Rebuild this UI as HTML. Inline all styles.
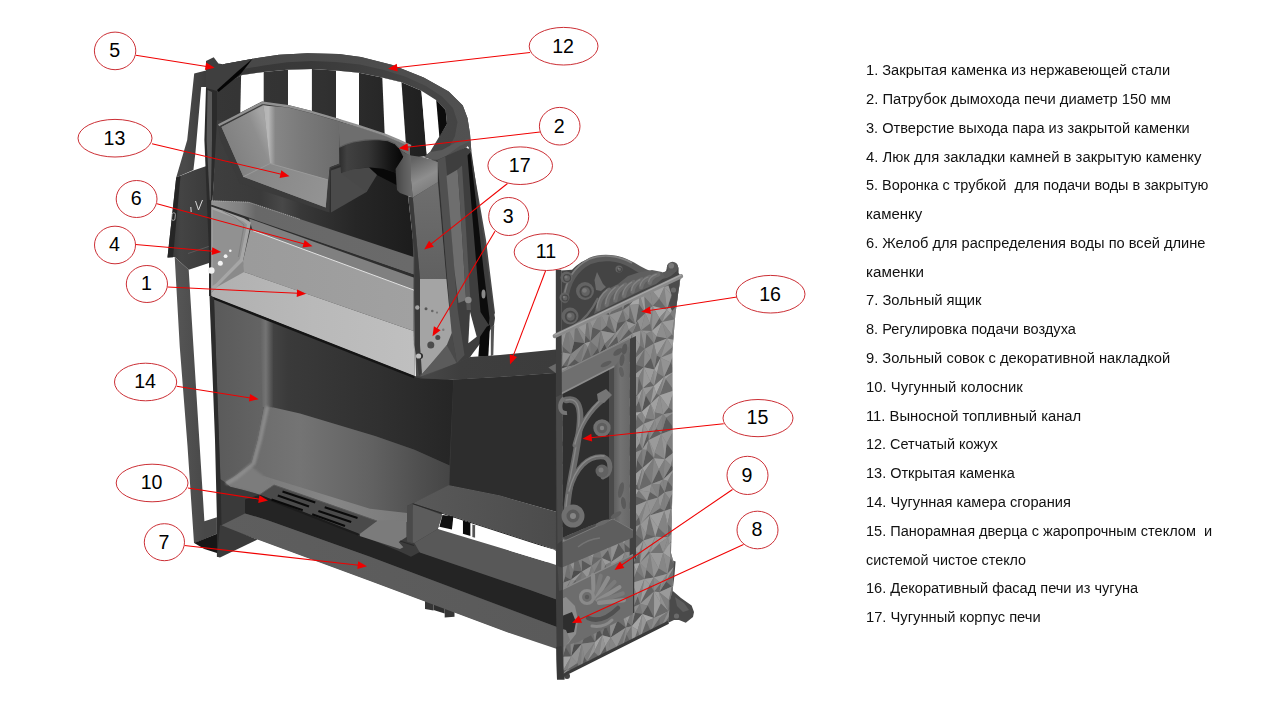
<!DOCTYPE html>
<html><head><meta charset="utf-8"><title>Stove diagram</title>
<style>
html,body{margin:0;padding:0;background:#fff;}
body{width:1280px;height:720px;position:relative;overflow:hidden;font-family:"Liberation Sans",sans-serif;}
.t{position:absolute;left:866px;white-space:pre;color:#111;font-size:14px;line-height:20px;transform-origin:0 50%;}
</style></head><body>
<svg width="1280" height="720" viewBox="0 0 1280 720" style="position:absolute;left:0;top:0"><defs><linearGradient id="gBack" gradientUnits="userSpaceOnUse" x1="217" y1="0" x2="430" y2="0"><stop offset="0" stop-color="#363636"/><stop offset="0.5" stop-color="#313131"/><stop offset="1" stop-color="#1f1f1f"/></linearGradient><linearGradient id="gRing" gradientUnits="userSpaceOnUse" x1="220" y1="0" x2="470" y2="0"><stop offset="0" stop-color="#383838"/><stop offset="0.35" stop-color="#393939"/><stop offset="0.8" stop-color="#464646"/><stop offset="1" stop-color="#434343"/></linearGradient><linearGradient id="gRingTop" gradientUnits="userSpaceOnUse" x1="220" y1="0" x2="470" y2="0"><stop offset="0" stop-color="#474747"/><stop offset="0.4" stop-color="#4a4a4a"/><stop offset="1" stop-color="#515151"/></linearGradient><linearGradient id="gLP0" gradientUnits="userSpaceOnUse" x1="185" y1="0" x2="206" y2="0"><stop offset="0" stop-color="#4a4a4a"/><stop offset="1" stop-color="#3c3c3c"/></linearGradient><linearGradient id="gPlate" gradientUnits="userSpaceOnUse" x1="168" y1="0" x2="211" y2="0"><stop offset="0" stop-color="#343434"/><stop offset="0.3" stop-color="#444444"/><stop offset="1" stop-color="#3a3a3a"/></linearGradient><linearGradient id="gLP" gradientUnits="userSpaceOnUse" x1="175" y1="0" x2="205" y2="0"><stop offset="0" stop-color="#565656"/><stop offset="1" stop-color="#484848"/></linearGradient><linearGradient id="gBody" gradientUnits="userSpaceOnUse" x1="217" y1="0" x2="415" y2="0"><stop offset="0" stop-color="#3e3e3e"/><stop offset="0.22" stop-color="#3a3a3a"/><stop offset="0.33" stop-color="#484848"/><stop offset="0.42" stop-color="#383838"/><stop offset="0.7" stop-color="#262626"/><stop offset="1" stop-color="#1c1c1c"/></linearGradient><linearGradient id="gBT" gradientUnits="userSpaceOnUse" x1="411" y1="160" x2="430" y2="195"><stop offset="0" stop-color="#626262"/><stop offset="0.55" stop-color="#8e8e8e"/><stop offset="1" stop-color="#777777"/></linearGradient><linearGradient id="gBR" gradientUnits="userSpaceOnUse" x1="0" y1="185" x2="0" y2="280"><stop offset="0" stop-color="#6e6e6e"/><stop offset="1" stop-color="#606060"/></linearGradient><linearGradient id="gPanL" gradientUnits="userSpaceOnUse" x1="222" y1="150" x2="268" y2="130"><stop offset="0" stop-color="#7d7d7d"/><stop offset="0.75" stop-color="#8e8e8e"/><stop offset="1" stop-color="#a4a4a4"/></linearGradient><linearGradient id="gPanB" gradientUnits="userSpaceOnUse" x1="263" y1="0" x2="340" y2="0"><stop offset="0" stop-color="#b2b2b2"/><stop offset="0.07" stop-color="#b8b8b8"/><stop offset="0.16" stop-color="#868686"/><stop offset="0.5" stop-color="#7a7a7a"/><stop offset="1" stop-color="#6c6c6c"/></linearGradient><linearGradient id="gPanF" gradientUnits="userSpaceOnUse" x1="250" y1="170" x2="325" y2="200"><stop offset="0" stop-color="#868686"/><stop offset="1" stop-color="#939393"/></linearGradient><linearGradient id="gPipe" gradientUnits="userSpaceOnUse" x1="339" y1="0" x2="404" y2="0"><stop offset="0" stop-color="#2c2c2c"/><stop offset="0.12" stop-color="#414141"/><stop offset="0.45" stop-color="#353535"/><stop offset="0.8" stop-color="#141414"/><stop offset="1" stop-color="#050505"/></linearGradient><linearGradient id="gTab" gradientUnits="userSpaceOnUse" x1="396" y1="0" x2="412" y2="0"><stop offset="0" stop-color="#464646"/><stop offset="0.5" stop-color="#5a5a5a"/><stop offset="1" stop-color="#6a6a6a"/></linearGradient><linearGradient id="gTr" gradientUnits="userSpaceOnUse" x1="211" y1="0" x2="414" y2="0"><stop offset="0" stop-color="#949494"/><stop offset="0.15" stop-color="#808080"/><stop offset="0.22" stop-color="#686868"/><stop offset="1" stop-color="#6a6a6a"/></linearGradient><linearGradient id="gHB" gradientUnits="userSpaceOnUse" x1="250" y1="0" x2="414" y2="0"><stop offset="0" stop-color="#9b9b9b"/><stop offset="1" stop-color="#a1a1a1"/></linearGradient><linearGradient id="gHF" gradientUnits="userSpaceOnUse" x1="212" y1="0" x2="414" y2="0"><stop offset="0" stop-color="#b0b0b0"/><stop offset="0.5" stop-color="#b9b9b9"/><stop offset="1" stop-color="#bfbfbf"/></linearGradient><filter id="fBlur" x="-20%" y="-20%" width="140%" height="140%"><feGaussianBlur stdDeviation="1.3"/></filter><linearGradient id="gCB" gradientUnits="userSpaceOnUse" x1="270" y1="0" x2="452" y2="0"><stop offset="0" stop-color="#444444"/><stop offset="0.1" stop-color="#3a3a3a"/><stop offset="0.6" stop-color="#303030"/><stop offset="1" stop-color="#262626"/></linearGradient><linearGradient id="gCL" gradientUnits="userSpaceOnUse" x1="250" y1="0" x2="450" y2="0"><stop offset="0" stop-color="#6c6c6c"/><stop offset="0.25" stop-color="#747474"/><stop offset="0.6" stop-color="#626262"/><stop offset="0.85" stop-color="#4f4f4f"/><stop offset="1" stop-color="#454545"/></linearGradient><linearGradient id="gCL2" gradientUnits="userSpaceOnUse" x1="260" y1="0" x2="407" y2="0"><stop offset="0" stop-color="#7a7a7a"/><stop offset="0.5" stop-color="#868686"/><stop offset="1" stop-color="#7a7a7a"/></linearGradient><linearGradient id="gCLf" gradientUnits="userSpaceOnUse" x1="214" y1="0" x2="264" y2="0"><stop offset="0" stop-color="#5a5a5a"/><stop offset="1" stop-color="#646464"/></linearGradient><linearGradient id="gHL" gradientUnits="userSpaceOnUse" x1="260" y1="0" x2="273" y2="0"><stop offset="0" stop-color="#626262"/><stop offset="0.45" stop-color="#747474"/><stop offset="1" stop-color="#474747"/></linearGradient><linearGradient id="gAsh" gradientUnits="userSpaceOnUse" x1="220" y1="0" x2="557" y2="0"><stop offset="0" stop-color="#5e5e5e"/><stop offset="1" stop-color="#5a5a5a"/></linearGradient><linearGradient id="gChT" gradientUnits="userSpaceOnUse" x1="420" y1="0" x2="556" y2="0"><stop offset="0" stop-color="#484848"/><stop offset="0.3" stop-color="#3e3e3e"/><stop offset="1" stop-color="#3c3c3c"/></linearGradient><linearGradient id="gBoxT" gradientUnits="userSpaceOnUse" x1="413" y1="0" x2="562" y2="0"><stop offset="0" stop-color="#595959"/><stop offset="1" stop-color="#4b4b4b"/></linearGradient><clipPath id="cFace"><polygon points="561.0,334.0 680.6,277.3 679.5,285.0 678.4,291.5 675.3,315.0 672.3,352.0 672.6,480.0 671.0,553.0 673.5,562.0 672.6,590.8 670.0,600.0 668.3,622.8 568.7,672.5 563.0,673.0 561.5,540.0"/></clipPath><linearGradient id="gFr" gradientUnits="userSpaceOnUse" x1="614" y1="0" x2="630" y2="0"><stop offset="0" stop-color="#5e5e5e"/><stop offset="0.4" stop-color="#727272"/><stop offset="1" stop-color="#686868"/></linearGradient></defs><polygon points="217.0,88.0 242.0,75.0 263.7,72.0 287.0,69.7 312.0,69.0 335.6,70.5 359.0,72.8 382.0,77.5 401.0,82.0 421.4,90.8 426.0,148.0 427.0,156.0 411.0,158.0 340.0,150.0 259.8,104.0 218.4,126.0 217.0,126.0" fill="url(#gBack)" />
<polygon points="241.1,75.2 263.7,72.0 263.7,104.0 240.3,113.0" fill="#fff" />
<polygon points="288.0,69.8 311.9,69.0 311.9,113.0 288.0,107.0" fill="#fff" />
<polygon points="336.0,70.6 359.0,72.8 359.0,127.0 336.0,120.0" fill="#fff" />
<polygon points="382.3,77.5 401.5,82.2 405.8,143.0 384.7,135.0" fill="#fff" />
<polygon points="421.4,90.8 436.2,100.0 439.4,137.0 437.8,151.0 426.9,154.0" fill="#fff" />
<polygon points="217.0,90.0 223.0,64.2 253.0,58.7 279.0,54.8 307.5,53.3 338.7,54.0 361.0,57.0 392.5,65.0 423.7,77.5 448.7,91.5 462.8,105.6 467.5,118.0 470.0,133.7 471.4,152.0 468.0,146.0 437.8,161.0 424.0,157.0 430.0,152.0 439.0,137.0 447.0,124.0 445.6,110.0 436.0,100.0 421.4,90.8 401.0,82.0 382.0,77.5 359.0,72.8 335.6,70.5 312.0,69.0 287.0,69.7 263.7,72.0 242.0,75.0" fill="url(#gRing)" />
<polygon points="223.0,64.2 253.0,58.7 279.0,54.8 307.5,53.3 338.7,54.0 361.0,57.0 392.5,65.0 423.7,77.5 448.7,91.5 462.8,105.6 467.5,118.0 470.0,133.7 471.4,152.0 468.0,146.0 452.0,154.0 444.0,156.0 449.0,148.0 455.0,136.0 457.5,122.0 453.0,108.0 442.0,96.5 426.0,86.0 405.0,76.5 384.0,70.0 360.0,64.5 336.0,62.0 312.0,61.0 287.0,62.3 263.7,65.5 240.0,69.5" fill="url(#gRingTop)" />
<polygon points="436.2,100.0 445.6,110.0 447.0,124.0 439.4,137.0" fill="#0c0c0c" />
<polygon points="424.0,157.0 430.0,152.0 442.0,150.0 455.0,143.0 468.0,139.0 470.6,141.0 459.7,146.0 437.8,162.0" fill="#5a5a5a" />
<polygon points="194.2,73.6 206.0,70.5 206.0,87.0 201.2,87.0 195.5,152.0 193.4,170.0 176.2,177.5 187.2,140.0" fill="url(#gLP0)" />
<polygon points="176.2,177.5 193.4,170.5 206.5,166.0 212.0,200.0 212.0,262.0 188.7,269.7 174.7,257.0 167.5,257.5" fill="url(#gPlate)" />
<polygon points="167.5,257.5 176.2,177.5 180.5,176.0 173.0,257.2" fill="#262626" />
<polyline points="188.0,253.5 210.0,246.0" fill="none" stroke="#5a5a5a" stroke-width="1" />
<polyline points="195.5,201.0 198.5,210.0 202.5,200.0" fill="none" stroke="#d8d8d8" stroke-width="1" />
<polyline points="190.8,207.0 191.2,212.0" fill="none" stroke="#d8d8d8" stroke-width="1" />
<rect x="171.8" y="212.8" width="3.4" height="7.6" rx="1.6" fill="none" stroke="#b8b8b8" stroke-width="0.8" transform="rotate(6 173.5 216.5)"/>
<polygon points="174.7,257.0 188.7,269.7 193.4,346.0 199.7,446.0 204.4,521.2 216.9,517.3 216.9,533.7 195.0,543.0 194.0,543.0 187.5,446.0 179.7,346.0" fill="url(#gLP)" />
<polygon points="194.2,543.0 216.9,533.7 218.4,553.5 204.4,549.0" fill="#161616" />
<polygon points="206.0,87.0 217.0,90.0 217.0,140.0 212.5,201.0 211.5,296.0 209.0,296.0 209.0,252.0 204.4,140.0" fill="#2b2b2b" />
<polygon points="207.6,90.0 212.0,92.0 212.0,140.0 210.8,200.0 209.8,200.0 206.6,140.0" fill="#595959" />
<polygon points="206.0,61.0 213.7,57.2 218.4,63.4 223.0,64.2 252.8,58.7 217.0,91.0 206.0,88.0" fill="#3f3f3f" />
<polygon points="252.8,58.4 238.0,71.0 217.0,90.0 218.6,92.0 241.0,73.5" fill="#050505" />
<polygon points="217.0,120.0 415.0,160.0 408.0,196.0 414.4,252.0 414.4,380.0 211.5,300.0 212.5,201.0" fill="url(#gBody)" />
<polygon points="409.0,158.0 440.0,160.0 470.0,148.0 486.0,240.0 495.0,313.0 470.0,357.0 452.0,376.0 416.0,380.0 413.0,250.0" fill="#4a4a4a" />
<polygon points="436.7,160.3 445.0,156.5 466.0,147.0 471.5,152.0 478.2,200.0 488.0,270.0 493.6,310.0 495.0,318.0 494.0,325.0 470.0,357.0 457.0,363.0 451.7,333.0 449.0,310.0" fill="#3e3e3e" />
<polygon points="436.7,160.5 445.3,156.5 449.5,200.0 454.4,270.0 457.7,310.0 464.5,355.0 457.0,363.0 451.7,333.0 449.0,310.0 445.7,270.0 440.0,200.0" fill="#505050" />
<polyline points="436.9,160.5 440.2,200.0 445.9,270.0 449.2,310.0" fill="none" stroke="#303030" stroke-width="1.2" />
<polygon points="446.5,176.0 457.6,169.5 459.8,200.0 464.2,270.0 466.1,300.0 458.5,303.0 454.4,270.0 448.6,200.0" fill="#6e6e6e" />
<polygon points="457.6,169.5 462.0,165.5 464.2,200.0 468.5,270.0 471.0,310.0 466.7,310.0 464.2,270.0 459.8,200.0" fill="#565656" />
<polygon points="467.5,155.5 470.3,152.5 475.8,200.0 483.6,270.0 489.5,318.0 488.8,325.0 480.5,312.0 476.8,270.0 471.0,200.0" fill="#0c0c0c" />
<polygon points="470.0,311.7 476.7,336.7 468.3,343.3" fill="#fff" />
<polygon points="470.5,358.0 486.0,337.0 478.5,354.0 478.3,357.5" fill="#fff" />
<polygon points="478.3,356.7 480.0,336.7 486.7,326.7 490.0,325.0 488.3,356.7" fill="#0a0a0a" />
<polygon points="490.8,327.0 494.2,325.0 493.3,355.0 490.8,356.0" fill="#555" />
<circle cx="468.3" cy="300" r="3.3" fill="#8a8a8a"/>
<ellipse cx="483.5" cy="294" rx="2" ry="4.5" fill="#8a8a8a"/>
<polygon points="411.0,155.6 423.7,157.2 437.8,161.9 437.8,182.2 412.8,197.5 411.0,180.6" fill="url(#gBT)" />
<polygon points="412.8,197.8 437.8,182.0 446.4,279.0 420.0,279.0" fill="url(#gBR)" />
<polygon points="408.0,196.0 412.8,197.8 420.0,279.0 420.0,345.0 423.7,352.0 422.0,372.0 419.0,376.0 414.4,345.0 414.4,252.0" fill="#3a3a3a" />
<polygon points="217.5,124.4 262.0,101.5 288.0,105.0 311.9,111.0 336.0,118.0 340.5,119.5 340.5,165.0 330.5,168.5 329.5,212.5 326.0,211.5 239.5,183.0 220.5,140.0" fill="#3b3b3b" />
<polygon points="221.5,127.0 263.0,105.0 338.7,121.5 338.7,163.5 329.4,167.0 325.7,207.5 243.4,176.7" fill="#828282" />
<polygon points="221.5,127.0 263.5,105.5 270.0,163.5 243.4,176.7" fill="url(#gPanL)" />
<polygon points="263.5,105.5 288.0,107.5 311.9,113.5 338.7,121.5 338.7,163.5 329.4,167.0 327.8,179.8 270.0,163.5" fill="url(#gPanB)" />
<polygon points="243.4,176.7 270.0,163.5 327.8,179.8 325.7,207.5" fill="url(#gPanF)" />
<polyline points="243.4,176.7 270.0,163.5 327.8,179.8" fill="none" stroke="#9a9a9a" stroke-width="1" />
<polygon points="338.7,121.5 359.0,127.0 384.7,135.5 399.0,141.5 410.0,146.0 410.0,156.0 399.0,149.0 388.0,141.0 377.0,139.8 365.0,140.5 353.4,142.3 339.4,147.5" fill="#6e6e6e" />
<polyline points="218.6,125.2 262.5,102.8 288.0,106.2 311.9,112.2 336.0,119.2 359.0,126.2 384.7,134.7 399.0,140.6 411.0,146.0" fill="none" stroke="#919191" stroke-width="2.4" stroke-linejoin="round"/>
<polygon points="331.0,170.5 341.0,167.0 376.0,173.0 366.5,192.0 331.0,212.5" fill="#4a4a4a" />
<polygon points="339.4,147.5 346.0,144.5 353.4,142.3 365.0,140.5 377.0,139.8 388.0,141.0 395.0,144.0 398.7,148.0 403.4,157.0 398.7,166.5 395.6,172.5 383.0,168.5 369.0,167.3 355.0,169.0 341.0,173.3" fill="url(#gPipe)" />
<polyline points="339.4,147.3 346.0,144.3 353.4,142.0 365.0,140.2 377.0,139.5 388.0,140.7 395.0,143.7 398.7,147.7" fill="none" stroke="#5c5c5c" stroke-width="1.2" />
<polygon points="369.0,167.5 383.0,168.7 395.6,172.7 396.5,185.0 377.0,175.0" fill="#080808" />
<polygon points="395.6,169.0 403.4,157.0 399.5,149.0 405.0,153.0 411.0,155.6 411.0,180.6 412.8,197.5 408.0,196.0 400.0,193.0 397.0,190.0" fill="url(#gTab)" />
<polygon points="341.0,173.3 355.0,169.0 369.0,167.5 377.0,175.0 366.5,192.0" fill="#484848" />
<polygon points="211.2,200.6 248.7,202.0 413.7,257.0 413.7,274.7 211.2,205.3" fill="url(#gTr)" />
<polyline points="212.0,200.8 248.7,202.2 300.0,219.3" fill="none" stroke="#b0b0b0" stroke-width="0.8" stroke-dasharray="1.2,1"/>
<polyline points="211.2,206.0 413.7,275.9" fill="none" stroke="#2e2e2e" stroke-width="2.6" />
<polygon points="249.0,218.5 413.7,277.5 413.7,290.5 252.8,231.0" fill="#808080" />
<polygon points="211.2,294.0 217.0,285.0 243.0,259.0 245.0,272.0 217.0,289.0" fill="#8a8a8a" />
<polygon points="211.2,206.5 244.0,218.3 251.0,222.5 243.0,261.0 217.0,287.0 211.2,293.0" fill="#a6a6a6" />
<polygon points="212.5,209.5 243.0,221.3 247.0,224.5 240.0,259.0 216.0,283.5 212.5,286.0" fill="#919191" />
<polyline points="222.0,210.5 236.0,218.0 244.0,225.0 238.5,257.0" fill="none" stroke="#7a7a7a" stroke-width="0.8" />
<circle cx="230.3" cy="250.7" r="1.3" fill="#f4f4f4"/>
<circle cx="225.6" cy="256.2" r="1.9" fill="#f4f4f4"/>
<circle cx="220.3" cy="263.3" r="2.5" fill="#f4f4f4"/>
<circle cx="211.3" cy="270.5" r="3.3" fill="#f2f2f2"/>
<polygon points="250.6,229.0 252.8,230.6 413.7,290.0 413.7,331.0 244.0,271.9 243.0,261.0" fill="url(#gHB)" />
<polyline points="252.8,230.6 413.7,290.0" fill="none" stroke="#e2e2e2" stroke-width="1" />
<polygon points="211.2,293.0 217.0,287.0 244.0,271.9 413.7,331.0 414.4,376.5 212.0,298.0" fill="url(#gHF)" />
<polygon points="420.0,279.0 446.4,279.0 451.7,333.0 445.6,348.0 422.0,374.0 420.0,345.0" fill="#a4a4a4" />
<circle cx="426" cy="308.7" r="1.5" fill="#555"/>
<circle cx="432.3" cy="311" r="1.3" fill="#666"/>
<circle cx="437" cy="312.6" r="1.1" fill="#777"/>
<circle cx="443.3" cy="329.8" r="1.2" fill="#7a7a7a"/>
<circle cx="437.8" cy="337.6" r="2.5" fill="#4a4a4a"/>
<circle cx="430.8" cy="344.9" r="3.5" fill="#4c4c4c"/>
<circle cx="417.3" cy="307.5" r="2.2" fill="#a4a4a4"/>
<circle cx="420" cy="356" r="3" fill="#2a2a2a"/>
<circle cx="418.6" cy="356" r="2.6" fill="#bdbdbd"/>
<polygon points="210.0,296.0 414.0,376.0 453.4,379.5 500.0,377.0 556.0,373.0 562.0,376.0 562.0,513.0 500.0,496.0 449.5,486.0 437.8,529.0 440.0,531.0 557.0,566.0 557.0,648.0 506.5,631.5 370.0,580.5 257.5,539.0 221.0,526.0 217.0,470.0" fill="#3c3c3c" />
<polygon points="264.0,317.0 414.4,377.2 419.8,378.3 453.4,380.0 449.5,465.5 414.4,449.8 375.0,436.0 330.0,422.5 300.0,413.5 271.5,407.0 264.0,407.0" fill="url(#gCB)" />
<polygon points="263.7,407.0 271.5,407.0 300.0,413.5 330.0,422.5 375.0,436.0 414.4,449.8 449.5,465.5 449.5,486.0 412.8,503.3 407.0,506.0 407.0,522.0 377.0,521.0 274.0,485.0 259.8,494.7 243.3,490.0 230.0,486.7 224.7,482.0 232.5,477.5 251.2,463.4 257.5,440.0" fill="url(#gCL)" />
<polygon points="256.0,481.0 263.7,476.0 370.0,508.7 407.0,513.0 407.0,522.0 377.0,521.0 274.0,485.0 259.8,494.7" fill="url(#gCL2)" />
<polygon points="224.7,482.0 232.5,477.5 251.0,466.0 263.7,476.0 274.0,485.0 259.8,494.7 243.3,490.0 230.0,486.7" fill="#7c7c7c" filter="url(#fBlur)"/>
<polygon points="217.0,470.0 224.7,482.0 230.0,486.7 243.3,490.0 259.8,494.7 245.0,499.4 245.0,513.4 221.5,525.2 219.0,525.0" fill="#3a3a3a" />
<polygon points="214.0,298.0 264.0,317.0 263.7,407.0 257.5,440.0 251.2,463.4 232.5,477.5 224.7,482.0 220.2,479.0" fill="url(#gCLf)" />
<polygon points="260.0,315.5 273.0,320.5 273.0,407.3 262.5,407.0" fill="url(#gHL)" />
<polyline points="267.0,408.0 260.0,440.0 253.5,463.5 236.0,478.0 227.5,483.0" fill="none" stroke="#929292" stroke-width="4" stroke-linecap="round" stroke-linejoin="round" opacity="0.8" filter="url(#fBlur)"/>
<polyline points="210.5,297.0 414.4,377.2" fill="none" stroke="#151515" stroke-width="2.4" />
<polygon points="209.5,295.5 214.0,298.0 220.5,480.0 221.5,525.0 218.4,557.0 216.9,556.7 216.9,517.0 215.0,440.0" fill="#2c2c2c" />
<polygon points="245.0,499.4 259.8,494.7 358.0,534.0 398.7,551.0 411.0,556.7 419.8,552.0 530.0,589.7 557.0,599.5 557.0,627.0 370.0,556.7 266.9,520.0 245.0,513.4" fill="#242424" />
<polygon points="358.0,534.0 377.0,520.5 406.5,520.5 406.5,537.0 398.7,542.0 403.4,547.3 400.0,549.0 358.0,535.6" fill="#7b7b7b" />
<polygon points="259.8,494.7 274.0,485.0 377.0,521.0 359.7,534.0" fill="#4a4a4a" />
<polyline points="259.8,494.7 274.0,485.0 377.0,521.0" fill="none" stroke="#5c5c5c" stroke-width="1" />
<polygon points="259.8,494.7 359.7,534.0 359.7,536.2 259.8,497.0" fill="#1c1c1c" />
<polyline points="282.5,491.5 315.3,502.5" fill="none" stroke="#0a0a0a" stroke-width="2.1" />
<polyline points="277.8,495.5 309.0,506.4" fill="none" stroke="#0a0a0a" stroke-width="2.1" />
<polyline points="271.5,499.4 302.8,510.3" fill="none" stroke="#0a0a0a" stroke-width="2.1" />
<polyline points="324.7,507.2 357.5,518.0" fill="none" stroke="#0a0a0a" stroke-width="2.1" />
<polyline points="318.4,511.0 351.2,522.0" fill="none" stroke="#0a0a0a" stroke-width="2.1" />
<polyline points="312.2,514.2 345.0,526.0" fill="none" stroke="#0a0a0a" stroke-width="2.1" />
<polygon points="425.0,598.0 433.5,601.0 433.5,610.5 425.0,609.0" fill="#363636" />
<polygon points="433.5,603.0 444.7,607.0 444.7,613.5 433.5,610.0" fill="#2e2e2e" />
<polygon points="444.7,607.0 454.5,610.0 454.5,616.7 444.7,617.4" fill="#363636" />
<polygon points="221.5,525.2 245.0,513.4 266.9,520.0 370.0,556.7 530.0,617.0 557.0,627.0 557.0,649.0 506.5,632.0 370.0,581.0 257.5,539.5 221.5,527.0" fill="url(#gAsh)" />
<polygon points="220.0,524.7 257.5,539.5 220.0,557.5 217.0,556.7" fill="#3a3a3a" />
<polygon points="420.0,376.7 446.7,345.0 456.7,363.3" fill="#5b5b5b" />
<polygon points="419.8,378.3 456.7,363.0 470.0,357.0 500.0,355.0 556.2,349.5 556.2,373.0 500.0,377.0 453.4,379.8" fill="url(#gChT)" />
<polygon points="453.4,379.8 500.0,377.0 556.2,373.0 562.5,376.0 562.5,513.6 500.0,495.6 449.5,485.3" fill="#2d2d2d" />
<polygon points="412.8,503.3 448.7,485.3 500.0,495.6 562.5,513.6 562.5,548.0 557.0,550.0 530.0,541.5" fill="url(#gBoxT)" />
<polygon points="412.8,504.0 442.5,515.0 437.8,529.0 414.4,543.0 408.0,541.5" fill="#5c5c5c" />
<polygon points="407.0,506.0 412.8,503.3 412.8,543.0 407.0,541.5" fill="#4a4a4a" />
<polyline points="412.8,503.8 557.0,550.5" fill="none" stroke="#2a2a2a" stroke-width="1" />
<polyline points="400.0,541.0 414.0,545.5" fill="none" stroke="#2a2a2a" stroke-width="1.2" />
<polygon points="437.8,529.0 514.0,552.0 546.9,562.0 557.8,565.5 557.8,600.0 530.0,590.0 419.8,552.5 414.4,543.0" fill="#585858" />
<polygon points="442.5,515.0 453.4,516.5 451.9,529.5 439.4,526.7" fill="#111" />
<polygon points="462.8,520.5 470.6,522.8 470.6,536.0 462.8,533.7" fill="#0a0a0a" />
<polygon points="472.2,524.4 475.3,525.2 475.3,537.7 472.2,536.9" fill="#555" />
<polygon points="453.4,518.0 462.8,521.2 462.8,533.7 453.4,529.8" fill="#fff" />
<polygon points="470.6,523.0 472.2,524.4 472.2,536.9 470.6,536.0" fill="#fff" />
<polygon points="475.3,526.0 530.0,543.0 554.7,549.7 554.7,559.0 546.9,562.0 514.0,552.0 475.3,538.4" fill="#fff" />
<polygon points="671.0,560.0 675.6,561.6 674.5,575.0 672.6,590.8 681.0,598.0 691.6,605.4 694.0,612.0 693.0,617.0 685.8,622.8 679.0,620.0 674.0,620.0 668.3,622.8 664.0,618.0 668.0,600.0" fill="#4a4a4a" />
<circle cx="676.5" cy="616" r="2.6" fill="#6a6a6a"/>
<polygon points="675.0,597.0 684.0,603.0 689.0,610.0 683.0,612.0 677.0,606.0" fill="#5e5e5e" />
<polygon points="561.0,334.0 680.6,277.3 679.5,285.0 678.4,291.5 675.3,315.0 672.3,352.0 672.6,480.0 671.0,553.0 673.5,562.0 672.6,590.8 670.0,600.0 668.3,622.8 568.7,672.5 563.0,673.0 561.5,540.0" fill="#777777" />
<g clip-path="url(#cFace)">
<polygon points="537.9,248.2 547.9,246.6 539.1,256.8" fill="#9d9d9d" />
<polygon points="547.9,246.6 546.1,265.9 539.1,256.8" fill="#727272" />
<polygon points="546.1,265.9 534.2,264.6 539.1,256.8" fill="#606060" />
<polygon points="534.2,264.6 537.9,248.2 539.1,256.8" fill="#868686" />
<polygon points="547.9,246.6 560.2,240.5 552.9,249.0" fill="#909090" />
<polygon points="560.2,240.5 557.5,257.3 552.9,249.0" fill="#7c7c7c" />
<polygon points="557.5,257.3 546.1,265.9 552.9,249.0" fill="#4f4f4f" />
<polygon points="546.1,265.9 547.9,246.6 552.9,249.0" fill="#818181" />
<polygon points="560.2,240.5 571.5,230.8 565.4,250.2" fill="#878787" />
<polygon points="571.5,230.8 566.3,253.7 565.4,250.2" fill="#7a7a7a" />
<polygon points="566.3,253.7 557.5,257.3 565.4,250.2" fill="#5d5d5d" />
<polygon points="557.5,257.3 560.2,240.5 565.4,250.2" fill="#7f7f7f" />
<polygon points="571.5,230.8 581.6,225.6 572.4,244.8" fill="#989898" />
<polygon points="581.6,225.6 579.2,252.2 572.4,244.8" fill="#787878" />
<polygon points="579.2,252.2 566.3,253.7 572.4,244.8" fill="#5e5e5e" />
<polygon points="566.3,253.7 571.5,230.8 572.4,244.8" fill="#7c7c7c" />
<polygon points="581.6,225.6 590.0,221.0 586.4,232.4" fill="#979797" />
<polygon points="590.0,221.0 588.9,241.8 586.4,232.4" fill="#7c7c7c" />
<polygon points="588.9,241.8 579.2,252.2 586.4,232.4" fill="#535353" />
<polygon points="579.2,252.2 581.6,225.6 586.4,232.4" fill="#7e7e7e" />
<polygon points="590.0,221.0 605.0,219.6 595.8,230.7" fill="#8b8b8b" />
<polygon points="605.0,219.6 601.3,239.6 595.8,230.7" fill="#707070" />
<polygon points="601.3,239.6 588.9,241.8 595.8,230.7" fill="#5c5c5c" />
<polygon points="588.9,241.8 590.0,221.0 595.8,230.7" fill="#8b8b8b" />
<polygon points="605.0,219.6 611.8,211.7 604.3,227.6" fill="#919191" />
<polygon points="611.8,211.7 608.2,236.7 604.3,227.6" fill="#838383" />
<polygon points="608.2,236.7 601.3,239.6 604.3,227.6" fill="#595959" />
<polygon points="601.3,239.6 605.0,219.6 604.3,227.6" fill="#8d8d8d" />
<polygon points="611.8,211.7 626.7,211.8 616.4,224.9" fill="#8e8e8e" />
<polygon points="626.7,211.8 617.7,234.3 616.4,224.9" fill="#757575" />
<polygon points="617.7,234.3 608.2,236.7 616.4,224.9" fill="#555555" />
<polygon points="608.2,236.7 611.8,211.7 616.4,224.9" fill="#858585" />
<polygon points="626.7,211.8 633.9,206.4 627.3,218.4" fill="#8c8c8c" />
<polygon points="633.9,206.4 632.0,223.8 627.3,218.4" fill="#6e6e6e" />
<polygon points="632.0,223.8 617.7,234.3 627.3,218.4" fill="#4c4c4c" />
<polygon points="617.7,234.3 626.7,211.8 627.3,218.4" fill="#818181" />
<polygon points="633.9,206.4 642.3,205.4 638.7,212.5" fill="#959595" />
<polygon points="642.3,205.4 640.9,216.2 638.7,212.5" fill="#717171" />
<polygon points="640.9,216.2 632.0,223.8 638.7,212.5" fill="#555555" />
<polygon points="632.0,223.8 633.9,206.4 638.7,212.5" fill="#868686" />
<polygon points="642.3,205.4 654.2,199.3 645.4,207.2" fill="#949494" />
<polygon points="654.2,199.3 652.5,210.1 645.4,207.2" fill="#828282" />
<polygon points="652.5,210.1 640.9,216.2 645.4,207.2" fill="#5b5b5b" />
<polygon points="640.9,216.2 642.3,205.4 645.4,207.2" fill="#929292" />
<polygon points="654.2,199.3 663.7,187.2 659.6,202.4" fill="#939393" />
<polygon points="663.7,187.2 662.4,212.4 659.6,202.4" fill="#747474" />
<polygon points="662.4,212.4 652.5,210.1 659.6,202.4" fill="#626262" />
<polygon points="652.5,210.1 654.2,199.3 659.6,202.4" fill="#7d7d7d" />
<polygon points="663.7,187.2 678.4,183.9 670.8,203.0" fill="#a5a5a5" />
<polygon points="678.4,183.9 671.4,208.6 670.8,203.0" fill="#7e7e7e" />
<polygon points="671.4,208.6 662.4,212.4 670.8,203.0" fill="#707070" />
<polygon points="662.4,212.4 663.7,187.2 670.8,203.0" fill="#929292" />
<polygon points="678.4,183.9 687.5,177.7 682.5,197.2" fill="#999999" />
<polygon points="687.5,177.7 683.6,201.9 682.5,197.2" fill="#818181" />
<polygon points="683.6,201.9 671.4,208.6 682.5,197.2" fill="#545454" />
<polygon points="671.4,208.6 678.4,183.9 682.5,197.2" fill="#848484" />
<polygon points="687.5,177.7 696.7,177.4 691.5,184.8" fill="#a0a0a0" />
<polygon points="696.7,177.4 693.2,195.8 691.5,184.8" fill="#8e8e8e" />
<polygon points="693.2,195.8 683.6,201.9 691.5,184.8" fill="#646464" />
<polygon points="683.6,201.9 687.5,177.7 691.5,184.8" fill="#959595" />
<polygon points="696.7,177.4 705.4,171.5 702.6,181.6" fill="#979797" />
<polygon points="705.4,171.5 706.7,193.4 702.6,181.6" fill="#777777" />
<polygon points="706.7,193.4 693.2,195.8 702.6,181.6" fill="#555555" />
<polygon points="693.2,195.8 696.7,177.4 702.6,181.6" fill="#828282" />
<polygon points="534.2,264.6 546.1,265.9 541.6,278.6" fill="#9d9d9d" />
<polygon points="546.1,265.9 551.7,278.7 541.6,278.6" fill="#747474" />
<polygon points="551.7,278.7 541.0,287.7 541.6,278.6" fill="#636363" />
<polygon points="541.0,287.7 534.2,264.6 541.6,278.6" fill="#818181" />
<polygon points="546.1,265.9 557.5,257.3 555.0,271.7" fill="#979797" />
<polygon points="557.5,257.3 564.0,279.6 555.0,271.7" fill="#767676" />
<polygon points="564.0,279.6 551.7,278.7 555.0,271.7" fill="#595959" />
<polygon points="551.7,278.7 546.1,265.9 555.0,271.7" fill="#8a8a8a" />
<polygon points="557.5,257.3 566.3,253.7 562.5,271.7" fill="#949494" />
<polygon points="566.3,253.7 570.2,276.4 562.5,271.7" fill="#808080" />
<polygon points="570.2,276.4 564.0,279.6 562.5,271.7" fill="#595959" />
<polygon points="564.0,279.6 557.5,257.3 562.5,271.7" fill="#929292" />
<polygon points="566.3,253.7 579.2,252.2 575.1,261.0" fill="#989898" />
<polygon points="579.2,252.2 583.0,267.1 575.1,261.0" fill="#767676" />
<polygon points="583.0,267.1 570.2,276.4 575.1,261.0" fill="#646464" />
<polygon points="570.2,276.4 566.3,253.7 575.1,261.0" fill="#828282" />
<polygon points="579.2,252.2 588.9,241.8 587.5,252.4" fill="#9e9e9e" />
<polygon points="588.9,241.8 592.3,258.6 587.5,252.4" fill="#7c7c7c" />
<polygon points="592.3,258.6 583.0,267.1 587.5,252.4" fill="#606060" />
<polygon points="583.0,267.1 579.2,252.2 587.5,252.4" fill="#858585" />
<polygon points="588.9,241.8 601.3,239.6 593.3,244.1" fill="#8e8e8e" />
<polygon points="601.3,239.6 600.7,255.1 593.3,244.1" fill="#6f6f6f" />
<polygon points="600.7,255.1 592.3,258.6 593.3,244.1" fill="#545454" />
<polygon points="592.3,258.6 588.9,241.8 593.3,244.1" fill="#868686" />
<polygon points="601.3,239.6 608.2,236.7 604.5,242.4" fill="#8f8f8f" />
<polygon points="608.2,236.7 615.1,249.0 604.5,242.4" fill="#717171" />
<polygon points="615.1,249.0 600.7,255.1 604.5,242.4" fill="#5b5b5b" />
<polygon points="600.7,255.1 601.3,239.6 604.5,242.4" fill="#818181" />
<polygon points="608.2,236.7 617.7,234.3 615.2,238.5" fill="#979797" />
<polygon points="617.7,234.3 622.5,244.8 615.2,238.5" fill="#737373" />
<polygon points="622.5,244.8 615.1,249.0 615.2,238.5" fill="#5e5e5e" />
<polygon points="615.1,249.0 608.2,236.7 615.2,238.5" fill="#878787" />
<polygon points="617.7,234.3 632.0,223.8 625.4,240.7" fill="#898989" />
<polygon points="632.0,223.8 636.7,242.5 625.4,240.7" fill="#6a6a6a" />
<polygon points="636.7,242.5 622.5,244.8 625.4,240.7" fill="#585858" />
<polygon points="622.5,244.8 617.7,234.3 625.4,240.7" fill="#888888" />
<polygon points="632.0,223.8 640.9,216.2 640.0,228.2" fill="#8f8f8f" />
<polygon points="640.9,216.2 644.7,234.5 640.0,228.2" fill="#7e7e7e" />
<polygon points="644.7,234.5 636.7,242.5 640.0,228.2" fill="#5f5f5f" />
<polygon points="636.7,242.5 632.0,223.8 640.0,228.2" fill="#868686" />
<polygon points="640.9,216.2 652.5,210.1 649.7,223.2" fill="#a8a8a8" />
<polygon points="652.5,210.1 657.8,234.2 649.7,223.2" fill="#838383" />
<polygon points="657.8,234.2 644.7,234.5 649.7,223.2" fill="#737373" />
<polygon points="644.7,234.5 640.9,216.2 649.7,223.2" fill="#8d8d8d" />
<polygon points="652.5,210.1 662.4,212.4 660.4,221.2" fill="#8f8f8f" />
<polygon points="662.4,212.4 668.2,232.0 660.4,221.2" fill="#808080" />
<polygon points="668.2,232.0 657.8,234.2 660.4,221.2" fill="#545454" />
<polygon points="657.8,234.2 652.5,210.1 660.4,221.2" fill="#898989" />
<polygon points="662.4,212.4 671.4,208.6 671.7,215.1" fill="#979797" />
<polygon points="671.4,208.6 676.0,221.6 671.7,215.1" fill="#7a7a7a" />
<polygon points="676.0,221.6 668.2,232.0 671.7,215.1" fill="#5f5f5f" />
<polygon points="668.2,232.0 662.4,212.4 671.7,215.1" fill="#8e8e8e" />
<polygon points="671.4,208.6 683.6,201.9 678.4,210.5" fill="#909090" />
<polygon points="683.6,201.9 689.3,217.5 678.4,210.5" fill="#838383" />
<polygon points="689.3,217.5 676.0,221.6 678.4,210.5" fill="#646464" />
<polygon points="676.0,221.6 671.4,208.6 678.4,210.5" fill="#8e8e8e" />
<polygon points="683.6,201.9 693.2,195.8 687.9,211.9" fill="#a0a0a0" />
<polygon points="693.2,195.8 695.4,218.6 687.9,211.9" fill="#898989" />
<polygon points="695.4,218.6 689.3,217.5 687.9,211.9" fill="#676767" />
<polygon points="689.3,217.5 683.6,201.9 687.9,211.9" fill="#8d8d8d" />
<polygon points="693.2,195.8 706.7,193.4 698.5,200.7" fill="#909090" />
<polygon points="706.7,193.4 706.4,205.8 698.5,200.7" fill="#7b7b7b" />
<polygon points="706.4,205.8 695.4,218.6 698.5,200.7" fill="#5d5d5d" />
<polygon points="695.4,218.6 693.2,195.8 698.5,200.7" fill="#8b8b8b" />
<polygon points="541.0,287.7 551.7,278.7 544.5,291.1" fill="#949494" />
<polygon points="551.7,278.7 545.1,303.0 544.5,291.1" fill="#7e7e7e" />
<polygon points="545.1,303.0 535.9,304.3 544.5,291.1" fill="#5c5c5c" />
<polygon points="535.9,304.3 541.0,287.7 544.5,291.1" fill="#828282" />
<polygon points="551.7,278.7 564.0,279.6 555.0,293.0" fill="#949494" />
<polygon points="564.0,279.6 556.5,292.2 555.0,293.0" fill="#686868" />
<polygon points="556.5,292.2 545.1,303.0 555.0,293.0" fill="#515151" />
<polygon points="545.1,303.0 551.7,278.7 555.0,293.0" fill="#7b7b7b" />
<polygon points="564.0,279.6 570.2,276.4 565.9,289.2" fill="#969696" />
<polygon points="570.2,276.4 567.9,290.9 565.9,289.2" fill="#848484" />
<polygon points="567.9,290.9 556.5,292.2 565.9,289.2" fill="#5c5c5c" />
<polygon points="556.5,292.2 564.0,279.6 565.9,289.2" fill="#858585" />
<polygon points="570.2,276.4 583.0,267.1 577.1,282.9" fill="#9a9a9a" />
<polygon points="583.0,267.1 579.1,291.8 577.1,282.9" fill="#858585" />
<polygon points="579.1,291.8 567.9,290.9 577.1,282.9" fill="#5e5e5e" />
<polygon points="567.9,290.9 570.2,276.4 577.1,282.9" fill="#909090" />
<polygon points="583.0,267.1 592.3,258.6 586.9,278.6" fill="#969696" />
<polygon points="592.3,258.6 589.2,282.5 586.9,278.6" fill="#787878" />
<polygon points="589.2,282.5 579.1,291.8 586.9,278.6" fill="#565656" />
<polygon points="579.1,291.8 583.0,267.1 586.9,278.6" fill="#7e7e7e" />
<polygon points="592.3,258.6 600.7,255.1 595.2,264.6" fill="#969696" />
<polygon points="600.7,255.1 596.3,279.2 595.2,264.6" fill="#767676" />
<polygon points="596.3,279.2 589.2,282.5 595.2,264.6" fill="#5c5c5c" />
<polygon points="589.2,282.5 592.3,258.6 595.2,264.6" fill="#969696" />
<polygon points="600.7,255.1 615.1,249.0 605.1,261.3" fill="#838383" />
<polygon points="615.1,249.0 611.2,276.5 605.1,261.3" fill="#727272" />
<polygon points="611.2,276.5 596.3,279.2 605.1,261.3" fill="#535353" />
<polygon points="596.3,279.2 600.7,255.1 605.1,261.3" fill="#808080" />
<polygon points="615.1,249.0 622.5,244.8 618.8,256.1" fill="#939393" />
<polygon points="622.5,244.8 621.8,271.3 618.8,256.1" fill="#808080" />
<polygon points="621.8,271.3 611.2,276.5 618.8,256.1" fill="#626262" />
<polygon points="611.2,276.5 615.1,249.0 618.8,256.1" fill="#8f8f8f" />
<polygon points="622.5,244.8 636.7,242.5 625.6,258.7" fill="#a3a3a3" />
<polygon points="636.7,242.5 629.9,261.5 625.6,258.7" fill="#787878" />
<polygon points="629.9,261.5 621.8,271.3 625.6,258.7" fill="#5d5d5d" />
<polygon points="621.8,271.3 622.5,244.8 625.6,258.7" fill="#868686" />
<polygon points="636.7,242.5 644.7,234.5 636.0,251.5" fill="#9c9c9c" />
<polygon points="644.7,234.5 641.8,253.7 636.0,251.5" fill="#848484" />
<polygon points="641.8,253.7 629.9,261.5 636.0,251.5" fill="#636363" />
<polygon points="629.9,261.5 636.7,242.5 636.0,251.5" fill="#878787" />
<polygon points="644.7,234.5 657.8,234.2 646.3,238.7" fill="#9c9c9c" />
<polygon points="657.8,234.2 648.9,248.3 646.3,238.7" fill="#818181" />
<polygon points="648.9,248.3 641.8,253.7 646.3,238.7" fill="#666666" />
<polygon points="641.8,253.7 644.7,234.5 646.3,238.7" fill="#898989" />
<polygon points="657.8,234.2 668.2,232.0 657.5,237.7" fill="#9e9e9e" />
<polygon points="668.2,232.0 660.0,244.9 657.5,237.7" fill="#808080" />
<polygon points="660.0,244.9 648.9,248.3 657.5,237.7" fill="#6f6f6f" />
<polygon points="648.9,248.3 657.8,234.2 657.5,237.7" fill="#929292" />
<polygon points="668.2,232.0 676.0,221.6 670.2,236.1" fill="#919191" />
<polygon points="676.0,221.6 669.8,241.2 670.2,236.1" fill="#757575" />
<polygon points="669.8,241.2 660.0,244.9 670.2,236.1" fill="#5e5e5e" />
<polygon points="660.0,244.9 668.2,232.0 670.2,236.1" fill="#818181" />
<polygon points="676.0,221.6 689.3,217.5 680.0,228.7" fill="#9c9c9c" />
<polygon points="689.3,217.5 680.9,232.9 680.0,228.7" fill="#727272" />
<polygon points="680.9,232.9 669.8,241.2 680.0,228.7" fill="#636363" />
<polygon points="669.8,241.2 676.0,221.6 680.0,228.7" fill="#818181" />
<polygon points="689.3,217.5 695.4,218.6 687.1,221.5" fill="#a8a8a8" />
<polygon points="695.4,218.6 692.7,229.0 687.1,221.5" fill="#7b7b7b" />
<polygon points="692.7,229.0 680.9,232.9 687.1,221.5" fill="#686868" />
<polygon points="680.9,232.9 689.3,217.5 687.1,221.5" fill="#939393" />
<polygon points="695.4,218.6 706.4,205.8 701.7,216.0" fill="#999999" />
<polygon points="706.4,205.8 706.2,223.3 701.7,216.0" fill="#868686" />
<polygon points="706.2,223.3 692.7,229.0 701.7,216.0" fill="#5e5e5e" />
<polygon points="692.7,229.0 695.4,218.6 701.7,216.0" fill="#969696" />
<polygon points="535.9,304.3 545.1,303.0 541.0,310.4" fill="#979797" />
<polygon points="545.1,303.0 549.6,318.6 541.0,310.4" fill="#747474" />
<polygon points="549.6,318.6 537.9,327.1 541.0,310.4" fill="#616161" />
<polygon points="537.9,327.1 535.9,304.3 541.0,310.4" fill="#818181" />
<polygon points="545.1,303.0 556.5,292.2 553.9,309.1" fill="#9b9b9b" />
<polygon points="556.5,292.2 558.7,314.8 553.9,309.1" fill="#7a7a7a" />
<polygon points="558.7,314.8 549.6,318.6 553.9,309.1" fill="#5e5e5e" />
<polygon points="549.6,318.6 545.1,303.0 553.9,309.1" fill="#898989" />
<polygon points="556.5,292.2 567.9,290.9 566.4,299.0" fill="#949494" />
<polygon points="567.9,290.9 574.5,314.7 566.4,299.0" fill="#797979" />
<polygon points="574.5,314.7 558.7,314.8 566.4,299.0" fill="#5e5e5e" />
<polygon points="558.7,314.8 556.5,292.2 566.4,299.0" fill="#959595" />
<polygon points="567.9,290.9 579.1,291.8 575.9,299.6" fill="#979797" />
<polygon points="579.1,291.8 581.9,305.9 575.9,299.6" fill="#7e7e7e" />
<polygon points="581.9,305.9 574.5,314.7 575.9,299.6" fill="#636363" />
<polygon points="574.5,314.7 567.9,290.9 575.9,299.6" fill="#929292" />
<polygon points="579.1,291.8 589.2,282.5 586.4,295.8" fill="#8e8e8e" />
<polygon points="589.2,282.5 590.1,297.2 586.4,295.8" fill="#6e6e6e" />
<polygon points="590.1,297.2 581.9,305.9 586.4,295.8" fill="#5e5e5e" />
<polygon points="581.9,305.9 579.1,291.8 586.4,295.8" fill="#868686" />
<polygon points="589.2,282.5 596.3,279.2 595.5,285.1" fill="#979797" />
<polygon points="596.3,279.2 601.6,294.8 595.5,285.1" fill="#787878" />
<polygon points="601.6,294.8 590.1,297.2 595.5,285.1" fill="#535353" />
<polygon points="590.1,297.2 589.2,282.5 595.5,285.1" fill="#848484" />
<polygon points="596.3,279.2 611.2,276.5 607.1,283.7" fill="#8a8a8a" />
<polygon points="611.2,276.5 611.5,294.7 607.1,283.7" fill="#757575" />
<polygon points="611.5,294.7 601.6,294.8 607.1,283.7" fill="#5b5b5b" />
<polygon points="601.6,294.8 596.3,279.2 607.1,283.7" fill="#787878" />
<polygon points="611.2,276.5 621.8,271.3 616.1,278.5" fill="#909090" />
<polygon points="621.8,271.3 626.7,281.8 616.1,278.5" fill="#6d6d6d" />
<polygon points="626.7,281.8 611.5,294.7 616.1,278.5" fill="#545454" />
<polygon points="611.5,294.7 611.2,276.5 616.1,278.5" fill="#7c7c7c" />
<polygon points="621.8,271.3 629.9,261.5 630.1,276.4" fill="#939393" />
<polygon points="629.9,261.5 632.4,281.9 630.1,276.4" fill="#686868" />
<polygon points="632.4,281.9 626.7,281.8 630.1,276.4" fill="#505050" />
<polygon points="626.7,281.8 621.8,271.3 630.1,276.4" fill="#878787" />
<polygon points="629.9,261.5 641.8,253.7 638.0,270.9" fill="#959595" />
<polygon points="641.8,253.7 642.2,277.1 638.0,270.9" fill="#818181" />
<polygon points="642.2,277.1 632.4,281.9 638.0,270.9" fill="#5a5a5a" />
<polygon points="632.4,281.9 629.9,261.5 638.0,270.9" fill="#868686" />
<polygon points="641.8,253.7 648.9,248.3 647.3,258.1" fill="#9e9e9e" />
<polygon points="648.9,248.3 658.4,272.0 647.3,258.1" fill="#818181" />
<polygon points="658.4,272.0 642.2,277.1 647.3,258.1" fill="#606060" />
<polygon points="642.2,277.1 641.8,253.7 647.3,258.1" fill="#8e8e8e" />
<polygon points="648.9,248.3 660.0,244.9 658.4,255.3" fill="#9c9c9c" />
<polygon points="660.0,244.9 667.2,270.4 658.4,255.3" fill="#868686" />
<polygon points="667.2,270.4 658.4,272.0 658.4,255.3" fill="#6c6c6c" />
<polygon points="658.4,272.0 648.9,248.3 658.4,255.3" fill="#8e8e8e" />
<polygon points="660.0,244.9 669.8,241.2 668.5,256.5" fill="#969696" />
<polygon points="669.8,241.2 675.7,259.5 668.5,256.5" fill="#828282" />
<polygon points="675.7,259.5 667.2,270.4 668.5,256.5" fill="#686868" />
<polygon points="667.2,270.4 660.0,244.9 668.5,256.5" fill="#919191" />
<polygon points="669.8,241.2 680.9,232.9 679.8,250.3" fill="#a1a1a1" />
<polygon points="680.9,232.9 688.6,253.6 679.8,250.3" fill="#828282" />
<polygon points="688.6,253.6 675.7,259.5 679.8,250.3" fill="#636363" />
<polygon points="675.7,259.5 669.8,241.2 679.8,250.3" fill="#949494" />
<polygon points="680.9,232.9 692.7,229.0 688.3,241.1" fill="#a5a5a5" />
<polygon points="692.7,229.0 699.2,252.3 688.3,241.1" fill="#888888" />
<polygon points="699.2,252.3 688.6,253.6 688.3,241.1" fill="#646464" />
<polygon points="688.6,253.6 680.9,232.9 688.3,241.1" fill="#929292" />
<polygon points="692.7,229.0 706.2,223.3 700.9,238.7" fill="#9c9c9c" />
<polygon points="706.2,223.3 706.3,245.3 700.9,238.7" fill="#868686" />
<polygon points="706.3,245.3 699.2,252.3 700.9,238.7" fill="#5b5b5b" />
<polygon points="699.2,252.3 692.7,229.0 700.9,238.7" fill="#8f8f8f" />
<polygon points="537.9,327.1 549.6,318.6 545.1,333.2" fill="#9b9b9b" />
<polygon points="549.6,318.6 548.3,343.6 545.1,333.2" fill="#6e6e6e" />
<polygon points="548.3,343.6 538.9,348.1 545.1,333.2" fill="#5b5b5b" />
<polygon points="538.9,348.1 537.9,327.1 545.1,333.2" fill="#7f7f7f" />
<polygon points="549.6,318.6 558.7,314.8 555.2,333.2" fill="#8e8e8e" />
<polygon points="558.7,314.8 558.4,338.3 555.2,333.2" fill="#797979" />
<polygon points="558.4,338.3 548.3,343.6 555.2,333.2" fill="#5c5c5c" />
<polygon points="548.3,343.6 549.6,318.6 555.2,333.2" fill="#8a8a8a" />
<polygon points="558.7,314.8 574.5,314.7 564.9,325.2" fill="#9a9a9a" />
<polygon points="574.5,314.7 567.6,327.5 564.9,325.2" fill="#7c7c7c" />
<polygon points="567.6,327.5 558.4,338.3 564.9,325.2" fill="#696969" />
<polygon points="558.4,338.3 558.7,314.8 564.9,325.2" fill="#868686" />
<polygon points="574.5,314.7 581.9,305.9 575.7,316.9" fill="#939393" />
<polygon points="581.9,305.9 575.2,323.8 575.7,316.9" fill="#868686" />
<polygon points="575.2,323.8 567.6,327.5 575.7,316.9" fill="#5d5d5d" />
<polygon points="567.6,327.5 574.5,314.7 575.7,316.9" fill="#828282" />
<polygon points="581.9,305.9 590.1,297.2 582.5,309.6" fill="#888888" />
<polygon points="590.1,297.2 587.2,315.6 582.5,309.6" fill="#6c6c6c" />
<polygon points="587.2,315.6 575.2,323.8 582.5,309.6" fill="#545454" />
<polygon points="575.2,323.8 581.9,305.9 582.5,309.6" fill="#797979" />
<polygon points="590.1,297.2 601.6,294.8 593.6,302.4" fill="#9f9f9f" />
<polygon points="601.6,294.8 600.2,313.0 593.6,302.4" fill="#7d7d7d" />
<polygon points="600.2,313.0 587.2,315.6 593.6,302.4" fill="#5a5a5a" />
<polygon points="587.2,315.6 590.1,297.2 593.6,302.4" fill="#909090" />
<polygon points="601.6,294.8 611.5,294.7 605.1,301.5" fill="#919191" />
<polygon points="611.5,294.7 609.2,315.0 605.1,301.5" fill="#767676" />
<polygon points="609.2,315.0 600.2,313.0 605.1,301.5" fill="#565656" />
<polygon points="600.2,313.0 601.6,294.8 605.1,301.5" fill="#7d7d7d" />
<polygon points="611.5,294.7 626.7,281.8 617.9,297.6" fill="#9a9a9a" />
<polygon points="626.7,281.8 622.9,309.9 617.9,297.6" fill="#848484" />
<polygon points="622.9,309.9 609.2,315.0 617.9,297.6" fill="#6a6a6a" />
<polygon points="609.2,315.0 611.5,294.7 617.9,297.6" fill="#959595" />
<polygon points="626.7,281.8 632.4,281.9 627.8,292.6" fill="#8e8e8e" />
<polygon points="632.4,281.9 629.7,305.1 627.8,292.6" fill="#7f7f7f" />
<polygon points="629.7,305.1 622.9,309.9 627.8,292.6" fill="#595959" />
<polygon points="622.9,309.9 626.7,281.8 627.8,292.6" fill="#8d8d8d" />
<polygon points="632.4,281.9 642.2,277.1 634.7,288.0" fill="#8d8d8d" />
<polygon points="642.2,277.1 639.4,292.9 634.7,288.0" fill="#6c6c6c" />
<polygon points="639.4,292.9 629.7,305.1 634.7,288.0" fill="#4d4d4d" />
<polygon points="629.7,305.1 632.4,281.9 634.7,288.0" fill="#858585" />
<polygon points="642.2,277.1 658.4,272.0 646.3,279.9" fill="#979797" />
<polygon points="658.4,272.0 649.7,287.7 646.3,279.9" fill="#7a7a7a" />
<polygon points="649.7,287.7 639.4,292.9 646.3,279.9" fill="#616161" />
<polygon points="639.4,292.9 642.2,277.1 646.3,279.9" fill="#8d8d8d" />
<polygon points="658.4,272.0 667.2,270.4 659.2,283.6" fill="#9c9c9c" />
<polygon points="667.2,270.4 664.4,287.0 659.2,283.6" fill="#8d8d8d" />
<polygon points="664.4,287.0 649.7,287.7 659.2,283.6" fill="#717171" />
<polygon points="649.7,287.7 658.4,272.0 659.2,283.6" fill="#9a9a9a" />
<polygon points="667.2,270.4 675.7,259.5 668.1,278.6" fill="#969696" />
<polygon points="675.7,259.5 672.4,284.2 668.1,278.6" fill="#787878" />
<polygon points="672.4,284.2 664.4,287.0 668.1,278.6" fill="#6d6d6d" />
<polygon points="664.4,287.0 667.2,270.4 668.1,278.6" fill="#939393" />
<polygon points="675.7,259.5 688.6,253.6 679.1,264.7" fill="#909090" />
<polygon points="688.6,253.6 684.8,277.4 679.1,264.7" fill="#7e7e7e" />
<polygon points="684.8,277.4 672.4,284.2 679.1,264.7" fill="#595959" />
<polygon points="672.4,284.2 675.7,259.5 679.1,264.7" fill="#7f7f7f" />
<polygon points="688.6,253.6 699.2,252.3 693.8,265.5" fill="#9b9b9b" />
<polygon points="699.2,252.3 694.5,266.8 693.8,265.5" fill="#7b7b7b" />
<polygon points="694.5,266.8 684.8,277.4 693.8,265.5" fill="#616161" />
<polygon points="684.8,277.4 688.6,253.6 693.8,265.5" fill="#8a8a8a" />
<polygon points="699.2,252.3 706.3,245.3 703.4,261.5" fill="#9d9d9d" />
<polygon points="706.3,245.3 705.7,270.1 703.4,261.5" fill="#8a8a8a" />
<polygon points="705.7,270.1 694.5,266.8 703.4,261.5" fill="#6a6a6a" />
<polygon points="694.5,266.8 699.2,252.3 703.4,261.5" fill="#999999" />
<polygon points="538.9,348.1 548.3,343.6 544.5,357.3" fill="#919191" />
<polygon points="548.3,343.6 552.2,355.9 544.5,357.3" fill="#737373" />
<polygon points="552.2,355.9 539.9,366.5 544.5,357.3" fill="#555555" />
<polygon points="539.9,366.5 538.9,348.1 544.5,357.3" fill="#868686" />
<polygon points="548.3,343.6 558.4,338.3 553.2,347.2" fill="#8c8c8c" />
<polygon points="558.4,338.3 562.8,352.5 553.2,347.2" fill="#707070" />
<polygon points="562.8,352.5 552.2,355.9 553.2,347.2" fill="#545454" />
<polygon points="552.2,355.9 548.3,343.6 553.2,347.2" fill="#868686" />
<polygon points="558.4,338.3 567.6,327.5 562.5,346.4" fill="#949494" />
<polygon points="567.6,327.5 570.9,353.9 562.5,346.4" fill="#7a7a7a" />
<polygon points="570.9,353.9 562.8,352.5 562.5,346.4" fill="#606060" />
<polygon points="562.8,352.5 558.4,338.3 562.5,346.4" fill="#828282" />
<polygon points="567.6,327.5 575.2,323.8 574.2,341.7" fill="#8d8d8d" />
<polygon points="575.2,323.8 584.7,343.3 574.2,341.7" fill="#727272" />
<polygon points="584.7,343.3 570.9,353.9 574.2,341.7" fill="#4a4a4a" />
<polygon points="570.9,353.9 567.6,327.5 574.2,341.7" fill="#7f7f7f" />
<polygon points="575.2,323.8 587.2,315.6 585.3,335.4" fill="#989898" />
<polygon points="587.2,315.6 590.5,341.6 585.3,335.4" fill="#747474" />
<polygon points="590.5,341.6 584.7,343.3 585.3,335.4" fill="#575757" />
<polygon points="584.7,343.3 575.2,323.8 585.3,335.4" fill="#8a8a8a" />
<polygon points="587.2,315.6 600.2,313.0 592.4,327.4" fill="#939393" />
<polygon points="600.2,313.0 600.9,330.7 592.4,327.4" fill="#818181" />
<polygon points="600.9,330.7 590.5,341.6 592.4,327.4" fill="#5b5b5b" />
<polygon points="590.5,341.6 587.2,315.6 592.4,327.4" fill="#878787" />
<polygon points="600.2,313.0 609.2,315.0 606.5,325.7" fill="#8d8d8d" />
<polygon points="609.2,315.0 615.3,333.5 606.5,325.7" fill="#707070" />
<polygon points="615.3,333.5 600.9,330.7 606.5,325.7" fill="#565656" />
<polygon points="600.9,330.7 600.2,313.0 606.5,325.7" fill="#868686" />
<polygon points="609.2,315.0 622.9,309.9 617.3,323.1" fill="#929292" />
<polygon points="622.9,309.9 626.0,321.0 617.3,323.1" fill="#717171" />
<polygon points="626.0,321.0 615.3,333.5 617.3,323.1" fill="#595959" />
<polygon points="615.3,333.5 609.2,315.0 617.3,323.1" fill="#8d8d8d" />
<polygon points="622.9,309.9 629.7,305.1 629.3,318.0" fill="#8d8d8d" />
<polygon points="629.7,305.1 635.4,324.4 629.3,318.0" fill="#707070" />
<polygon points="635.4,324.4 626.0,321.0 629.3,318.0" fill="#595959" />
<polygon points="626.0,321.0 622.9,309.9 629.3,318.0" fill="#858585" />
<polygon points="629.7,305.1 639.4,292.9 638.9,304.3" fill="#a6a6a6" />
<polygon points="639.4,292.9 645.3,313.2 638.9,304.3" fill="#858585" />
<polygon points="645.3,313.2 635.4,324.4 638.9,304.3" fill="#5f5f5f" />
<polygon points="635.4,324.4 629.7,305.1 638.9,304.3" fill="#8e8e8e" />
<polygon points="639.4,292.9 649.7,287.7 644.3,296.8" fill="#a6a6a6" />
<polygon points="649.7,287.7 652.6,306.0 644.3,296.8" fill="#8b8b8b" />
<polygon points="652.6,306.0 645.3,313.2 644.3,296.8" fill="#707070" />
<polygon points="645.3,313.2 639.4,292.9 644.3,296.8" fill="#9e9e9e" />
<polygon points="649.7,287.7 664.4,287.0 659.0,298.7" fill="#a1a1a1" />
<polygon points="664.4,287.0 666.9,309.5 659.0,298.7" fill="#848484" />
<polygon points="666.9,309.5 652.6,306.0 659.0,298.7" fill="#686868" />
<polygon points="652.6,306.0 649.7,287.7 659.0,298.7" fill="#8a8a8a" />
<polygon points="664.4,287.0 672.4,284.2 671.5,294.8" fill="#9a9a9a" />
<polygon points="672.4,284.2 679.1,300.1 671.5,294.8" fill="#7e7e7e" />
<polygon points="679.1,300.1 666.9,309.5 671.5,294.8" fill="#5f5f5f" />
<polygon points="666.9,309.5 664.4,287.0 671.5,294.8" fill="#989898" />
<polygon points="672.4,284.2 684.8,277.4 683.4,290.6" fill="#9e9e9e" />
<polygon points="684.8,277.4 689.2,294.2 683.4,290.6" fill="#838383" />
<polygon points="689.2,294.2 679.1,300.1 683.4,290.6" fill="#616161" />
<polygon points="679.1,300.1 672.4,284.2 683.4,290.6" fill="#868686" />
<polygon points="684.8,277.4 694.5,266.8 690.1,282.2" fill="#979797" />
<polygon points="694.5,266.8 695.8,293.2 690.1,282.2" fill="#7f7f7f" />
<polygon points="695.8,293.2 689.2,294.2 690.1,282.2" fill="#676767" />
<polygon points="689.2,294.2 684.8,277.4 690.1,282.2" fill="#818181" />
<polygon points="694.5,266.8 705.7,270.1 701.0,273.6" fill="#999999" />
<polygon points="705.7,270.1 706.8,282.6 701.0,273.6" fill="#797979" />
<polygon points="706.8,282.6 695.8,293.2 701.0,273.6" fill="#626262" />
<polygon points="695.8,293.2 694.5,266.8 701.0,273.6" fill="#858585" />
<polygon points="539.9,366.5 552.2,355.9 541.2,368.5" fill="#9c9c9c" />
<polygon points="552.2,355.9 546.0,375.7 541.2,368.5" fill="#838383" />
<polygon points="546.0,375.7 536.5,380.4 541.2,368.5" fill="#5c5c5c" />
<polygon points="536.5,380.4 539.9,366.5 541.2,368.5" fill="#868686" />
<polygon points="552.2,355.9 562.8,352.5 553.1,364.8" fill="#888888" />
<polygon points="562.8,352.5 559.5,369.4 553.1,364.8" fill="#686868" />
<polygon points="559.5,369.4 546.0,375.7 553.1,364.8" fill="#4c4c4c" />
<polygon points="546.0,375.7 552.2,355.9 553.1,364.8" fill="#838383" />
<polygon points="562.8,352.5 570.9,353.9 563.2,365.3" fill="#919191" />
<polygon points="570.9,353.9 567.2,366.7 563.2,365.3" fill="#686868" />
<polygon points="567.2,366.7 559.5,369.4 563.2,365.3" fill="#4a4a4a" />
<polygon points="559.5,369.4 562.8,352.5 563.2,365.3" fill="#828282" />
<polygon points="570.9,353.9 584.7,343.3 574.5,359.3" fill="#868686" />
<polygon points="584.7,343.3 580.4,364.1 574.5,359.3" fill="#777777" />
<polygon points="580.4,364.1 567.2,366.7 574.5,359.3" fill="#585858" />
<polygon points="567.2,366.7 570.9,353.9 574.5,359.3" fill="#868686" />
<polygon points="584.7,343.3 590.5,341.6 587.8,347.5" fill="#999999" />
<polygon points="590.5,341.6 591.0,357.5 587.8,347.5" fill="#797979" />
<polygon points="591.0,357.5 580.4,364.1 587.8,347.5" fill="#656565" />
<polygon points="580.4,364.1 584.7,343.3 587.8,347.5" fill="#838383" />
<polygon points="590.5,341.6 600.9,330.7 597.7,348.0" fill="#828282" />
<polygon points="600.9,330.7 599.2,353.4 597.7,348.0" fill="#717171" />
<polygon points="599.2,353.4 591.0,357.5 597.7,348.0" fill="#565656" />
<polygon points="591.0,357.5 590.5,341.6 597.7,348.0" fill="#737373" />
<polygon points="600.9,330.7 615.3,333.5 604.6,343.9" fill="#939393" />
<polygon points="615.3,333.5 606.6,348.7 604.6,343.9" fill="#717171" />
<polygon points="606.6,348.7 599.2,353.4 604.6,343.9" fill="#4c4c4c" />
<polygon points="599.2,353.4 600.9,330.7 604.6,343.9" fill="#7c7c7c" />
<polygon points="615.3,333.5 626.0,321.0 616.9,335.9" fill="#919191" />
<polygon points="626.0,321.0 618.1,342.9 616.9,335.9" fill="#818181" />
<polygon points="618.1,342.9 606.6,348.7 616.9,335.9" fill="#5c5c5c" />
<polygon points="606.6,348.7 615.3,333.5 616.9,335.9" fill="#8c8c8c" />
<polygon points="626.0,321.0 635.4,324.4 628.6,329.7" fill="#969696" />
<polygon points="635.4,324.4 632.3,333.6 628.6,329.7" fill="#7e7e7e" />
<polygon points="632.3,333.6 618.1,342.9 628.6,329.7" fill="#5d5d5d" />
<polygon points="618.1,342.9 626.0,321.0 628.6,329.7" fill="#858585" />
<polygon points="635.4,324.4 645.3,313.2 637.4,321.0" fill="#a8a8a8" />
<polygon points="645.3,313.2 640.8,330.4 637.4,321.0" fill="#909090" />
<polygon points="640.8,330.4 632.3,333.6 637.4,321.0" fill="#696969" />
<polygon points="632.3,333.6 635.4,324.4 637.4,321.0" fill="#999999" />
<polygon points="645.3,313.2 652.6,306.0 650.0,323.4" fill="#9a9a9a" />
<polygon points="652.6,306.0 651.8,331.0 650.0,323.4" fill="#808080" />
<polygon points="651.8,331.0 640.8,330.4 650.0,323.4" fill="#6c6c6c" />
<polygon points="640.8,330.4 645.3,313.2 650.0,323.4" fill="#8d8d8d" />
<polygon points="652.6,306.0 666.9,309.5 659.3,318.1" fill="#a8a8a8" />
<polygon points="666.9,309.5 662.1,322.0 659.3,318.1" fill="#838383" />
<polygon points="662.1,322.0 651.8,331.0 659.3,318.1" fill="#616161" />
<polygon points="651.8,331.0 652.6,306.0 659.3,318.1" fill="#919191" />
<polygon points="666.9,309.5 679.1,300.1 670.2,313.6" fill="#a8a8a8" />
<polygon points="679.1,300.1 674.2,319.4 670.2,313.6" fill="#7d7d7d" />
<polygon points="674.2,319.4 662.1,322.0 670.2,313.6" fill="#6f6f6f" />
<polygon points="662.1,322.0 666.9,309.5 670.2,313.6" fill="#9a9a9a" />
<polygon points="679.1,300.1 689.2,294.2 683.3,306.7" fill="#9d9d9d" />
<polygon points="689.2,294.2 683.4,310.0 683.3,306.7" fill="#818181" />
<polygon points="683.4,310.0 674.2,319.4 683.3,306.7" fill="#616161" />
<polygon points="674.2,319.4 679.1,300.1 683.3,306.7" fill="#919191" />
<polygon points="689.2,294.2 695.8,293.2 689.4,296.8" fill="#a1a1a1" />
<polygon points="695.8,293.2 692.2,306.5 689.4,296.8" fill="#7b7b7b" />
<polygon points="692.2,306.5 683.4,310.0 689.4,296.8" fill="#686868" />
<polygon points="683.4,310.0 689.2,294.2 689.4,296.8" fill="#979797" />
<polygon points="695.8,293.2 706.8,282.6 698.4,298.3" fill="#9e9e9e" />
<polygon points="706.8,282.6 704.0,306.8 698.4,298.3" fill="#7d7d7d" />
<polygon points="704.0,306.8 692.2,306.5 698.4,298.3" fill="#626262" />
<polygon points="692.2,306.5 695.8,293.2 698.4,298.3" fill="#969696" />
<polygon points="536.5,380.4 546.0,375.7 545.0,389.6" fill="#909090" />
<polygon points="546.0,375.7 550.2,401.2 545.0,389.6" fill="#757575" />
<polygon points="550.2,401.2 541.6,402.6 545.0,389.6" fill="#4d4d4d" />
<polygon points="541.6,402.6 536.5,380.4 545.0,389.6" fill="#7f7f7f" />
<polygon points="546.0,375.7 559.5,369.4 556.2,388.7" fill="#949494" />
<polygon points="559.5,369.4 561.0,393.3 556.2,388.7" fill="#7a7a7a" />
<polygon points="561.0,393.3 550.2,401.2 556.2,388.7" fill="#555555" />
<polygon points="550.2,401.2 546.0,375.7 556.2,388.7" fill="#808080" />
<polygon points="559.5,369.4 567.2,366.7 563.5,381.2" fill="#929292" />
<polygon points="567.2,366.7 572.7,387.3 563.5,381.2" fill="#737373" />
<polygon points="572.7,387.3 561.0,393.3 563.5,381.2" fill="#585858" />
<polygon points="561.0,393.3 559.5,369.4 563.5,381.2" fill="#7c7c7c" />
<polygon points="567.2,366.7 580.4,364.1 573.4,380.0" fill="#8b8b8b" />
<polygon points="580.4,364.1 582.2,381.8 573.4,380.0" fill="#787878" />
<polygon points="582.2,381.8 572.7,387.3 573.4,380.0" fill="#5d5d5d" />
<polygon points="572.7,387.3 567.2,366.7 573.4,380.0" fill="#7c7c7c" />
<polygon points="580.4,364.1 591.0,357.5 587.7,368.6" fill="#8c8c8c" />
<polygon points="591.0,357.5 595.1,377.1 587.7,368.6" fill="#6f6f6f" />
<polygon points="595.1,377.1 582.2,381.8 587.7,368.6" fill="#646464" />
<polygon points="582.2,381.8 580.4,364.1 587.7,368.6" fill="#8d8d8d" />
<polygon points="591.0,357.5 599.2,353.4 597.6,366.3" fill="#939393" />
<polygon points="599.2,353.4 605.3,374.4 597.6,366.3" fill="#717171" />
<polygon points="605.3,374.4 595.1,377.1 597.6,366.3" fill="#5e5e5e" />
<polygon points="595.1,377.1 591.0,357.5 597.6,366.3" fill="#868686" />
<polygon points="599.2,353.4 606.6,348.7 607.4,366.7" fill="#878787" />
<polygon points="606.6,348.7 612.1,371.9 607.4,366.7" fill="#6d6d6d" />
<polygon points="612.1,371.9 605.3,374.4 607.4,366.7" fill="#505050" />
<polygon points="605.3,374.4 599.2,353.4 607.4,366.7" fill="#787878" />
<polygon points="606.6,348.7 618.1,342.9 613.6,357.2" fill="#9a9a9a" />
<polygon points="618.1,342.9 626.7,363.1 613.6,357.2" fill="#888888" />
<polygon points="626.7,363.1 612.1,371.9 613.6,357.2" fill="#696969" />
<polygon points="612.1,371.9 606.6,348.7 613.6,357.2" fill="#848484" />
<polygon points="618.1,342.9 632.3,333.6 627.8,349.1" fill="#939393" />
<polygon points="632.3,333.6 632.3,361.0 627.8,349.1" fill="#6b6b6b" />
<polygon points="632.3,361.0 626.7,363.1 627.8,349.1" fill="#545454" />
<polygon points="626.7,363.1 618.1,342.9 627.8,349.1" fill="#818181" />
<polygon points="632.3,333.6 640.8,330.4 639.8,345.2" fill="#999999" />
<polygon points="640.8,330.4 644.7,348.9 639.8,345.2" fill="#777777" />
<polygon points="644.7,348.9 632.3,361.0 639.8,345.2" fill="#696969" />
<polygon points="632.3,361.0 632.3,333.6 639.8,345.2" fill="#959595" />
<polygon points="640.8,330.4 651.8,331.0 646.4,333.8" fill="#949494" />
<polygon points="651.8,331.0 653.9,343.4 646.4,333.8" fill="#838383" />
<polygon points="653.9,343.4 644.7,348.9 646.4,333.8" fill="#656565" />
<polygon points="644.7,348.9 640.8,330.4 646.4,333.8" fill="#8f8f8f" />
<polygon points="651.8,331.0 662.1,322.0 656.5,336.6" fill="#a2a2a2" />
<polygon points="662.1,322.0 667.0,338.5 656.5,336.6" fill="#8d8d8d" />
<polygon points="667.0,338.5 653.9,343.4 656.5,336.6" fill="#5f5f5f" />
<polygon points="653.9,343.4 651.8,331.0 656.5,336.6" fill="#8b8b8b" />
<polygon points="662.1,322.0 674.2,319.4 671.8,334.6" fill="#9c9c9c" />
<polygon points="674.2,319.4 678.9,340.7 671.8,334.6" fill="#858585" />
<polygon points="678.9,340.7 667.0,338.5 671.8,334.6" fill="#6b6b6b" />
<polygon points="667.0,338.5 662.1,322.0 671.8,334.6" fill="#898989" />
<polygon points="674.2,319.4 683.4,310.0 680.3,322.4" fill="#949494" />
<polygon points="683.4,310.0 688.3,329.5 680.3,322.4" fill="#717171" />
<polygon points="688.3,329.5 678.9,340.7 680.3,322.4" fill="#565656" />
<polygon points="678.9,340.7 674.2,319.4 680.3,322.4" fill="#7f7f7f" />
<polygon points="683.4,310.0 692.2,306.5 690.7,314.0" fill="#9b9b9b" />
<polygon points="692.2,306.5 695.4,329.6 690.7,314.0" fill="#7b7b7b" />
<polygon points="695.4,329.6 688.3,329.5 690.7,314.0" fill="#6f6f6f" />
<polygon points="688.3,329.5 683.4,310.0 690.7,314.0" fill="#8c8c8c" />
<polygon points="692.2,306.5 704.0,306.8 702.8,321.1" fill="#9e9e9e" />
<polygon points="704.0,306.8 710.8,326.9 702.8,321.1" fill="#868686" />
<polygon points="710.8,326.9 695.4,329.6 702.8,321.1" fill="#636363" />
<polygon points="695.4,329.6 692.2,306.5 702.8,321.1" fill="#9e9e9e" />
<polygon points="541.6,402.6 550.2,401.2 545.9,410.5" fill="#909090" />
<polygon points="550.2,401.2 546.4,415.0 545.9,410.5" fill="#7d7d7d" />
<polygon points="546.4,415.0 538.7,418.2 545.9,410.5" fill="#595959" />
<polygon points="538.7,418.2 541.6,402.6 545.9,410.5" fill="#878787" />
<polygon points="550.2,401.2 561.0,393.3 552.4,403.6" fill="#8e8e8e" />
<polygon points="561.0,393.3 559.0,416.0 552.4,403.6" fill="#707070" />
<polygon points="559.0,416.0 546.4,415.0 552.4,403.6" fill="#4b4b4b" />
<polygon points="546.4,415.0 550.2,401.2 552.4,403.6" fill="#848484" />
<polygon points="561.0,393.3 572.7,387.3 563.8,399.0" fill="#898989" />
<polygon points="572.7,387.3 567.1,402.8 563.8,399.0" fill="#777777" />
<polygon points="567.1,402.8 559.0,416.0 563.8,399.0" fill="#515151" />
<polygon points="559.0,416.0 561.0,393.3 563.8,399.0" fill="#787878" />
<polygon points="572.7,387.3 582.2,381.8 574.7,391.5" fill="#959595" />
<polygon points="582.2,381.8 577.0,401.4 574.7,391.5" fill="#898989" />
<polygon points="577.0,401.4 567.1,402.8 574.7,391.5" fill="#5b5b5b" />
<polygon points="567.1,402.8 572.7,387.3 574.7,391.5" fill="#959595" />
<polygon points="582.2,381.8 595.1,377.1 586.3,385.5" fill="#909090" />
<polygon points="595.1,377.1 587.4,393.3 586.3,385.5" fill="#727272" />
<polygon points="587.4,393.3 577.0,401.4 586.3,385.5" fill="#555555" />
<polygon points="577.0,401.4 582.2,381.8 586.3,385.5" fill="#828282" />
<polygon points="595.1,377.1 605.3,374.4 598.4,389.6" fill="#969696" />
<polygon points="605.3,374.4 596.1,393.6 598.4,389.6" fill="#7c7c7c" />
<polygon points="596.1,393.6 587.4,393.3 598.4,389.6" fill="#6a6a6a" />
<polygon points="587.4,393.3 595.1,377.1 598.4,389.6" fill="#858585" />
<polygon points="605.3,374.4 612.1,371.9 606.8,379.7" fill="#959595" />
<polygon points="612.1,371.9 609.1,387.0 606.8,379.7" fill="#878787" />
<polygon points="609.1,387.0 596.1,393.6 606.8,379.7" fill="#616161" />
<polygon points="596.1,393.6 605.3,374.4 606.8,379.7" fill="#888888" />
<polygon points="612.1,371.9 626.7,363.1 614.2,378.0" fill="#8f8f8f" />
<polygon points="626.7,363.1 619.0,376.7 614.2,378.0" fill="#777777" />
<polygon points="619.0,376.7 609.1,387.0 614.2,378.0" fill="#626262" />
<polygon points="609.1,387.0 612.1,371.9 614.2,378.0" fill="#808080" />
<polygon points="626.7,363.1 632.3,361.0 627.5,366.0" fill="#919191" />
<polygon points="632.3,361.0 630.6,377.8 627.5,366.0" fill="#757575" />
<polygon points="630.6,377.8 619.0,376.7 627.5,366.0" fill="#4f4f4f" />
<polygon points="619.0,376.7 626.7,363.1 627.5,366.0" fill="#777777" />
<polygon points="632.3,361.0 644.7,348.9 635.8,364.8" fill="#909090" />
<polygon points="644.7,348.9 643.9,367.3 635.8,364.8" fill="#727272" />
<polygon points="643.9,367.3 630.6,377.8 635.8,364.8" fill="#5c5c5c" />
<polygon points="630.6,377.8 632.3,361.0 635.8,364.8" fill="#8a8a8a" />
<polygon points="644.7,348.9 653.9,343.4 650.8,358.1" fill="#8f8f8f" />
<polygon points="653.9,343.4 654.3,369.6 650.8,358.1" fill="#7e7e7e" />
<polygon points="654.3,369.6 643.9,367.3 650.8,358.1" fill="#5b5b5b" />
<polygon points="643.9,367.3 644.7,348.9 650.8,358.1" fill="#8c8c8c" />
<polygon points="653.9,343.4 667.0,338.5 656.7,355.5" fill="#9e9e9e" />
<polygon points="667.0,338.5 660.6,357.8 656.7,355.5" fill="#838383" />
<polygon points="660.6,357.8 654.3,369.6 656.7,355.5" fill="#5f5f5f" />
<polygon points="654.3,369.6 653.9,343.4 656.7,355.5" fill="#818181" />
<polygon points="667.0,338.5 678.9,340.7 672.2,347.1" fill="#9f9f9f" />
<polygon points="678.9,340.7 674.2,352.2 672.2,347.1" fill="#818181" />
<polygon points="674.2,352.2 660.6,357.8 672.2,347.1" fill="#707070" />
<polygon points="660.6,357.8 667.0,338.5 672.2,347.1" fill="#929292" />
<polygon points="678.9,340.7 688.3,329.5 678.8,341.7" fill="#959595" />
<polygon points="688.3,329.5 680.8,349.6 678.8,341.7" fill="#828282" />
<polygon points="680.8,349.6 674.2,352.2 678.8,341.7" fill="#636363" />
<polygon points="674.2,352.2 678.9,340.7 678.8,341.7" fill="#909090" />
<polygon points="688.3,329.5 695.4,329.6 688.2,340.9" fill="#a8a8a8" />
<polygon points="695.4,329.6 696.0,346.2 688.2,340.9" fill="#828282" />
<polygon points="696.0,346.2 680.8,349.6 688.2,340.9" fill="#6d6d6d" />
<polygon points="680.8,349.6 688.3,329.5 688.2,340.9" fill="#919191" />
<polygon points="695.4,329.6 710.8,326.9 702.4,332.6" fill="#aaaaaa" />
<polygon points="710.8,326.9 702.6,345.2 702.4,332.6" fill="#878787" />
<polygon points="702.6,345.2 696.0,346.2 702.4,332.6" fill="#6a6a6a" />
<polygon points="696.0,346.2 695.4,329.6 702.4,332.6" fill="#969696" />
<polygon points="538.7,418.2 546.4,415.0 545.0,421.6" fill="#989898" />
<polygon points="546.4,415.0 551.7,435.8 545.0,421.6" fill="#7a7a7a" />
<polygon points="551.7,435.8 542.5,436.5 545.0,421.6" fill="#5d5d5d" />
<polygon points="542.5,436.5 538.7,418.2 545.0,421.6" fill="#8a8a8a" />
<polygon points="546.4,415.0 559.0,416.0 555.5,418.5" fill="#8f8f8f" />
<polygon points="559.0,416.0 558.3,426.0 555.5,418.5" fill="#696969" />
<polygon points="558.3,426.0 551.7,435.8 555.5,418.5" fill="#4a4a4a" />
<polygon points="551.7,435.8 546.4,415.0 555.5,418.5" fill="#7f7f7f" />
<polygon points="559.0,416.0 567.1,402.8 564.3,418.2" fill="#919191" />
<polygon points="567.1,402.8 571.1,427.1 564.3,418.2" fill="#838383" />
<polygon points="571.1,427.1 558.3,426.0 564.3,418.2" fill="#626262" />
<polygon points="558.3,426.0 559.0,416.0 564.3,418.2" fill="#808080" />
<polygon points="567.1,402.8 577.0,401.4 573.1,411.8" fill="#909090" />
<polygon points="577.0,401.4 584.6,416.0 573.1,411.8" fill="#707070" />
<polygon points="584.6,416.0 571.1,427.1 573.1,411.8" fill="#595959" />
<polygon points="571.1,427.1 567.1,402.8 573.1,411.8" fill="#7e7e7e" />
<polygon points="577.0,401.4 587.4,393.3 586.3,410.4" fill="#8e8e8e" />
<polygon points="587.4,393.3 594.3,416.7 586.3,410.4" fill="#757575" />
<polygon points="594.3,416.7 584.6,416.0 586.3,410.4" fill="#4d4d4d" />
<polygon points="584.6,416.0 577.0,401.4 586.3,410.4" fill="#858585" />
<polygon points="587.4,393.3 596.1,393.6 597.9,401.3" fill="#979797" />
<polygon points="596.1,393.6 605.1,406.2 597.9,401.3" fill="#767676" />
<polygon points="605.1,406.2 594.3,416.7 597.9,401.3" fill="#575757" />
<polygon points="594.3,416.7 587.4,393.3 597.9,401.3" fill="#8d8d8d" />
<polygon points="596.1,393.6 609.1,387.0 607.9,395.4" fill="#8c8c8c" />
<polygon points="609.1,387.0 615.7,401.1 607.9,395.4" fill="#717171" />
<polygon points="615.7,401.1 605.1,406.2 607.9,395.4" fill="#5e5e5e" />
<polygon points="605.1,406.2 596.1,393.6 607.9,395.4" fill="#868686" />
<polygon points="609.1,387.0 619.0,376.7 618.8,394.4" fill="#939393" />
<polygon points="619.0,376.7 623.0,400.1 618.8,394.4" fill="#7f7f7f" />
<polygon points="623.0,400.1 615.7,401.1 618.8,394.4" fill="#6a6a6a" />
<polygon points="615.7,401.1 609.1,387.0 618.8,394.4" fill="#959595" />
<polygon points="619.0,376.7 630.6,377.8 626.2,386.9" fill="#949494" />
<polygon points="630.6,377.8 637.1,396.1 626.2,386.9" fill="#7b7b7b" />
<polygon points="637.1,396.1 623.0,400.1 626.2,386.9" fill="#555555" />
<polygon points="623.0,400.1 619.0,376.7 626.2,386.9" fill="#878787" />
<polygon points="630.6,377.8 643.9,367.3 638.6,377.6" fill="#9c9c9c" />
<polygon points="643.9,367.3 642.8,388.3 638.6,377.6" fill="#7e7e7e" />
<polygon points="642.8,388.3 637.1,396.1 638.6,377.6" fill="#636363" />
<polygon points="637.1,396.1 630.6,377.8 638.6,377.6" fill="#898989" />
<polygon points="643.9,367.3 654.3,369.6 650.3,381.6" fill="#9c9c9c" />
<polygon points="654.3,369.6 653.9,386.0 650.3,381.6" fill="#8a8a8a" />
<polygon points="653.9,386.0 642.8,388.3 650.3,381.6" fill="#666666" />
<polygon points="642.8,388.3 643.9,367.3 650.3,381.6" fill="#999999" />
<polygon points="654.3,369.6 660.6,357.8 657.1,373.0" fill="#a6a6a6" />
<polygon points="660.6,357.8 664.0,376.9 657.1,373.0" fill="#838383" />
<polygon points="664.0,376.9 653.9,386.0 657.1,373.0" fill="#6b6b6b" />
<polygon points="653.9,386.0 654.3,369.6 657.1,373.0" fill="#959595" />
<polygon points="660.6,357.8 674.2,352.2 670.6,362.4" fill="#9a9a9a" />
<polygon points="674.2,352.2 674.7,371.3 670.6,362.4" fill="#747474" />
<polygon points="674.7,371.3 664.0,376.9 670.6,362.4" fill="#606060" />
<polygon points="664.0,376.9 660.6,357.8 670.6,362.4" fill="#939393" />
<polygon points="674.2,352.2 680.8,349.6 678.9,358.2" fill="#9b9b9b" />
<polygon points="680.8,349.6 685.8,369.0 678.9,358.2" fill="#787878" />
<polygon points="685.8,369.0 674.7,371.3 678.9,358.2" fill="#5b5b5b" />
<polygon points="674.7,371.3 674.2,352.2 678.9,358.2" fill="#858585" />
<polygon points="680.8,349.6 696.0,346.2 688.7,357.4" fill="#939393" />
<polygon points="696.0,346.2 696.2,368.6 688.7,357.4" fill="#737373" />
<polygon points="696.2,368.6 685.8,369.0 688.7,357.4" fill="#5f5f5f" />
<polygon points="685.8,369.0 680.8,349.6 688.7,357.4" fill="#909090" />
<polygon points="696.0,346.2 702.6,345.2 700.8,356.0" fill="#9a9a9a" />
<polygon points="702.6,345.2 706.1,361.0 700.8,356.0" fill="#878787" />
<polygon points="706.1,361.0 696.2,368.6 700.8,356.0" fill="#656565" />
<polygon points="696.2,368.6 696.0,346.2 700.8,356.0" fill="#919191" />
<polygon points="542.5,436.5 551.7,435.8 543.3,445.0" fill="#8c8c8c" />
<polygon points="551.7,435.8 543.6,451.6 543.3,445.0" fill="#6e6e6e" />
<polygon points="543.6,451.6 533.1,457.5 543.3,445.0" fill="#575757" />
<polygon points="533.1,457.5 542.5,436.5 543.3,445.0" fill="#7f7f7f" />
<polygon points="551.7,435.8 558.3,426.0 553.2,436.3" fill="#969696" />
<polygon points="558.3,426.0 557.3,451.5 553.2,436.3" fill="#6f6f6f" />
<polygon points="557.3,451.5 543.6,451.6 553.2,436.3" fill="#595959" />
<polygon points="543.6,451.6 551.7,435.8 553.2,436.3" fill="#828282" />
<polygon points="558.3,426.0 571.1,427.1 562.4,441.3" fill="#949494" />
<polygon points="571.1,427.1 567.3,441.1 562.4,441.3" fill="#6d6d6d" />
<polygon points="567.3,441.1 557.3,451.5 562.4,441.3" fill="#4f4f4f" />
<polygon points="557.3,451.5 558.3,426.0 562.4,441.3" fill="#898989" />
<polygon points="571.1,427.1 584.6,416.0 574.4,427.6" fill="#909090" />
<polygon points="584.6,416.0 575.6,443.6 574.4,427.6" fill="#7a7a7a" />
<polygon points="575.6,443.6 567.3,441.1 574.4,427.6" fill="#515151" />
<polygon points="567.3,441.1 571.1,427.1 574.4,427.6" fill="#7e7e7e" />
<polygon points="584.6,416.0 594.3,416.7 588.0,430.8" fill="#8a8a8a" />
<polygon points="594.3,416.7 588.1,437.5 588.0,430.8" fill="#6e6e6e" />
<polygon points="588.1,437.5 575.6,443.6 588.0,430.8" fill="#575757" />
<polygon points="575.6,443.6 584.6,416.0 588.0,430.8" fill="#818181" />
<polygon points="594.3,416.7 605.1,406.2 598.9,425.6" fill="#989898" />
<polygon points="605.1,406.2 601.0,429.3 598.9,425.6" fill="#7d7d7d" />
<polygon points="601.0,429.3 588.1,437.5 598.9,425.6" fill="#606060" />
<polygon points="588.1,437.5 594.3,416.7 598.9,425.6" fill="#858585" />
<polygon points="605.1,406.2 615.7,401.1 609.3,417.1" fill="#969696" />
<polygon points="615.7,401.1 609.5,423.4 609.3,417.1" fill="#878787" />
<polygon points="609.5,423.4 601.0,429.3 609.3,417.1" fill="#5a5a5a" />
<polygon points="601.0,429.3 605.1,406.2 609.3,417.1" fill="#939393" />
<polygon points="615.7,401.1 623.0,400.1 618.2,411.5" fill="#9e9e9e" />
<polygon points="623.0,400.1 622.9,421.4 618.2,411.5" fill="#7f7f7f" />
<polygon points="622.9,421.4 609.5,423.4 618.2,411.5" fill="#696969" />
<polygon points="609.5,423.4 615.7,401.1 618.2,411.5" fill="#969696" />
<polygon points="623.0,400.1 637.1,396.1 629.4,406.4" fill="#929292" />
<polygon points="637.1,396.1 632.5,413.0 629.4,406.4" fill="#7b7b7b" />
<polygon points="632.5,413.0 622.9,421.4 629.4,406.4" fill="#565656" />
<polygon points="622.9,421.4 623.0,400.1 629.4,406.4" fill="#828282" />
<polygon points="637.1,396.1 642.8,388.3 638.8,401.1" fill="#9d9d9d" />
<polygon points="642.8,388.3 641.8,411.7 638.8,401.1" fill="#838383" />
<polygon points="641.8,411.7 632.5,413.0 638.8,401.1" fill="#5f5f5f" />
<polygon points="632.5,413.0 637.1,396.1 638.8,401.1" fill="#898989" />
<polygon points="642.8,388.3 653.9,386.0 645.7,395.5" fill="#969696" />
<polygon points="653.9,386.0 650.6,403.8 645.7,395.5" fill="#7a7a7a" />
<polygon points="650.6,403.8 641.8,411.7 645.7,395.5" fill="#545454" />
<polygon points="641.8,411.7 642.8,388.3 645.7,395.5" fill="#8f8f8f" />
<polygon points="653.9,386.0 664.0,376.9 656.2,393.9" fill="#aaaaaa" />
<polygon points="664.0,376.9 659.8,395.3 656.2,393.9" fill="#808080" />
<polygon points="659.8,395.3 650.6,403.8 656.2,393.9" fill="#686868" />
<polygon points="650.6,403.8 653.9,386.0 656.2,393.9" fill="#9c9c9c" />
<polygon points="664.0,376.9 674.7,371.3 665.7,379.0" fill="#9d9d9d" />
<polygon points="674.7,371.3 673.9,390.6 665.7,379.0" fill="#898989" />
<polygon points="673.9,390.6 659.8,395.3 665.7,379.0" fill="#696969" />
<polygon points="659.8,395.3 664.0,376.9 665.7,379.0" fill="#909090" />
<polygon points="674.7,371.3 685.8,369.0 681.4,379.8" fill="#9f9f9f" />
<polygon points="685.8,369.0 681.0,387.5 681.4,379.8" fill="#7e7e7e" />
<polygon points="681.0,387.5 673.9,390.6 681.4,379.8" fill="#606060" />
<polygon points="673.9,390.6 674.7,371.3 681.4,379.8" fill="#909090" />
<polygon points="685.8,369.0 696.2,368.6 688.9,381.0" fill="#9f9f9f" />
<polygon points="696.2,368.6 695.5,380.8 688.9,381.0" fill="#7b7b7b" />
<polygon points="695.5,380.8 681.0,387.5 688.9,381.0" fill="#646464" />
<polygon points="681.0,387.5 685.8,369.0 688.9,381.0" fill="#8f8f8f" />
<polygon points="696.2,368.6 706.1,361.0 701.0,374.3" fill="#ababab" />
<polygon points="706.1,361.0 705.0,383.7 701.0,374.3" fill="#878787" />
<polygon points="705.0,383.7 695.5,380.8 701.0,374.3" fill="#696969" />
<polygon points="695.5,380.8 696.2,368.6 701.0,374.3" fill="#989898" />
<polygon points="533.1,457.5 543.6,451.6 543.8,462.4" fill="#999999" />
<polygon points="543.6,451.6 550.3,471.0 543.8,462.4" fill="#727272" />
<polygon points="550.3,471.0 538.5,475.8 543.8,462.4" fill="#585858" />
<polygon points="538.5,475.8 533.1,457.5 543.8,462.4" fill="#909090" />
<polygon points="543.6,451.6 557.3,451.5 554.6,459.8" fill="#929292" />
<polygon points="557.3,451.5 560.7,464.7 554.6,459.8" fill="#747474" />
<polygon points="560.7,464.7 550.3,471.0 554.6,459.8" fill="#585858" />
<polygon points="550.3,471.0 543.6,451.6 554.6,459.8" fill="#888888" />
<polygon points="557.3,451.5 567.3,441.1 566.8,453.7" fill="#898989" />
<polygon points="567.3,441.1 574.3,460.8 566.8,453.7" fill="#717171" />
<polygon points="574.3,460.8 560.7,464.7 566.8,453.7" fill="#545454" />
<polygon points="560.7,464.7 557.3,451.5 566.8,453.7" fill="#787878" />
<polygon points="567.3,441.1 575.6,443.6 573.3,453.4" fill="#939393" />
<polygon points="575.6,443.6 582.3,463.0 573.3,453.4" fill="#838383" />
<polygon points="582.3,463.0 574.3,460.8 573.3,453.4" fill="#5f5f5f" />
<polygon points="574.3,460.8 567.3,441.1 573.3,453.4" fill="#7e7e7e" />
<polygon points="575.6,443.6 588.1,437.5 584.9,451.6" fill="#939393" />
<polygon points="588.1,437.5 595.3,450.8 584.9,451.6" fill="#6a6a6a" />
<polygon points="595.3,450.8 582.3,463.0 584.9,451.6" fill="#535353" />
<polygon points="582.3,463.0 575.6,443.6 584.9,451.6" fill="#888888" />
<polygon points="588.1,437.5 601.0,429.3 597.1,442.7" fill="#8d8d8d" />
<polygon points="601.0,429.3 602.1,446.5 597.1,442.7" fill="#727272" />
<polygon points="602.1,446.5 595.3,450.8 597.1,442.7" fill="#505050" />
<polygon points="595.3,450.8 588.1,437.5 597.1,442.7" fill="#828282" />
<polygon points="601.0,429.3 609.5,423.4 606.5,439.4" fill="#949494" />
<polygon points="609.5,423.4 612.8,438.5 606.5,439.4" fill="#717171" />
<polygon points="612.8,438.5 602.1,446.5 606.5,439.4" fill="#565656" />
<polygon points="602.1,446.5 601.0,429.3 606.5,439.4" fill="#8c8c8c" />
<polygon points="609.5,423.4 622.9,421.4 615.3,426.4" fill="#8d8d8d" />
<polygon points="622.9,421.4 624.0,438.3 615.3,426.4" fill="#777777" />
<polygon points="624.0,438.3 612.8,438.5 615.3,426.4" fill="#565656" />
<polygon points="612.8,438.5 609.5,423.4 615.3,426.4" fill="#858585" />
<polygon points="622.9,421.4 632.5,413.0 626.3,420.9" fill="#969696" />
<polygon points="632.5,413.0 634.5,430.6 626.3,420.9" fill="#818181" />
<polygon points="634.5,430.6 624.0,438.3 626.3,420.9" fill="#5d5d5d" />
<polygon points="624.0,438.3 622.9,421.4 626.3,420.9" fill="#848484" />
<polygon points="632.5,413.0 641.8,411.7 636.9,415.8" fill="#a5a5a5" />
<polygon points="641.8,411.7 643.6,423.7 636.9,415.8" fill="#858585" />
<polygon points="643.6,423.7 634.5,430.6 636.9,415.8" fill="#6a6a6a" />
<polygon points="634.5,430.6 632.5,413.0 636.9,415.8" fill="#939393" />
<polygon points="641.8,411.7 650.6,403.8 645.5,418.6" fill="#a5a5a5" />
<polygon points="650.6,403.8 654.9,419.6 645.5,418.6" fill="#808080" />
<polygon points="654.9,419.6 643.6,423.7 645.5,418.6" fill="#666666" />
<polygon points="643.6,423.7 641.8,411.7 645.5,418.6" fill="#8a8a8a" />
<polygon points="650.6,403.8 659.8,395.3 654.8,412.5" fill="#a0a0a0" />
<polygon points="659.8,395.3 663.1,414.2 654.8,412.5" fill="#8f8f8f" />
<polygon points="663.1,414.2 654.9,419.6 654.8,412.5" fill="#6f6f6f" />
<polygon points="654.9,419.6 650.6,403.8 654.8,412.5" fill="#919191" />
<polygon points="659.8,395.3 673.9,390.6 668.5,407.6" fill="#a3a3a3" />
<polygon points="673.9,390.6 674.9,411.9 668.5,407.6" fill="#7a7a7a" />
<polygon points="674.9,411.9 663.1,414.2 668.5,407.6" fill="#606060" />
<polygon points="663.1,414.2 659.8,395.3 668.5,407.6" fill="#929292" />
<polygon points="673.9,390.6 681.0,387.5 677.9,398.0" fill="#a3a3a3" />
<polygon points="681.0,387.5 687.2,409.8 677.9,398.0" fill="#8d8d8d" />
<polygon points="687.2,409.8 674.9,411.9 677.9,398.0" fill="#656565" />
<polygon points="674.9,411.9 673.9,390.6 677.9,398.0" fill="#8e8e8e" />
<polygon points="681.0,387.5 695.5,380.8 689.8,393.0" fill="#a2a2a2" />
<polygon points="695.5,380.8 698.4,406.5 689.8,393.0" fill="#8a8a8a" />
<polygon points="698.4,406.5 687.2,409.8 689.8,393.0" fill="#656565" />
<polygon points="687.2,409.8 681.0,387.5 689.8,393.0" fill="#989898" />
<polygon points="695.5,380.8 705.0,383.7 701.8,392.1" fill="#8d8d8d" />
<polygon points="705.0,383.7 710.3,401.2 701.8,392.1" fill="#7d7d7d" />
<polygon points="710.3,401.2 698.4,406.5 701.8,392.1" fill="#575757" />
<polygon points="698.4,406.5 695.5,380.8 701.8,392.1" fill="#808080" />
<polygon points="538.5,475.8 550.3,471.0 540.5,482.7" fill="#878787" />
<polygon points="550.3,471.0 544.4,496.9 540.5,482.7" fill="#767676" />
<polygon points="544.4,496.9 535.0,495.9 540.5,482.7" fill="#525252" />
<polygon points="535.0,495.9 538.5,475.8 540.5,482.7" fill="#797979" />
<polygon points="550.3,471.0 560.7,464.7 554.3,476.4" fill="#949494" />
<polygon points="560.7,464.7 557.9,489.4 554.3,476.4" fill="#6b6b6b" />
<polygon points="557.9,489.4 544.4,496.9 554.3,476.4" fill="#555555" />
<polygon points="544.4,496.9 550.3,471.0 554.3,476.4" fill="#888888" />
<polygon points="560.7,464.7 574.3,460.8 567.1,469.7" fill="#949494" />
<polygon points="574.3,460.8 569.5,477.6 567.1,469.7" fill="#727272" />
<polygon points="569.5,477.6 557.9,489.4 567.1,469.7" fill="#606060" />
<polygon points="557.9,489.4 560.7,464.7 567.1,469.7" fill="#7d7d7d" />
<polygon points="574.3,460.8 582.3,463.0 578.5,470.7" fill="#8d8d8d" />
<polygon points="582.3,463.0 578.8,481.2 578.5,470.7" fill="#6b6b6b" />
<polygon points="578.8,481.2 569.5,477.6 578.5,470.7" fill="#595959" />
<polygon points="569.5,477.6 574.3,460.8 578.5,470.7" fill="#7b7b7b" />
<polygon points="582.3,463.0 595.3,450.8 588.7,468.3" fill="#8d8d8d" />
<polygon points="595.3,450.8 590.4,474.7 588.7,468.3" fill="#777777" />
<polygon points="590.4,474.7 578.8,481.2 588.7,468.3" fill="#535353" />
<polygon points="578.8,481.2 582.3,463.0 588.7,468.3" fill="#8a8a8a" />
<polygon points="595.3,450.8 602.1,446.5 594.9,459.1" fill="#919191" />
<polygon points="602.1,446.5 599.1,463.8 594.9,459.1" fill="#7e7e7e" />
<polygon points="599.1,463.8 590.4,474.7 594.9,459.1" fill="#595959" />
<polygon points="590.4,474.7 595.3,450.8 594.9,459.1" fill="#8a8a8a" />
<polygon points="602.1,446.5 612.8,438.5 606.7,450.9" fill="#8b8b8b" />
<polygon points="612.8,438.5 611.5,462.5 606.7,450.9" fill="#6f6f6f" />
<polygon points="611.5,462.5 599.1,463.8 606.7,450.9" fill="#5f5f5f" />
<polygon points="599.1,463.8 602.1,446.5 606.7,450.9" fill="#808080" />
<polygon points="612.8,438.5 624.0,438.3 618.4,446.0" fill="#939393" />
<polygon points="624.0,438.3 622.0,460.6 618.4,446.0" fill="#797979" />
<polygon points="622.0,460.6 611.5,462.5 618.4,446.0" fill="#585858" />
<polygon points="611.5,462.5 612.8,438.5 618.4,446.0" fill="#7e7e7e" />
<polygon points="624.0,438.3 634.5,430.6 627.4,443.0" fill="#8f8f8f" />
<polygon points="634.5,430.6 632.9,453.4 627.4,443.0" fill="#6c6c6c" />
<polygon points="632.9,453.4 622.0,460.6 627.4,443.0" fill="#515151" />
<polygon points="622.0,460.6 624.0,438.3 627.4,443.0" fill="#868686" />
<polygon points="634.5,430.6 643.6,423.7 639.7,443.1" fill="#9d9d9d" />
<polygon points="643.6,423.7 642.2,449.5 639.7,443.1" fill="#828282" />
<polygon points="642.2,449.5 632.9,453.4 639.7,443.1" fill="#616161" />
<polygon points="632.9,453.4 634.5,430.6 639.7,443.1" fill="#989898" />
<polygon points="643.6,423.7 654.9,419.6 648.2,431.7" fill="#9c9c9c" />
<polygon points="654.9,419.6 648.7,440.0 648.2,431.7" fill="#828282" />
<polygon points="648.7,440.0 642.2,449.5 648.2,431.7" fill="#5c5c5c" />
<polygon points="642.2,449.5 643.6,423.7 648.2,431.7" fill="#939393" />
<polygon points="654.9,419.6 663.1,414.2 656.2,428.3" fill="#8f8f8f" />
<polygon points="663.1,414.2 661.2,434.1 656.2,428.3" fill="#818181" />
<polygon points="661.2,434.1 648.7,440.0 656.2,428.3" fill="#606060" />
<polygon points="648.7,440.0 654.9,419.6 656.2,428.3" fill="#8b8b8b" />
<polygon points="663.1,414.2 674.9,411.9 666.1,417.7" fill="#909090" />
<polygon points="674.9,411.9 674.5,428.9 666.1,417.7" fill="#757575" />
<polygon points="674.5,428.9 661.2,434.1 666.1,417.7" fill="#5a5a5a" />
<polygon points="661.2,434.1 663.1,414.2 666.1,417.7" fill="#7e7e7e" />
<polygon points="674.9,411.9 687.2,409.8 679.1,421.1" fill="#9b9b9b" />
<polygon points="687.2,409.8 683.8,428.5 679.1,421.1" fill="#7a7a7a" />
<polygon points="683.8,428.5 674.5,428.9 679.1,421.1" fill="#606060" />
<polygon points="674.5,428.9 674.9,411.9 679.1,421.1" fill="#828282" />
<polygon points="687.2,409.8 698.4,406.5 690.7,419.1" fill="#909090" />
<polygon points="698.4,406.5 694.6,424.2 690.7,419.1" fill="#838383" />
<polygon points="694.6,424.2 683.8,428.5 690.7,419.1" fill="#646464" />
<polygon points="683.8,428.5 687.2,409.8 690.7,419.1" fill="#868686" />
<polygon points="698.4,406.5 710.3,401.2 698.8,416.0" fill="#969696" />
<polygon points="710.3,401.2 701.0,417.9 698.8,416.0" fill="#7d7d7d" />
<polygon points="701.0,417.9 694.6,424.2 698.8,416.0" fill="#5e5e5e" />
<polygon points="694.6,424.2 698.4,406.5 698.8,416.0" fill="#959595" />
<polygon points="535.0,495.9 544.4,496.9 541.4,509.9" fill="#929292" />
<polygon points="544.4,496.9 550.7,511.1 541.4,509.9" fill="#808080" />
<polygon points="550.7,511.1 541.5,519.0 541.4,509.9" fill="#5e5e5e" />
<polygon points="541.5,519.0 535.0,495.9 541.4,509.9" fill="#8f8f8f" />
<polygon points="544.4,496.9 557.9,489.4 554.5,499.1" fill="#929292" />
<polygon points="557.9,489.4 558.4,507.7 554.5,499.1" fill="#6e6e6e" />
<polygon points="558.4,507.7 550.7,511.1 554.5,499.1" fill="#5a5a5a" />
<polygon points="550.7,511.1 544.4,496.9 554.5,499.1" fill="#818181" />
<polygon points="557.9,489.4 569.5,477.6 565.1,497.9" fill="#959595" />
<polygon points="569.5,477.6 570.0,503.6 565.1,497.9" fill="#717171" />
<polygon points="570.0,503.6 558.4,507.7 565.1,497.9" fill="#616161" />
<polygon points="558.4,507.7 557.9,489.4 565.1,497.9" fill="#878787" />
<polygon points="569.5,477.6 578.8,481.2 574.8,492.9" fill="#909090" />
<polygon points="578.8,481.2 580.6,492.0 574.8,492.9" fill="#676767" />
<polygon points="580.6,492.0 570.0,503.6 574.8,492.9" fill="#575757" />
<polygon points="570.0,503.6 569.5,477.6 574.8,492.9" fill="#848484" />
<polygon points="578.8,481.2 590.4,474.7 583.9,485.8" fill="#9f9f9f" />
<polygon points="590.4,474.7 590.7,493.6 583.9,485.8" fill="#828282" />
<polygon points="590.7,493.6 580.6,492.0 583.9,485.8" fill="#5f5f5f" />
<polygon points="580.6,492.0 578.8,481.2 583.9,485.8" fill="#868686" />
<polygon points="590.4,474.7 599.1,463.8 595.8,479.3" fill="#8a8a8a" />
<polygon points="599.1,463.8 605.9,488.8 595.8,479.3" fill="#6a6a6a" />
<polygon points="605.9,488.8 590.7,493.6 595.8,479.3" fill="#585858" />
<polygon points="590.7,493.6 590.4,474.7 595.8,479.3" fill="#838383" />
<polygon points="599.1,463.8 611.5,462.5 606.0,471.5" fill="#939393" />
<polygon points="611.5,462.5 612.8,481.4 606.0,471.5" fill="#818181" />
<polygon points="612.8,481.4 605.9,488.8 606.0,471.5" fill="#585858" />
<polygon points="605.9,488.8 599.1,463.8 606.0,471.5" fill="#828282" />
<polygon points="611.5,462.5 622.0,460.6 619.8,466.6" fill="#929292" />
<polygon points="622.0,460.6 625.1,476.3 619.8,466.6" fill="#7f7f7f" />
<polygon points="625.1,476.3 612.8,481.4 619.8,466.6" fill="#5d5d5d" />
<polygon points="612.8,481.4 611.5,462.5 619.8,466.6" fill="#8c8c8c" />
<polygon points="622.0,460.6 632.9,453.4 627.1,467.8" fill="#959595" />
<polygon points="632.9,453.4 635.2,474.3 627.1,467.8" fill="#7f7f7f" />
<polygon points="635.2,474.3 625.1,476.3 627.1,467.8" fill="#626262" />
<polygon points="625.1,476.3 622.0,460.6 627.1,467.8" fill="#808080" />
<polygon points="632.9,453.4 642.2,449.5 637.1,459.9" fill="#8f8f8f" />
<polygon points="642.2,449.5 642.5,468.1 637.1,459.9" fill="#757575" />
<polygon points="642.5,468.1 635.2,474.3 637.1,459.9" fill="#575757" />
<polygon points="635.2,474.3 632.9,453.4 637.1,459.9" fill="#8c8c8c" />
<polygon points="642.2,449.5 648.7,440.0 646.6,450.1" fill="#979797" />
<polygon points="648.7,440.0 654.0,458.2 646.6,450.1" fill="#797979" />
<polygon points="654.0,458.2 642.5,468.1 646.6,450.1" fill="#595959" />
<polygon points="642.5,468.1 642.2,449.5 646.6,450.1" fill="#818181" />
<polygon points="648.7,440.0 661.2,434.1 654.7,452.8" fill="#9a9a9a" />
<polygon points="661.2,434.1 664.8,459.2 654.7,452.8" fill="#898989" />
<polygon points="664.8,459.2 654.0,458.2 654.7,452.8" fill="#707070" />
<polygon points="654.0,458.2 648.7,440.0 654.7,452.8" fill="#949494" />
<polygon points="661.2,434.1 674.5,428.9 666.6,443.6" fill="#959595" />
<polygon points="674.5,428.9 673.6,452.5 666.6,443.6" fill="#7f7f7f" />
<polygon points="673.6,452.5 664.8,459.2 666.6,443.6" fill="#585858" />
<polygon points="664.8,459.2 661.2,434.1 666.6,443.6" fill="#959595" />
<polygon points="674.5,428.9 683.8,428.5 680.1,439.4" fill="#a7a7a7" />
<polygon points="683.8,428.5 685.6,442.5 680.1,439.4" fill="#838383" />
<polygon points="685.6,442.5 673.6,452.5 680.1,439.4" fill="#676767" />
<polygon points="673.6,452.5 674.5,428.9 680.1,439.4" fill="#8f8f8f" />
<polygon points="683.8,428.5 694.6,424.2 688.3,437.5" fill="#9f9f9f" />
<polygon points="694.6,424.2 698.7,443.7 688.3,437.5" fill="#808080" />
<polygon points="698.7,443.7 685.6,442.5 688.3,437.5" fill="#6c6c6c" />
<polygon points="685.6,442.5 683.8,428.5 688.3,437.5" fill="#9b9b9b" />
<polygon points="694.6,424.2 701.0,417.9 702.4,427.9" fill="#a6a6a6" />
<polygon points="701.0,417.9 706.7,438.8 702.4,427.9" fill="#8a8a8a" />
<polygon points="706.7,438.8 698.7,443.7 702.4,427.9" fill="#656565" />
<polygon points="698.7,443.7 694.6,424.2 702.4,427.9" fill="#8d8d8d" />
<polygon points="541.5,519.0 550.7,511.1 544.7,521.9" fill="#929292" />
<polygon points="550.7,511.1 544.2,529.7 544.7,521.9" fill="#727272" />
<polygon points="544.2,529.7 535.8,535.2 544.7,521.9" fill="#5e5e5e" />
<polygon points="535.8,535.2 541.5,519.0 544.7,521.9" fill="#7e7e7e" />
<polygon points="550.7,511.1 558.4,507.7 549.8,520.1" fill="#9b9b9b" />
<polygon points="558.4,507.7 555.2,529.1 549.8,520.1" fill="#7e7e7e" />
<polygon points="555.2,529.1 544.2,529.7 549.8,520.1" fill="#646464" />
<polygon points="544.2,529.7 550.7,511.1 549.8,520.1" fill="#919191" />
<polygon points="558.4,507.7 570.0,503.6 563.4,516.3" fill="#898989" />
<polygon points="570.0,503.6 570.1,525.0 563.4,516.3" fill="#727272" />
<polygon points="570.1,525.0 555.2,529.1 563.4,516.3" fill="#4c4c4c" />
<polygon points="555.2,529.1 558.4,507.7 563.4,516.3" fill="#828282" />
<polygon points="570.0,503.6 580.6,492.0 572.9,507.2" fill="#969696" />
<polygon points="580.6,492.0 577.8,510.4 572.9,507.2" fill="#787878" />
<polygon points="577.8,510.4 570.1,525.0 572.9,507.2" fill="#636363" />
<polygon points="570.1,525.0 570.0,503.6 572.9,507.2" fill="#898989" />
<polygon points="580.6,492.0 590.7,493.6 586.2,497.4" fill="#a0a0a0" />
<polygon points="590.7,493.6 591.3,513.5 586.2,497.4" fill="#848484" />
<polygon points="591.3,513.5 577.8,510.4 586.2,497.4" fill="#606060" />
<polygon points="577.8,510.4 580.6,492.0 586.2,497.4" fill="#888888" />
<polygon points="590.7,493.6 605.9,488.8 597.2,500.4" fill="#8f8f8f" />
<polygon points="605.9,488.8 597.6,504.9 597.2,500.4" fill="#757575" />
<polygon points="597.6,504.9 591.3,513.5 597.2,500.4" fill="#5c5c5c" />
<polygon points="591.3,513.5 590.7,493.6 597.2,500.4" fill="#8a8a8a" />
<polygon points="605.9,488.8 612.8,481.4 609.1,489.8" fill="#8f8f8f" />
<polygon points="612.8,481.4 612.2,497.6 609.1,489.8" fill="#757575" />
<polygon points="612.2,497.6 597.6,504.9 609.1,489.8" fill="#545454" />
<polygon points="597.6,504.9 605.9,488.8 609.1,489.8" fill="#7b7b7b" />
<polygon points="612.8,481.4 625.1,476.3 615.6,485.2" fill="#9a9a9a" />
<polygon points="625.1,476.3 620.5,492.6 615.6,485.2" fill="#7f7f7f" />
<polygon points="620.5,492.6 612.2,497.6 615.6,485.2" fill="#606060" />
<polygon points="612.2,497.6 612.8,481.4 615.6,485.2" fill="#8e8e8e" />
<polygon points="625.1,476.3 635.2,474.3 630.2,483.7" fill="#939393" />
<polygon points="635.2,474.3 630.6,487.0 630.2,483.7" fill="#818181" />
<polygon points="630.6,487.0 620.5,492.6 630.2,483.7" fill="#636363" />
<polygon points="620.5,492.6 625.1,476.3 630.2,483.7" fill="#888888" />
<polygon points="635.2,474.3 642.5,468.1 637.1,484.4" fill="#9d9d9d" />
<polygon points="642.5,468.1 638.8,490.2 637.1,484.4" fill="#7b7b7b" />
<polygon points="638.8,490.2 630.6,487.0 637.1,484.4" fill="#5f5f5f" />
<polygon points="630.6,487.0 635.2,474.3 637.1,484.4" fill="#959595" />
<polygon points="642.5,468.1 654.0,458.2 644.3,472.0" fill="#9e9e9e" />
<polygon points="654.0,458.2 651.6,483.9 644.3,472.0" fill="#7b7b7b" />
<polygon points="651.6,483.9 638.8,490.2 644.3,472.0" fill="#696969" />
<polygon points="638.8,490.2 642.5,468.1 644.3,472.0" fill="#8f8f8f" />
<polygon points="654.0,458.2 664.8,459.2 658.8,469.4" fill="#9d9d9d" />
<polygon points="664.8,459.2 663.2,479.6 658.8,469.4" fill="#7e7e7e" />
<polygon points="663.2,479.6 651.6,483.9 658.8,469.4" fill="#5c5c5c" />
<polygon points="651.6,483.9 654.0,458.2 658.8,469.4" fill="#888888" />
<polygon points="664.8,459.2 673.6,452.5 671.1,465.4" fill="#9a9a9a" />
<polygon points="673.6,452.5 674.9,468.2 671.1,465.4" fill="#737373" />
<polygon points="674.9,468.2 663.2,479.6 671.1,465.4" fill="#535353" />
<polygon points="663.2,479.6 664.8,459.2 671.1,465.4" fill="#868686" />
<polygon points="673.6,452.5 685.6,442.5 677.3,457.1" fill="#989898" />
<polygon points="685.6,442.5 680.1,465.8 677.3,457.1" fill="#828282" />
<polygon points="680.1,465.8 674.9,468.2 677.3,457.1" fill="#5d5d5d" />
<polygon points="674.9,468.2 673.6,452.5 677.3,457.1" fill="#8f8f8f" />
<polygon points="685.6,442.5 698.7,443.7 689.9,447.8" fill="#939393" />
<polygon points="698.7,443.7 693.5,456.0 689.9,447.8" fill="#7c7c7c" />
<polygon points="693.5,456.0 680.1,465.8 689.9,447.8" fill="#676767" />
<polygon points="680.1,465.8 685.6,442.5 689.9,447.8" fill="#8d8d8d" />
<polygon points="698.7,443.7 706.7,438.8 701.5,451.1" fill="#9c9c9c" />
<polygon points="706.7,438.8 702.8,455.5 701.5,451.1" fill="#7c7c7c" />
<polygon points="702.8,455.5 693.5,456.0 701.5,451.1" fill="#545454" />
<polygon points="693.5,456.0 698.7,443.7 701.5,451.1" fill="#8c8c8c" />
<polygon points="535.8,535.2 544.2,529.7 542.4,537.3" fill="#9e9e9e" />
<polygon points="544.2,529.7 552.5,547.2 542.4,537.3" fill="#868686" />
<polygon points="552.5,547.2 539.1,550.4 542.4,537.3" fill="#5d5d5d" />
<polygon points="539.1,550.4 535.8,535.2 542.4,537.3" fill="#949494" />
<polygon points="544.2,529.7 555.2,529.1 551.4,533.7" fill="#898989" />
<polygon points="555.2,529.1 562.5,539.1 551.4,533.7" fill="#777777" />
<polygon points="562.5,539.1 552.5,547.2 551.4,533.7" fill="#535353" />
<polygon points="552.5,547.2 544.2,529.7 551.4,533.7" fill="#7f7f7f" />
<polygon points="555.2,529.1 570.1,525.0 565.3,533.2" fill="#9d9d9d" />
<polygon points="570.1,525.0 569.2,542.6 565.3,533.2" fill="#878787" />
<polygon points="569.2,542.6 562.5,539.1 565.3,533.2" fill="#636363" />
<polygon points="562.5,539.1 555.2,529.1 565.3,533.2" fill="#969696" />
<polygon points="570.1,525.0 577.8,510.4 576.9,525.8" fill="#969696" />
<polygon points="577.8,510.4 583.3,538.5 576.9,525.8" fill="#828282" />
<polygon points="583.3,538.5 569.2,542.6 576.9,525.8" fill="#636363" />
<polygon points="569.2,542.6 570.1,525.0 576.9,525.8" fill="#919191" />
<polygon points="577.8,510.4 591.3,513.5 584.0,522.7" fill="#9f9f9f" />
<polygon points="591.3,513.5 591.2,533.3 584.0,522.7" fill="#818181" />
<polygon points="591.2,533.3 583.3,538.5 584.0,522.7" fill="#575757" />
<polygon points="583.3,538.5 577.8,510.4 584.0,522.7" fill="#8c8c8c" />
<polygon points="591.3,513.5 597.6,504.9 593.6,519.2" fill="#939393" />
<polygon points="597.6,504.9 602.4,523.1 593.6,519.2" fill="#868686" />
<polygon points="602.4,523.1 591.2,533.3 593.6,519.2" fill="#646464" />
<polygon points="591.2,533.3 591.3,513.5 593.6,519.2" fill="#878787" />
<polygon points="597.6,504.9 612.2,497.6 605.0,512.0" fill="#9c9c9c" />
<polygon points="612.2,497.6 614.0,524.4 605.0,512.0" fill="#777777" />
<polygon points="614.0,524.4 602.4,523.1 605.0,512.0" fill="#595959" />
<polygon points="602.4,523.1 597.6,504.9 605.0,512.0" fill="#848484" />
<polygon points="612.2,497.6 620.5,492.6 619.1,503.8" fill="#919191" />
<polygon points="620.5,492.6 623.6,513.1 619.1,503.8" fill="#7c7c7c" />
<polygon points="623.6,513.1 614.0,524.4 619.1,503.8" fill="#595959" />
<polygon points="614.0,524.4 612.2,497.6 619.1,503.8" fill="#7f7f7f" />
<polygon points="620.5,492.6 630.6,487.0 628.5,500.4" fill="#9c9c9c" />
<polygon points="630.6,487.0 631.8,507.3 628.5,500.4" fill="#848484" />
<polygon points="631.8,507.3 623.6,513.1 628.5,500.4" fill="#565656" />
<polygon points="623.6,513.1 620.5,492.6 628.5,500.4" fill="#868686" />
<polygon points="630.6,487.0 638.8,490.2 635.3,496.3" fill="#a0a0a0" />
<polygon points="638.8,490.2 647.0,500.7 635.3,496.3" fill="#767676" />
<polygon points="647.0,500.7 631.8,507.3 635.3,496.3" fill="#5c5c5c" />
<polygon points="631.8,507.3 630.6,487.0 635.3,496.3" fill="#939393" />
<polygon points="638.8,490.2 651.6,483.9 649.8,492.0" fill="#969696" />
<polygon points="651.6,483.9 658.1,497.6 649.8,492.0" fill="#868686" />
<polygon points="658.1,497.6 647.0,500.7 649.8,492.0" fill="#606060" />
<polygon points="647.0,500.7 638.8,490.2 649.8,492.0" fill="#949494" />
<polygon points="651.6,483.9 663.2,479.6 659.9,484.1" fill="#949494" />
<polygon points="663.2,479.6 664.6,492.3 659.9,484.1" fill="#848484" />
<polygon points="664.6,492.3 658.1,497.6 659.9,484.1" fill="#616161" />
<polygon points="658.1,497.6 651.6,483.9 659.9,484.1" fill="#818181" />
<polygon points="663.2,479.6 674.9,468.2 667.7,481.1" fill="#9c9c9c" />
<polygon points="674.9,468.2 674.6,490.0 667.7,481.1" fill="#7d7d7d" />
<polygon points="674.6,490.0 664.6,492.3 667.7,481.1" fill="#5f5f5f" />
<polygon points="664.6,492.3 663.2,479.6 667.7,481.1" fill="#838383" />
<polygon points="674.9,468.2 680.1,465.8 680.2,475.2" fill="#919191" />
<polygon points="680.1,465.8 689.7,483.6 680.2,475.2" fill="#808080" />
<polygon points="689.7,483.6 674.6,490.0 680.2,475.2" fill="#515151" />
<polygon points="674.6,490.0 674.9,468.2 680.2,475.2" fill="#7d7d7d" />
<polygon points="680.1,465.8 693.5,456.0 691.5,470.0" fill="#979797" />
<polygon points="693.5,456.0 699.4,483.8 691.5,470.0" fill="#767676" />
<polygon points="699.4,483.8 689.7,483.6 691.5,470.0" fill="#5f5f5f" />
<polygon points="689.7,483.6 680.1,465.8 691.5,470.0" fill="#8a8a8a" />
<polygon points="693.5,456.0 702.8,455.5 703.8,472.9" fill="#939393" />
<polygon points="702.8,455.5 710.5,476.3 703.8,472.9" fill="#7c7c7c" />
<polygon points="710.5,476.3 699.4,483.8 703.8,472.9" fill="#606060" />
<polygon points="699.4,483.8 693.5,456.0 703.8,472.9" fill="#8a8a8a" />
<polygon points="539.1,550.4 552.5,547.2 543.6,562.7" fill="#8d8d8d" />
<polygon points="552.5,547.2 543.8,570.3 543.6,562.7" fill="#7b7b7b" />
<polygon points="543.8,570.3 536.3,577.4 543.6,562.7" fill="#5e5e5e" />
<polygon points="536.3,577.4 539.1,550.4 543.6,562.7" fill="#8c8c8c" />
<polygon points="552.5,547.2 562.5,539.1 554.8,553.6" fill="#9d9d9d" />
<polygon points="562.5,539.1 556.7,565.5 554.8,553.6" fill="#7d7d7d" />
<polygon points="556.7,565.5 543.8,570.3 554.8,553.6" fill="#626262" />
<polygon points="543.8,570.3 552.5,547.2 554.8,553.6" fill="#888888" />
<polygon points="562.5,539.1 569.2,542.6 564.5,551.0" fill="#888888" />
<polygon points="569.2,542.6 568.4,560.7 564.5,551.0" fill="#6b6b6b" />
<polygon points="568.4,560.7 556.7,565.5 564.5,551.0" fill="#5b5b5b" />
<polygon points="556.7,565.5 562.5,539.1 564.5,551.0" fill="#7c7c7c" />
<polygon points="569.2,542.6 583.3,538.5 573.4,545.7" fill="#8c8c8c" />
<polygon points="583.3,538.5 575.3,551.1 573.4,545.7" fill="#6b6b6b" />
<polygon points="575.3,551.1 568.4,560.7 573.4,545.7" fill="#4c4c4c" />
<polygon points="568.4,560.7 569.2,542.6 573.4,545.7" fill="#888888" />
<polygon points="583.3,538.5 591.2,533.3 583.8,543.4" fill="#929292" />
<polygon points="591.2,533.3 586.3,552.6 583.8,543.4" fill="#727272" />
<polygon points="586.3,552.6 575.3,551.1 583.8,543.4" fill="#545454" />
<polygon points="575.3,551.1 583.3,538.5 583.8,543.4" fill="#838383" />
<polygon points="591.2,533.3 602.4,523.1 593.5,540.3" fill="#9c9c9c" />
<polygon points="602.4,523.1 598.1,543.1 593.5,540.3" fill="#757575" />
<polygon points="598.1,543.1 586.3,552.6 593.5,540.3" fill="#636363" />
<polygon points="586.3,552.6 591.2,533.3 593.5,540.3" fill="#888888" />
<polygon points="602.4,523.1 614.0,524.4 604.2,528.6" fill="#9d9d9d" />
<polygon points="614.0,524.4 610.9,536.4 604.2,528.6" fill="#767676" />
<polygon points="610.9,536.4 598.1,543.1 604.2,528.6" fill="#616161" />
<polygon points="598.1,543.1 602.4,523.1 604.2,528.6" fill="#868686" />
<polygon points="614.0,524.4 623.6,513.1 618.6,523.7" fill="#9a9a9a" />
<polygon points="623.6,513.1 618.6,538.3 618.6,523.7" fill="#737373" />
<polygon points="618.6,538.3 610.9,536.4 618.6,523.7" fill="#565656" />
<polygon points="610.9,536.4 614.0,524.4 618.6,523.7" fill="#7c7c7c" />
<polygon points="623.6,513.1 631.8,507.3 624.1,519.9" fill="#939393" />
<polygon points="631.8,507.3 629.3,530.1 624.1,519.9" fill="#7a7a7a" />
<polygon points="629.3,530.1 618.6,538.3 624.1,519.9" fill="#595959" />
<polygon points="618.6,538.3 623.6,513.1 624.1,519.9" fill="#8c8c8c" />
<polygon points="631.8,507.3 647.0,500.7 638.9,517.1" fill="#999999" />
<polygon points="647.0,500.7 640.4,524.2 638.9,517.1" fill="#838383" />
<polygon points="640.4,524.2 629.3,530.1 638.9,517.1" fill="#5e5e5e" />
<polygon points="629.3,530.1 631.8,507.3 638.9,517.1" fill="#7f7f7f" />
<polygon points="647.0,500.7 658.1,497.6 650.3,513.2" fill="#939393" />
<polygon points="658.1,497.6 649.5,515.4 650.3,513.2" fill="#767676" />
<polygon points="649.5,515.4 640.4,524.2 650.3,513.2" fill="#606060" />
<polygon points="640.4,524.2 647.0,500.7 650.3,513.2" fill="#929292" />
<polygon points="658.1,497.6 664.6,492.3 659.9,508.3" fill="#939393" />
<polygon points="664.6,492.3 664.4,510.9 659.9,508.3" fill="#7f7f7f" />
<polygon points="664.4,510.9 649.5,515.4 659.9,508.3" fill="#5f5f5f" />
<polygon points="649.5,515.4 658.1,497.6 659.9,508.3" fill="#868686" />
<polygon points="664.6,492.3 674.6,490.0 669.5,498.9" fill="#919191" />
<polygon points="674.6,490.0 670.8,508.8 669.5,498.9" fill="#6e6e6e" />
<polygon points="670.8,508.8 664.4,510.9 669.5,498.9" fill="#5c5c5c" />
<polygon points="664.4,510.9 664.6,492.3 669.5,498.9" fill="#818181" />
<polygon points="674.6,490.0 689.7,483.6 680.3,498.6" fill="#969696" />
<polygon points="689.7,483.6 686.0,508.0 680.3,498.6" fill="#717171" />
<polygon points="686.0,508.0 670.8,508.8 680.3,498.6" fill="#656565" />
<polygon points="670.8,508.8 674.6,490.0 680.3,498.6" fill="#8a8a8a" />
<polygon points="689.7,483.6 699.4,483.8 694.0,489.0" fill="#a1a1a1" />
<polygon points="699.4,483.8 691.3,498.5 694.0,489.0" fill="#7e7e7e" />
<polygon points="691.3,498.5 686.0,508.0 694.0,489.0" fill="#5d5d5d" />
<polygon points="686.0,508.0 689.7,483.6 694.0,489.0" fill="#898989" />
<polygon points="699.4,483.8 710.5,476.3 698.9,490.1" fill="#989898" />
<polygon points="710.5,476.3 701.5,491.0 698.9,490.1" fill="#767676" />
<polygon points="701.5,491.0 691.3,498.5 698.9,490.1" fill="#5b5b5b" />
<polygon points="691.3,498.5 699.4,483.8 698.9,490.1" fill="#878787" />
<polygon points="536.3,577.4 543.8,570.3 541.9,582.2" fill="#939393" />
<polygon points="543.8,570.3 549.1,584.5 541.9,582.2" fill="#7e7e7e" />
<polygon points="549.1,584.5 537.5,590.4 541.9,582.2" fill="#585858" />
<polygon points="537.5,590.4 536.3,577.4 541.9,582.2" fill="#8c8c8c" />
<polygon points="543.8,570.3 556.7,565.5 554.5,578.5" fill="#949494" />
<polygon points="556.7,565.5 563.3,582.8 554.5,578.5" fill="#7d7d7d" />
<polygon points="563.3,582.8 549.1,584.5 554.5,578.5" fill="#565656" />
<polygon points="549.1,584.5 543.8,570.3 554.5,578.5" fill="#7d7d7d" />
<polygon points="556.7,565.5 568.4,560.7 565.0,576.6" fill="#848484" />
<polygon points="568.4,560.7 571.0,579.7 565.0,576.6" fill="#707070" />
<polygon points="571.0,579.7 563.3,582.8 565.0,576.6" fill="#565656" />
<polygon points="563.3,582.8 556.7,565.5 565.0,576.6" fill="#848484" />
<polygon points="568.4,560.7 575.3,551.1 573.5,570.6" fill="#929292" />
<polygon points="575.3,551.1 582.1,571.4 573.5,570.6" fill="#6a6a6a" />
<polygon points="582.1,571.4 571.0,579.7 573.5,570.6" fill="#4d4d4d" />
<polygon points="571.0,579.7 568.4,560.7 573.5,570.6" fill="#797979" />
<polygon points="575.3,551.1 586.3,552.6 581.6,560.3" fill="#909090" />
<polygon points="586.3,552.6 591.5,566.1 581.6,560.3" fill="#818181" />
<polygon points="591.5,566.1 582.1,571.4 581.6,560.3" fill="#595959" />
<polygon points="582.1,571.4 575.3,551.1 581.6,560.3" fill="#808080" />
<polygon points="586.3,552.6 598.1,543.1 592.8,557.3" fill="#979797" />
<polygon points="598.1,543.1 601.7,558.0 592.8,557.3" fill="#777777" />
<polygon points="601.7,558.0 591.5,566.1 592.8,557.3" fill="#686868" />
<polygon points="591.5,566.1 586.3,552.6 592.8,557.3" fill="#898989" />
<polygon points="598.1,543.1 610.9,536.4 607.9,549.9" fill="#949494" />
<polygon points="610.9,536.4 611.3,562.1 607.9,549.9" fill="#808080" />
<polygon points="611.3,562.1 601.7,558.0 607.9,549.9" fill="#5d5d5d" />
<polygon points="601.7,558.0 598.1,543.1 607.9,549.9" fill="#858585" />
<polygon points="610.9,536.4 618.6,538.3 618.4,543.4" fill="#919191" />
<polygon points="618.6,538.3 624.8,552.6 618.4,543.4" fill="#7f7f7f" />
<polygon points="624.8,552.6 611.3,562.1 618.4,543.4" fill="#5d5d5d" />
<polygon points="611.3,562.1 610.9,536.4 618.4,543.4" fill="#919191" />
<polygon points="618.6,538.3 629.3,530.1 624.2,543.7" fill="#989898" />
<polygon points="629.3,530.1 632.8,551.2 624.2,543.7" fill="#7f7f7f" />
<polygon points="632.8,551.2 624.8,552.6 624.2,543.7" fill="#5b5b5b" />
<polygon points="624.8,552.6 618.6,538.3 624.2,543.7" fill="#7e7e7e" />
<polygon points="629.3,530.1 640.4,524.2 635.2,534.1" fill="#8e8e8e" />
<polygon points="640.4,524.2 643.5,540.4 635.2,534.1" fill="#707070" />
<polygon points="643.5,540.4 632.8,551.2 635.2,534.1" fill="#5e5e5e" />
<polygon points="632.8,551.2 629.3,530.1 635.2,534.1" fill="#878787" />
<polygon points="640.4,524.2 649.5,515.4 646.1,534.1" fill="#979797" />
<polygon points="649.5,515.4 655.2,536.7 646.1,534.1" fill="#737373" />
<polygon points="655.2,536.7 643.5,540.4 646.1,534.1" fill="#636363" />
<polygon points="643.5,540.4 640.4,524.2 646.1,534.1" fill="#8f8f8f" />
<polygon points="649.5,515.4 664.4,510.9 658.1,527.6" fill="#9e9e9e" />
<polygon points="664.4,510.9 668.1,537.3 658.1,527.6" fill="#838383" />
<polygon points="668.1,537.3 655.2,536.7 658.1,527.6" fill="#696969" />
<polygon points="655.2,536.7 649.5,515.4 658.1,527.6" fill="#9c9c9c" />
<polygon points="664.4,510.9 670.8,508.8 667.6,524.0" fill="#9d9d9d" />
<polygon points="670.8,508.8 673.6,531.6 667.6,524.0" fill="#838383" />
<polygon points="673.6,531.6 668.1,537.3 667.6,524.0" fill="#6b6b6b" />
<polygon points="668.1,537.3 664.4,510.9 667.6,524.0" fill="#8a8a8a" />
<polygon points="670.8,508.8 686.0,508.0 681.6,515.3" fill="#a7a7a7" />
<polygon points="686.0,508.0 688.3,518.2 681.6,515.3" fill="#7f7f7f" />
<polygon points="688.3,518.2 673.6,531.6 681.6,515.3" fill="#6f6f6f" />
<polygon points="673.6,531.6 670.8,508.8 681.6,515.3" fill="#9d9d9d" />
<polygon points="686.0,508.0 691.3,498.5 689.7,506.9" fill="#9b9b9b" />
<polygon points="691.3,498.5 697.3,521.9 689.7,506.9" fill="#6e6e6e" />
<polygon points="697.3,521.9 688.3,518.2 689.7,506.9" fill="#626262" />
<polygon points="688.3,518.2 686.0,508.0 689.7,506.9" fill="#7f7f7f" />
<polygon points="691.3,498.5 701.5,491.0 700.0,502.3" fill="#989898" />
<polygon points="701.5,491.0 705.0,513.9 700.0,502.3" fill="#717171" />
<polygon points="705.0,513.9 697.3,521.9 700.0,502.3" fill="#595959" />
<polygon points="697.3,521.9 691.3,498.5 700.0,502.3" fill="#8f8f8f" />
<polygon points="537.5,590.4 549.1,584.5 544.5,602.3" fill="#969696" />
<polygon points="549.1,584.5 548.6,609.3 544.5,602.3" fill="#7c7c7c" />
<polygon points="548.6,609.3 538.6,609.9 544.5,602.3" fill="#696969" />
<polygon points="538.6,609.9 537.5,590.4 544.5,602.3" fill="#939393" />
<polygon points="549.1,584.5 563.3,582.8 551.8,595.7" fill="#8d8d8d" />
<polygon points="563.3,582.8 555.5,605.9 551.8,595.7" fill="#6a6a6a" />
<polygon points="555.5,605.9 548.6,609.3 551.8,595.7" fill="#4c4c4c" />
<polygon points="548.6,609.3 549.1,584.5 551.8,595.7" fill="#8a8a8a" />
<polygon points="563.3,582.8 571.0,579.7 562.9,593.9" fill="#8c8c8c" />
<polygon points="571.0,579.7 565.4,592.3 562.9,593.9" fill="#696969" />
<polygon points="565.4,592.3 555.5,605.9 562.9,593.9" fill="#525252" />
<polygon points="555.5,605.9 563.3,582.8 562.9,593.9" fill="#777777" />
<polygon points="571.0,579.7 582.1,571.4 575.3,580.2" fill="#989898" />
<polygon points="582.1,571.4 579.1,591.5 575.3,580.2" fill="#757575" />
<polygon points="579.1,591.5 565.4,592.3 575.3,580.2" fill="#5d5d5d" />
<polygon points="565.4,592.3 571.0,579.7 575.3,580.2" fill="#8a8a8a" />
<polygon points="582.1,571.4 591.5,566.1 587.7,578.4" fill="#959595" />
<polygon points="591.5,566.1 589.8,590.7 587.7,578.4" fill="#797979" />
<polygon points="589.8,590.7 579.1,591.5 587.7,578.4" fill="#595959" />
<polygon points="579.1,591.5 582.1,571.4 587.7,578.4" fill="#7b7b7b" />
<polygon points="591.5,566.1 601.7,558.0 594.3,572.1" fill="#848484" />
<polygon points="601.7,558.0 600.6,582.9 594.3,572.1" fill="#6f6f6f" />
<polygon points="600.6,582.9 589.8,590.7 594.3,572.1" fill="#505050" />
<polygon points="589.8,590.7 591.5,566.1 594.3,572.1" fill="#7e7e7e" />
<polygon points="601.7,558.0 611.3,562.1 605.1,564.9" fill="#9a9a9a" />
<polygon points="611.3,562.1 609.8,576.0 605.1,564.9" fill="#7c7c7c" />
<polygon points="609.8,576.0 600.6,582.9 605.1,564.9" fill="#5f5f5f" />
<polygon points="600.6,582.9 601.7,558.0 605.1,564.9" fill="#8d8d8d" />
<polygon points="611.3,562.1 624.8,552.6 619.3,568.1" fill="#969696" />
<polygon points="624.8,552.6 621.7,566.9 619.3,568.1" fill="#787878" />
<polygon points="621.7,566.9 609.8,576.0 619.3,568.1" fill="#5d5d5d" />
<polygon points="609.8,576.0 611.3,562.1 619.3,568.1" fill="#939393" />
<polygon points="624.8,552.6 632.8,551.2 627.5,557.5" fill="#8c8c8c" />
<polygon points="632.8,551.2 633.0,563.9 627.5,557.5" fill="#808080" />
<polygon points="633.0,563.9 621.7,566.9 627.5,557.5" fill="#505050" />
<polygon points="621.7,566.9 624.8,552.6 627.5,557.5" fill="#868686" />
<polygon points="632.8,551.2 643.5,540.4 639.4,552.2" fill="#9c9c9c" />
<polygon points="643.5,540.4 639.8,563.1 639.4,552.2" fill="#7d7d7d" />
<polygon points="639.8,563.1 633.0,563.9 639.4,552.2" fill="#5f5f5f" />
<polygon points="633.0,563.9 632.8,551.2 639.4,552.2" fill="#888888" />
<polygon points="643.5,540.4 655.2,536.7 648.8,551.1" fill="#9c9c9c" />
<polygon points="655.2,536.7 650.0,553.0 648.8,551.1" fill="#8c8c8c" />
<polygon points="650.0,553.0 639.8,563.1 648.8,551.1" fill="#686868" />
<polygon points="639.8,563.1 643.5,540.4 648.8,551.1" fill="#999999" />
<polygon points="655.2,536.7 668.1,537.3 659.4,543.2" fill="#9d9d9d" />
<polygon points="668.1,537.3 663.2,553.1 659.4,543.2" fill="#8e8e8e" />
<polygon points="663.2,553.1 650.0,553.0 659.4,543.2" fill="#727272" />
<polygon points="650.0,553.0 655.2,536.7 659.4,543.2" fill="#979797" />
<polygon points="668.1,537.3 673.6,531.6 669.2,546.2" fill="#989898" />
<polygon points="673.6,531.6 669.9,543.0 669.2,546.2" fill="#7f7f7f" />
<polygon points="669.9,543.0 663.2,553.1 669.2,546.2" fill="#5b5b5b" />
<polygon points="663.2,553.1 668.1,537.3 669.2,546.2" fill="#8c8c8c" />
<polygon points="673.6,531.6 688.3,518.2 678.3,534.0" fill="#a1a1a1" />
<polygon points="688.3,518.2 683.5,542.2 678.3,534.0" fill="#7e7e7e" />
<polygon points="683.5,542.2 669.9,543.0 678.3,534.0" fill="#676767" />
<polygon points="669.9,543.0 673.6,531.6 678.3,534.0" fill="#919191" />
<polygon points="688.3,518.2 697.3,521.9 688.9,530.7" fill="#9d9d9d" />
<polygon points="697.3,521.9 691.8,535.9 688.9,530.7" fill="#7a7a7a" />
<polygon points="691.8,535.9 683.5,542.2 688.9,530.7" fill="#626262" />
<polygon points="683.5,542.2 688.3,518.2 688.9,530.7" fill="#898989" />
<polygon points="697.3,521.9 705.0,513.9 698.7,523.4" fill="#9b9b9b" />
<polygon points="705.0,513.9 701.1,533.1 698.7,523.4" fill="#797979" />
<polygon points="701.1,533.1 691.8,535.9 698.7,523.4" fill="#5c5c5c" />
<polygon points="691.8,535.9 697.3,521.9 698.7,523.4" fill="#878787" />
<polygon points="538.6,609.9 548.6,609.3 546.1,616.6" fill="#929292" />
<polygon points="548.6,609.3 551.4,629.7 546.1,616.6" fill="#707070" />
<polygon points="551.4,629.7 539.8,628.0 546.1,616.6" fill="#565656" />
<polygon points="539.8,628.0 538.6,609.9 546.1,616.6" fill="#858585" />
<polygon points="548.6,609.3 555.5,605.9 556.1,620.9" fill="#888888" />
<polygon points="555.5,605.9 560.9,624.0 556.1,620.9" fill="#757575" />
<polygon points="560.9,624.0 551.4,629.7 556.1,620.9" fill="#575757" />
<polygon points="551.4,629.7 548.6,609.3 556.1,620.9" fill="#757575" />
<polygon points="555.5,605.9 565.4,592.3 561.2,606.2" fill="#898989" />
<polygon points="565.4,592.3 570.0,612.5 561.2,606.2" fill="#767676" />
<polygon points="570.0,612.5 560.9,624.0 561.2,606.2" fill="#535353" />
<polygon points="560.9,624.0 555.5,605.9 561.2,606.2" fill="#7d7d7d" />
<polygon points="565.4,592.3 579.1,591.5 572.4,601.7" fill="#a1a1a1" />
<polygon points="579.1,591.5 583.2,614.9 572.4,601.7" fill="#808080" />
<polygon points="583.2,614.9 570.0,612.5 572.4,601.7" fill="#646464" />
<polygon points="570.0,612.5 565.4,592.3 572.4,601.7" fill="#959595" />
<polygon points="579.1,591.5 589.8,590.7 586.7,596.6" fill="#959595" />
<polygon points="589.8,590.7 589.6,603.4 586.7,596.6" fill="#7c7c7c" />
<polygon points="589.6,603.4 583.2,614.9 586.7,596.6" fill="#595959" />
<polygon points="583.2,614.9 579.1,591.5 586.7,596.6" fill="#878787" />
<polygon points="589.8,590.7 600.6,582.9 595.2,593.2" fill="#858585" />
<polygon points="600.6,582.9 604.0,600.4 595.2,593.2" fill="#6f6f6f" />
<polygon points="604.0,600.4 589.6,603.4 595.2,593.2" fill="#494949" />
<polygon points="589.6,603.4 589.8,590.7 595.2,593.2" fill="#757575" />
<polygon points="600.6,582.9 609.8,576.0 607.7,586.2" fill="#8c8c8c" />
<polygon points="609.8,576.0 612.0,594.7 607.7,586.2" fill="#7b7b7b" />
<polygon points="612.0,594.7 604.0,600.4 607.7,586.2" fill="#505050" />
<polygon points="604.0,600.4 600.6,582.9 607.7,586.2" fill="#858585" />
<polygon points="609.8,576.0 621.7,566.9 619.3,579.5" fill="#979797" />
<polygon points="621.7,566.9 626.6,592.2 619.3,579.5" fill="#787878" />
<polygon points="626.6,592.2 612.0,594.7 619.3,579.5" fill="#575757" />
<polygon points="612.0,594.7 609.8,576.0 619.3,579.5" fill="#7b7b7b" />
<polygon points="621.7,566.9 633.0,563.9 628.0,575.1" fill="#949494" />
<polygon points="633.0,563.9 631.7,582.9 628.0,575.1" fill="#7a7a7a" />
<polygon points="631.7,582.9 626.6,592.2 628.0,575.1" fill="#616161" />
<polygon points="626.6,592.2 621.7,566.9 628.0,575.1" fill="#909090" />
<polygon points="633.0,563.9 639.8,563.1 636.5,571.1" fill="#a4a4a4" />
<polygon points="639.8,563.1 644.5,579.0 636.5,571.1" fill="#7b7b7b" />
<polygon points="644.5,579.0 631.7,582.9 636.5,571.1" fill="#6d6d6d" />
<polygon points="631.7,582.9 633.0,563.9 636.5,571.1" fill="#939393" />
<polygon points="639.8,563.1 650.0,553.0 646.4,569.8" fill="#919191" />
<polygon points="650.0,553.0 653.7,577.5 646.4,569.8" fill="#818181" />
<polygon points="653.7,577.5 644.5,579.0 646.4,569.8" fill="#5d5d5d" />
<polygon points="644.5,579.0 639.8,563.1 646.4,569.8" fill="#8b8b8b" />
<polygon points="650.0,553.0 663.2,553.1 658.6,568.4" fill="#999999" />
<polygon points="663.2,553.1 667.4,573.8 658.6,568.4" fill="#868686" />
<polygon points="667.4,573.8 653.7,577.5 658.6,568.4" fill="#676767" />
<polygon points="653.7,577.5 650.0,553.0 658.6,568.4" fill="#929292" />
<polygon points="663.2,553.1 669.9,543.0 670.5,558.1" fill="#a1a1a1" />
<polygon points="669.9,543.0 674.7,565.9 670.5,558.1" fill="#7e7e7e" />
<polygon points="674.7,565.9 667.4,573.8 670.5,558.1" fill="#626262" />
<polygon points="667.4,573.8 663.2,553.1 670.5,558.1" fill="#8d8d8d" />
<polygon points="669.9,543.0 683.5,542.2 680.1,555.9" fill="#9f9f9f" />
<polygon points="683.5,542.2 685.9,565.6 680.1,555.9" fill="#7b7b7b" />
<polygon points="685.9,565.6 674.7,565.9 680.1,555.9" fill="#6b6b6b" />
<polygon points="674.7,565.9 669.9,543.0 680.1,555.9" fill="#939393" />
<polygon points="683.5,542.2 691.8,535.9 690.6,553.4" fill="#8f8f8f" />
<polygon points="691.8,535.9 695.9,559.2 690.6,553.4" fill="#6f6f6f" />
<polygon points="695.9,559.2 685.9,565.6 690.6,553.4" fill="#616161" />
<polygon points="685.9,565.6 683.5,542.2 690.6,553.4" fill="#7e7e7e" />
<polygon points="691.8,535.9 701.1,533.1 697.5,546.6" fill="#969696" />
<polygon points="701.1,533.1 709.6,548.3 697.5,546.6" fill="#848484" />
<polygon points="709.6,548.3 695.9,559.2 697.5,546.6" fill="#686868" />
<polygon points="695.9,559.2 691.8,535.9 697.5,546.6" fill="#8e8e8e" />
<polygon points="539.8,628.0 551.4,629.7 541.4,639.1" fill="#939393" />
<polygon points="551.4,629.7 544.6,644.0 541.4,639.1" fill="#808080" />
<polygon points="544.6,644.0 538.7,646.9 541.4,639.1" fill="#5f5f5f" />
<polygon points="538.7,646.9 539.8,628.0 541.4,639.1" fill="#8b8b8b" />
<polygon points="551.4,629.7 560.9,624.0 551.6,631.8" fill="#8c8c8c" />
<polygon points="560.9,624.0 556.5,636.4 551.6,631.8" fill="#828282" />
<polygon points="556.5,636.4 544.6,644.0 551.6,631.8" fill="#575757" />
<polygon points="544.6,644.0 551.4,629.7 551.6,631.8" fill="#818181" />
<polygon points="560.9,624.0 570.0,612.5 563.4,624.7" fill="#9c9c9c" />
<polygon points="570.0,612.5 570.2,635.8 563.4,624.7" fill="#7f7f7f" />
<polygon points="570.2,635.8 556.5,636.4 563.4,624.7" fill="#606060" />
<polygon points="556.5,636.4 560.9,624.0 563.4,624.7" fill="#848484" />
<polygon points="570.0,612.5 583.2,614.9 574.2,625.9" fill="#9f9f9f" />
<polygon points="583.2,614.9 577.4,625.7 574.2,625.9" fill="#797979" />
<polygon points="577.4,625.7 570.2,635.8 574.2,625.9" fill="#5b5b5b" />
<polygon points="570.2,635.8 570.0,612.5 574.2,625.9" fill="#838383" />
<polygon points="583.2,614.9 589.6,603.4 585.6,615.1" fill="#939393" />
<polygon points="589.6,603.4 591.3,621.5 585.6,615.1" fill="#787878" />
<polygon points="591.3,621.5 577.4,625.7 585.6,615.1" fill="#575757" />
<polygon points="577.4,625.7 583.2,614.9 585.6,615.1" fill="#8b8b8b" />
<polygon points="589.6,603.4 604.0,600.4 593.8,614.5" fill="#8d8d8d" />
<polygon points="604.0,600.4 596.3,615.8 593.8,614.5" fill="#757575" />
<polygon points="596.3,615.8 591.3,621.5 593.8,614.5" fill="#5c5c5c" />
<polygon points="591.3,621.5 589.6,603.4 593.8,614.5" fill="#858585" />
<polygon points="604.0,600.4 612.0,594.7 605.6,603.5" fill="#949494" />
<polygon points="612.0,594.7 608.9,610.1 605.6,603.5" fill="#6f6f6f" />
<polygon points="608.9,610.1 596.3,615.8 605.6,603.5" fill="#5a5a5a" />
<polygon points="596.3,615.8 604.0,600.4 605.6,603.5" fill="#878787" />
<polygon points="612.0,594.7 626.6,592.2 617.9,602.1" fill="#9b9b9b" />
<polygon points="626.6,592.2 622.3,613.5 617.9,602.1" fill="#888888" />
<polygon points="622.3,613.5 608.9,610.1 617.9,602.1" fill="#5b5b5b" />
<polygon points="608.9,610.1 612.0,594.7 617.9,602.1" fill="#8d8d8d" />
<polygon points="626.6,592.2 631.7,582.9 629.2,594.4" fill="#949494" />
<polygon points="631.7,582.9 633.5,606.9 629.2,594.4" fill="#818181" />
<polygon points="633.5,606.9 622.3,613.5 629.2,594.4" fill="#5c5c5c" />
<polygon points="622.3,613.5 626.6,592.2 629.2,594.4" fill="#959595" />
<polygon points="631.7,582.9 644.5,579.0 637.7,596.2" fill="#9e9e9e" />
<polygon points="644.5,579.0 640.0,604.0 637.7,596.2" fill="#838383" />
<polygon points="640.0,604.0 633.5,606.9 637.7,596.2" fill="#5f5f5f" />
<polygon points="633.5,606.9 631.7,582.9 637.7,596.2" fill="#888888" />
<polygon points="644.5,579.0 653.7,577.5 649.8,584.5" fill="#9f9f9f" />
<polygon points="653.7,577.5 654.1,591.6 649.8,584.5" fill="#808080" />
<polygon points="654.1,591.6 640.0,604.0 649.8,584.5" fill="#646464" />
<polygon points="640.0,604.0 644.5,579.0 649.8,584.5" fill="#9c9c9c" />
<polygon points="653.7,577.5 667.4,573.8 660.9,582.9" fill="#9b9b9b" />
<polygon points="667.4,573.8 659.2,592.2 660.9,582.9" fill="#8b8b8b" />
<polygon points="659.2,592.2 654.1,591.6 660.9,582.9" fill="#696969" />
<polygon points="654.1,591.6 653.7,577.5 660.9,582.9" fill="#8a8a8a" />
<polygon points="667.4,573.8 674.7,565.9 666.1,581.6" fill="#989898" />
<polygon points="674.7,565.9 671.8,586.5 666.1,581.6" fill="#727272" />
<polygon points="671.8,586.5 659.2,592.2 666.1,581.6" fill="#555555" />
<polygon points="659.2,592.2 667.4,573.8 666.1,581.6" fill="#868686" />
<polygon points="674.7,565.9 685.9,565.6 677.7,574.8" fill="#9b9b9b" />
<polygon points="685.9,565.6 682.0,578.6 677.7,574.8" fill="#757575" />
<polygon points="682.0,578.6 671.8,586.5 677.7,574.8" fill="#626262" />
<polygon points="671.8,586.5 674.7,565.9 677.7,574.8" fill="#808080" />
<polygon points="685.9,565.6 695.9,559.2 690.1,573.6" fill="#929292" />
<polygon points="695.9,559.2 690.5,571.7 690.1,573.6" fill="#7b7b7b" />
<polygon points="690.5,571.7 682.0,578.6 690.1,573.6" fill="#636363" />
<polygon points="682.0,578.6 685.9,565.6 690.1,573.6" fill="#868686" />
<polygon points="695.9,559.2 709.6,548.3 700.0,557.7" fill="#9e9e9e" />
<polygon points="709.6,548.3 703.1,567.8 700.0,557.7" fill="#7d7d7d" />
<polygon points="703.1,567.8 690.5,571.7 700.0,557.7" fill="#656565" />
<polygon points="690.5,571.7 695.9,559.2 700.0,557.7" fill="#858585" />
<polygon points="538.7,646.9 544.6,644.0 544.1,654.0" fill="#a4a4a4" />
<polygon points="544.6,644.0 548.7,667.7 544.1,654.0" fill="#898989" />
<polygon points="548.7,667.7 537.7,672.6 544.1,654.0" fill="#636363" />
<polygon points="537.7,672.6 538.7,646.9 544.1,654.0" fill="#8a8a8a" />
<polygon points="544.6,644.0 556.5,636.4 552.4,653.7" fill="#9a9a9a" />
<polygon points="556.5,636.4 562.9,656.7 552.4,653.7" fill="#6f6f6f" />
<polygon points="562.9,656.7 548.7,667.7 552.4,653.7" fill="#5a5a5a" />
<polygon points="548.7,667.7 544.6,644.0 552.4,653.7" fill="#8d8d8d" />
<polygon points="556.5,636.4 570.2,635.8 565.7,646.7" fill="#868686" />
<polygon points="570.2,635.8 571.1,656.4 565.7,646.7" fill="#6b6b6b" />
<polygon points="571.1,656.4 562.9,656.7 565.7,646.7" fill="#595959" />
<polygon points="562.9,656.7 556.5,636.4 565.7,646.7" fill="#848484" />
<polygon points="570.2,635.8 577.4,625.7 573.8,644.7" fill="#8c8c8c" />
<polygon points="577.4,625.7 581.8,643.8 573.8,644.7" fill="#777777" />
<polygon points="581.8,643.8 571.1,656.4 573.8,644.7" fill="#4e4e4e" />
<polygon points="571.1,656.4 570.2,635.8 573.8,644.7" fill="#858585" />
<polygon points="577.4,625.7 591.3,621.5 587.2,628.7" fill="#8f8f8f" />
<polygon points="591.3,621.5 595.0,642.1 587.2,628.7" fill="#6f6f6f" />
<polygon points="595.0,642.1 581.8,643.8 587.2,628.7" fill="#5c5c5c" />
<polygon points="581.8,643.8 577.4,625.7 587.2,628.7" fill="#7c7c7c" />
<polygon points="591.3,621.5 596.3,615.8 597.7,626.6" fill="#8c8c8c" />
<polygon points="596.3,615.8 602.2,635.3 597.7,626.6" fill="#676767" />
<polygon points="602.2,635.3 595.0,642.1 597.7,626.6" fill="#535353" />
<polygon points="595.0,642.1 591.3,621.5 597.7,626.6" fill="#838383" />
<polygon points="596.3,615.8 608.9,610.1 605.0,624.3" fill="#8a8a8a" />
<polygon points="608.9,610.1 610.7,637.4 605.0,624.3" fill="#666666" />
<polygon points="610.7,637.4 602.2,635.3 605.0,624.3" fill="#545454" />
<polygon points="602.2,635.3 596.3,615.8 605.0,624.3" fill="#757575" />
<polygon points="608.9,610.1 622.3,613.5 617.3,620.7" fill="#949494" />
<polygon points="622.3,613.5 625.9,627.6 617.3,620.7" fill="#6e6e6e" />
<polygon points="625.9,627.6 610.7,637.4 617.3,620.7" fill="#525252" />
<polygon points="610.7,637.4 608.9,610.1 617.3,620.7" fill="#8c8c8c" />
<polygon points="622.3,613.5 633.5,606.9 627.5,622.0" fill="#9b9b9b" />
<polygon points="633.5,606.9 631.7,626.3 627.5,622.0" fill="#787878" />
<polygon points="631.7,626.3 625.9,627.6 627.5,622.0" fill="#5b5b5b" />
<polygon points="625.9,627.6 622.3,613.5 627.5,622.0" fill="#959595" />
<polygon points="633.5,606.9 640.0,604.0 635.0,612.7" fill="#8e8e8e" />
<polygon points="640.0,604.0 642.4,614.0 635.0,612.7" fill="#787878" />
<polygon points="642.4,614.0 631.7,626.3 635.0,612.7" fill="#555555" />
<polygon points="631.7,626.3 633.5,606.9 635.0,612.7" fill="#878787" />
<polygon points="640.0,604.0 654.1,591.6 647.7,605.5" fill="#949494" />
<polygon points="654.1,591.6 654.0,617.9 647.7,605.5" fill="#747474" />
<polygon points="654.0,617.9 642.4,614.0 647.7,605.5" fill="#565656" />
<polygon points="642.4,614.0 640.0,604.0 647.7,605.5" fill="#828282" />
<polygon points="654.1,591.6 659.2,592.2 660.8,603.3" fill="#9c9c9c" />
<polygon points="659.2,592.2 668.4,611.3 660.8,603.3" fill="#909090" />
<polygon points="668.4,611.3 654.0,617.9 660.8,603.3" fill="#6a6a6a" />
<polygon points="654.0,617.9 654.1,591.6 660.8,603.3" fill="#9b9b9b" />
<polygon points="659.2,592.2 671.8,586.5 669.0,599.9" fill="#9a9a9a" />
<polygon points="671.8,586.5 675.1,602.2 669.0,599.9" fill="#737373" />
<polygon points="675.1,602.2 668.4,611.3 669.0,599.9" fill="#595959" />
<polygon points="668.4,611.3 659.2,592.2 669.0,599.9" fill="#7f7f7f" />
<polygon points="671.8,586.5 682.0,578.6 678.6,592.9" fill="#9e9e9e" />
<polygon points="682.0,578.6 687.7,603.5 678.6,592.9" fill="#737373" />
<polygon points="687.7,603.5 675.1,602.2 678.6,592.9" fill="#606060" />
<polygon points="675.1,602.2 671.8,586.5 678.6,592.9" fill="#848484" />
<polygon points="682.0,578.6 690.5,571.7 690.2,589.2" fill="#999999" />
<polygon points="690.5,571.7 698.8,591.6 690.2,589.2" fill="#7f7f7f" />
<polygon points="698.8,591.6 687.7,603.5 690.2,589.2" fill="#696969" />
<polygon points="687.7,603.5 682.0,578.6 690.2,589.2" fill="#9b9b9b" />
<polygon points="690.5,571.7 703.1,567.8 697.5,580.8" fill="#a4a4a4" />
<polygon points="703.1,567.8 706.7,587.2 697.5,580.8" fill="#808080" />
<polygon points="706.7,587.2 698.8,591.6 697.5,580.8" fill="#6c6c6c" />
<polygon points="698.8,591.6 690.5,571.7 697.5,580.8" fill="#919191" />
<polygon points="537.7,672.6 548.7,667.7 544.9,672.2" fill="#9b9b9b" />
<polygon points="548.7,667.7 547.3,686.2 544.9,672.2" fill="#7e7e7e" />
<polygon points="547.3,686.2 537.5,682.0 544.9,672.2" fill="#5c5c5c" />
<polygon points="537.5,682.0 537.7,672.6 544.9,672.2" fill="#898989" />
<polygon points="548.7,667.7 562.9,656.7 554.4,674.8" fill="#8a8a8a" />
<polygon points="562.9,656.7 554.1,681.6 554.4,674.8" fill="#696969" />
<polygon points="554.1,681.6 547.3,686.2 554.4,674.8" fill="#4e4e4e" />
<polygon points="547.3,686.2 548.7,667.7 554.4,674.8" fill="#797979" />
<polygon points="562.9,656.7 571.1,656.4 563.0,670.8" fill="#a2a2a2" />
<polygon points="571.1,656.4 567.4,669.5 563.0,670.8" fill="#818181" />
<polygon points="567.4,669.5 554.1,681.6 563.0,670.8" fill="#646464" />
<polygon points="554.1,681.6 562.9,656.7 563.0,670.8" fill="#959595" />
<polygon points="571.1,656.4 581.8,643.8 577.3,662.9" fill="#919191" />
<polygon points="581.8,643.8 580.7,671.8 577.3,662.9" fill="#7d7d7d" />
<polygon points="580.7,671.8 567.4,669.5 577.3,662.9" fill="#636363" />
<polygon points="567.4,669.5 571.1,656.4 577.3,662.9" fill="#8e8e8e" />
<polygon points="581.8,643.8 595.0,642.1 584.1,656.9" fill="#8b8b8b" />
<polygon points="595.0,642.1 587.0,661.2 584.1,656.9" fill="#7e7e7e" />
<polygon points="587.0,661.2 580.7,671.8 584.1,656.9" fill="#5b5b5b" />
<polygon points="580.7,671.8 581.8,643.8 584.1,656.9" fill="#878787" />
<polygon points="595.0,642.1 602.2,635.3 594.0,652.1" fill="#a3a3a3" />
<polygon points="602.2,635.3 599.0,656.7 594.0,652.1" fill="#858585" />
<polygon points="599.0,656.7 587.0,661.2 594.0,652.1" fill="#696969" />
<polygon points="587.0,661.2 595.0,642.1 594.0,652.1" fill="#949494" />
<polygon points="602.2,635.3 610.7,637.4 605.3,645.9" fill="#9f9f9f" />
<polygon points="610.7,637.4 607.6,656.7 605.3,645.9" fill="#858585" />
<polygon points="607.6,656.7 599.0,656.7 605.3,645.9" fill="#5d5d5d" />
<polygon points="599.0,656.7 602.2,635.3 605.3,645.9" fill="#959595" />
<polygon points="610.7,637.4 625.9,627.6 616.6,647.5" fill="#939393" />
<polygon points="625.9,627.6 621.4,650.5 616.6,647.5" fill="#767676" />
<polygon points="621.4,650.5 607.6,656.7 616.6,647.5" fill="#4e4e4e" />
<polygon points="607.6,656.7 610.7,637.4 616.6,647.5" fill="#858585" />
<polygon points="625.9,627.6 631.7,626.3 626.5,634.5" fill="#8e8e8e" />
<polygon points="631.7,626.3 632.1,645.8 626.5,634.5" fill="#777777" />
<polygon points="632.1,645.8 621.4,650.5 626.5,634.5" fill="#616161" />
<polygon points="621.4,650.5 625.9,627.6 626.5,634.5" fill="#888888" />
<polygon points="631.7,626.3 642.4,614.0 637.6,630.1" fill="#a6a6a6" />
<polygon points="642.4,614.0 640.0,638.7 637.6,630.1" fill="#898989" />
<polygon points="640.0,638.7 632.1,645.8 637.6,630.1" fill="#707070" />
<polygon points="632.1,645.8 631.7,626.3 637.6,630.1" fill="#9a9a9a" />
<polygon points="642.4,614.0 654.0,617.9 646.3,621.3" fill="#a4a4a4" />
<polygon points="654.0,617.9 650.7,630.9 646.3,621.3" fill="#7f7f7f" />
<polygon points="650.7,630.9 640.0,638.7 646.3,621.3" fill="#676767" />
<polygon points="640.0,638.7 642.4,614.0 646.3,621.3" fill="#979797" />
<polygon points="654.0,617.9 668.4,611.3 659.6,617.7" fill="#949494" />
<polygon points="668.4,611.3 659.5,630.6 659.6,617.7" fill="#777777" />
<polygon points="659.5,630.6 650.7,630.9 659.6,617.7" fill="#686868" />
<polygon points="650.7,630.9 654.0,617.9 659.6,617.7" fill="#8c8c8c" />
<polygon points="668.4,611.3 675.1,602.2 669.8,615.6" fill="#949494" />
<polygon points="675.1,602.2 674.0,619.8 669.8,615.6" fill="#797979" />
<polygon points="674.0,619.8 659.5,630.6 669.8,615.6" fill="#656565" />
<polygon points="659.5,630.6 668.4,611.3 669.8,615.6" fill="#8d8d8d" />
<polygon points="675.1,602.2 687.7,603.5 678.3,606.1" fill="#9a9a9a" />
<polygon points="687.7,603.5 680.4,615.4 678.3,606.1" fill="#7a7a7a" />
<polygon points="680.4,615.4 674.0,619.8 678.3,606.1" fill="#616161" />
<polygon points="674.0,619.8 675.1,602.2 678.3,606.1" fill="#8f8f8f" />
<polygon points="687.7,603.5 698.8,591.6 688.3,606.5" fill="#979797" />
<polygon points="698.8,591.6 693.8,608.3 688.3,606.5" fill="#707070" />
<polygon points="693.8,608.3 680.4,615.4 688.3,606.5" fill="#555555" />
<polygon points="680.4,615.4 687.7,603.5 688.3,606.5" fill="#8d8d8d" />
<polygon points="698.8,591.6 706.7,587.2 700.8,595.6" fill="#a5a5a5" />
<polygon points="706.7,587.2 706.9,606.3 700.8,595.6" fill="#8f8f8f" />
<polygon points="706.9,606.3 693.8,608.3 700.8,595.6" fill="#686868" />
<polygon points="693.8,608.3 698.8,591.6 700.8,595.6" fill="#959595" />
<polygon points="537.5,682.0 547.3,686.2 546.2,694.3" fill="#989898" />
<polygon points="547.3,686.2 548.0,698.7 546.2,694.3" fill="#888888" />
<polygon points="548.0,698.7 542.9,709.8 546.2,694.3" fill="#5e5e5e" />
<polygon points="542.9,709.8 537.5,682.0 546.2,694.3" fill="#909090" />
<polygon points="547.3,686.2 554.1,681.6 550.1,686.4" fill="#9c9c9c" />
<polygon points="554.1,681.6 561.0,692.1 550.1,686.4" fill="#878787" />
<polygon points="561.0,692.1 548.0,698.7 550.1,686.4" fill="#5f5f5f" />
<polygon points="548.0,698.7 547.3,686.2 550.1,686.4" fill="#8b8b8b" />
<polygon points="554.1,681.6 567.4,669.5 561.4,684.6" fill="#9b9b9b" />
<polygon points="567.4,669.5 571.2,693.3 561.4,684.6" fill="#7c7c7c" />
<polygon points="571.2,693.3 561.0,692.1 561.4,684.6" fill="#696969" />
<polygon points="561.0,692.1 554.1,681.6 561.4,684.6" fill="#959595" />
<polygon points="567.4,669.5 580.7,671.8 576.0,675.3" fill="#959595" />
<polygon points="580.7,671.8 581.5,683.6 576.0,675.3" fill="#838383" />
<polygon points="581.5,683.6 571.2,693.3 576.0,675.3" fill="#5a5a5a" />
<polygon points="571.2,693.3 567.4,669.5 576.0,675.3" fill="#8b8b8b" />
<polygon points="580.7,671.8 587.0,661.2 586.4,673.5" fill="#979797" />
<polygon points="587.0,661.2 593.5,682.5 586.4,673.5" fill="#808080" />
<polygon points="593.5,682.5 581.5,683.6 586.4,673.5" fill="#5b5b5b" />
<polygon points="581.5,683.6 580.7,671.8 586.4,673.5" fill="#838383" />
<polygon points="587.0,661.2 599.0,656.7 598.5,665.4" fill="#9d9d9d" />
<polygon points="599.0,656.7 605.1,678.9 598.5,665.4" fill="#7f7f7f" />
<polygon points="605.1,678.9 593.5,682.5 598.5,665.4" fill="#606060" />
<polygon points="593.5,682.5 587.0,661.2 598.5,665.4" fill="#919191" />
<polygon points="599.0,656.7 607.6,656.7 607.7,668.6" fill="#919191" />
<polygon points="607.6,656.7 611.2,673.1 607.7,668.6" fill="#797979" />
<polygon points="611.2,673.1 605.1,678.9 607.7,668.6" fill="#595959" />
<polygon points="605.1,678.9 599.0,656.7 607.7,668.6" fill="#949494" />
<polygon points="607.6,656.7 621.4,650.5 617.7,659.0" fill="#969696" />
<polygon points="621.4,650.5 622.8,669.9 617.7,659.0" fill="#707070" />
<polygon points="622.8,669.9 611.2,673.1 617.7,659.0" fill="#5a5a5a" />
<polygon points="611.2,673.1 607.6,656.7 617.7,659.0" fill="#8c8c8c" />
<polygon points="621.4,650.5 632.1,645.8 628.2,654.9" fill="#959595" />
<polygon points="632.1,645.8 633.7,662.3 628.2,654.9" fill="#7e7e7e" />
<polygon points="633.7,662.3 622.8,669.9 628.2,654.9" fill="#5e5e5e" />
<polygon points="622.8,669.9 621.4,650.5 628.2,654.9" fill="#949494" />
<polygon points="632.1,645.8 640.0,638.7 638.0,654.5" fill="#9d9d9d" />
<polygon points="640.0,638.7 643.2,659.0 638.0,654.5" fill="#8c8c8c" />
<polygon points="643.2,659.0 633.7,662.3 638.0,654.5" fill="#6a6a6a" />
<polygon points="633.7,662.3 632.1,645.8 638.0,654.5" fill="#959595" />
<polygon points="640.0,638.7 650.7,630.9 645.8,641.1" fill="#a2a2a2" />
<polygon points="650.7,630.9 654.0,649.2 645.8,641.1" fill="#878787" />
<polygon points="654.0,649.2 643.2,659.0 645.8,641.1" fill="#616161" />
<polygon points="643.2,659.0 640.0,638.7 645.8,641.1" fill="#888888" />
<polygon points="650.7,630.9 659.5,630.6 658.2,642.3" fill="#999999" />
<polygon points="659.5,630.6 668.3,643.3 658.2,642.3" fill="#727272" />
<polygon points="668.3,643.3 654.0,649.2 658.2,642.3" fill="#585858" />
<polygon points="654.0,649.2 650.7,630.9 658.2,642.3" fill="#7e7e7e" />
<polygon points="659.5,630.6 674.0,619.8 668.3,632.9" fill="#acacac" />
<polygon points="674.0,619.8 675.5,642.6 668.3,632.9" fill="#838383" />
<polygon points="675.5,642.6 668.3,643.3 668.3,632.9" fill="#686868" />
<polygon points="668.3,643.3 659.5,630.6 668.3,632.9" fill="#a0a0a0" />
<polygon points="674.0,619.8 680.4,615.4 678.4,626.6" fill="#949494" />
<polygon points="680.4,615.4 690.0,635.9 678.4,626.6" fill="#797979" />
<polygon points="690.0,635.9 675.5,642.6 678.4,626.6" fill="#5f5f5f" />
<polygon points="675.5,642.6 674.0,619.8 678.4,626.6" fill="#8a8a8a" />
<polygon points="680.4,615.4 693.8,608.3 692.3,620.6" fill="#9c9c9c" />
<polygon points="693.8,608.3 695.9,632.0 692.3,620.6" fill="#797979" />
<polygon points="695.9,632.0 690.0,635.9 692.3,620.6" fill="#636363" />
<polygon points="690.0,635.9 680.4,615.4 692.3,620.6" fill="#8a8a8a" />
<polygon points="693.8,608.3 706.9,606.3 702.8,617.3" fill="#999999" />
<polygon points="706.9,606.3 708.9,630.1 702.8,617.3" fill="#787878" />
<polygon points="708.9,630.1 695.9,632.0 702.8,617.3" fill="#5d5d5d" />
<polygon points="695.9,632.0 693.8,608.3 702.8,617.3" fill="#8a8a8a" />
<polygon points="542.9,709.8 548.0,698.7 544.5,712.3" fill="#979797" />
<polygon points="548.0,698.7 548.4,719.8 544.5,712.3" fill="#757575" />
<polygon points="548.4,719.8 533.6,729.9 544.5,712.3" fill="#545454" />
<polygon points="533.6,729.9 542.9,709.8 544.5,712.3" fill="#858585" />
<polygon points="548.0,698.7 561.0,692.1 553.0,710.0" fill="#909090" />
<polygon points="561.0,692.1 559.5,718.5 553.0,710.0" fill="#707070" />
<polygon points="559.5,718.5 548.4,719.8 553.0,710.0" fill="#4f4f4f" />
<polygon points="548.4,719.8 548.0,698.7 553.0,710.0" fill="#858585" />
<polygon points="561.0,692.1 571.2,693.3 563.3,699.8" fill="#8c8c8c" />
<polygon points="571.2,693.3 566.3,705.6 563.3,699.8" fill="#747474" />
<polygon points="566.3,705.6 559.5,718.5 563.3,699.8" fill="#555555" />
<polygon points="559.5,718.5 561.0,692.1 563.3,699.8" fill="#7b7b7b" />
<polygon points="571.2,693.3 581.5,683.6 575.3,692.1" fill="#929292" />
<polygon points="581.5,683.6 576.1,701.5 575.3,692.1" fill="#7d7d7d" />
<polygon points="576.1,701.5 566.3,705.6 575.3,692.1" fill="#595959" />
<polygon points="566.3,705.6 571.2,693.3 575.3,692.1" fill="#858585" />
<polygon points="581.5,683.6 593.5,682.5 586.4,692.1" fill="#a0a0a0" />
<polygon points="593.5,682.5 589.0,705.1 586.4,692.1" fill="#7d7d7d" />
<polygon points="589.0,705.1 576.1,701.5 586.4,692.1" fill="#616161" />
<polygon points="576.1,701.5 581.5,683.6 586.4,692.1" fill="#949494" />
<polygon points="593.5,682.5 605.1,678.9 595.7,688.4" fill="#9b9b9b" />
<polygon points="605.1,678.9 598.2,699.7 595.7,688.4" fill="#7f7f7f" />
<polygon points="598.2,699.7 589.0,705.1 595.7,688.4" fill="#656565" />
<polygon points="589.0,705.1 593.5,682.5 595.7,688.4" fill="#959595" />
<polygon points="605.1,678.9 611.2,673.1 604.1,684.8" fill="#898989" />
<polygon points="611.2,673.1 609.2,694.1 604.1,684.8" fill="#6f6f6f" />
<polygon points="609.2,694.1 598.2,699.7 604.1,684.8" fill="#585858" />
<polygon points="598.2,699.7 605.1,678.9 604.1,684.8" fill="#808080" />
<polygon points="611.2,673.1 622.8,669.9 616.6,679.1" fill="#919191" />
<polygon points="622.8,669.9 621.7,683.1 616.6,679.1" fill="#808080" />
<polygon points="621.7,683.1 609.2,694.1 616.6,679.1" fill="#616161" />
<polygon points="609.2,694.1 611.2,673.1 616.6,679.1" fill="#8e8e8e" />
<polygon points="622.8,669.9 633.7,662.3 624.8,676.8" fill="#999999" />
<polygon points="633.7,662.3 628.1,685.0 624.8,676.8" fill="#858585" />
<polygon points="628.1,685.0 621.7,683.1 624.8,676.8" fill="#676767" />
<polygon points="621.7,683.1 622.8,669.9 624.8,676.8" fill="#8f8f8f" />
<polygon points="633.7,662.3 643.2,659.0 638.3,672.2" fill="#9d9d9d" />
<polygon points="643.2,659.0 641.7,676.6 638.3,672.2" fill="#8b8b8b" />
<polygon points="641.7,676.6 628.1,685.0 638.3,672.2" fill="#6e6e6e" />
<polygon points="628.1,685.0 633.7,662.3 638.3,672.2" fill="#979797" />
<polygon points="643.2,659.0 654.0,649.2 646.3,658.9" fill="#a3a3a3" />
<polygon points="654.0,649.2 650.7,667.9 646.3,658.9" fill="#7d7d7d" />
<polygon points="650.7,667.9 641.7,676.6 646.3,658.9" fill="#5f5f5f" />
<polygon points="641.7,676.6 643.2,659.0 646.3,658.9" fill="#8a8a8a" />
<polygon points="654.0,649.2 668.3,643.3 656.3,657.4" fill="#aaaaaa" />
<polygon points="668.3,643.3 660.2,662.2 656.3,657.4" fill="#868686" />
<polygon points="660.2,662.2 650.7,667.9 656.3,657.4" fill="#707070" />
<polygon points="650.7,667.9 654.0,649.2 656.3,657.4" fill="#8e8e8e" />
<polygon points="668.3,643.3 675.5,642.6 671.0,649.9" fill="#949494" />
<polygon points="675.5,642.6 673.1,658.4 671.0,649.9" fill="#6e6e6e" />
<polygon points="673.1,658.4 660.2,662.2 671.0,649.9" fill="#555555" />
<polygon points="660.2,662.2 668.3,643.3 671.0,649.9" fill="#7b7b7b" />
<polygon points="675.5,642.6 690.0,635.9 679.7,649.1" fill="#9a9a9a" />
<polygon points="690.0,635.9 681.2,657.4 679.7,649.1" fill="#8c8c8c" />
<polygon points="681.2,657.4 673.1,658.4 679.7,649.1" fill="#626262" />
<polygon points="673.1,658.4 675.5,642.6 679.7,649.1" fill="#8e8e8e" />
<polygon points="690.0,635.9 695.9,632.0 690.5,641.3" fill="#999999" />
<polygon points="695.9,632.0 692.5,646.1 690.5,641.3" fill="#767676" />
<polygon points="692.5,646.1 681.2,657.4 690.5,641.3" fill="#646464" />
<polygon points="681.2,657.4 690.0,635.9 690.5,641.3" fill="#848484" />
<polygon points="695.9,632.0 708.9,630.1 701.5,642.1" fill="#959595" />
<polygon points="708.9,630.1 702.1,647.8 701.5,642.1" fill="#868686" />
<polygon points="702.1,647.8 692.5,646.1 701.5,642.1" fill="#5b5b5b" />
<polygon points="692.5,646.1 695.9,632.0 701.5,642.1" fill="#8e8e8e" />
<polygon points="533.6,729.9 548.4,719.8 542.4,729.1" fill="#9a9a9a" />
<polygon points="548.4,719.8 550.8,742.0 542.4,729.1" fill="#7c7c7c" />
<polygon points="550.8,742.0 538.2,742.1 542.4,729.1" fill="#5b5b5b" />
<polygon points="538.2,742.1 533.6,729.9 542.4,729.1" fill="#888888" />
<polygon points="548.4,719.8 559.5,718.5 554.8,724.8" fill="#a3a3a3" />
<polygon points="559.5,718.5 558.6,729.8 554.8,724.8" fill="#858585" />
<polygon points="558.6,729.8 550.8,742.0 554.8,724.8" fill="#6a6a6a" />
<polygon points="550.8,742.0 548.4,719.8 554.8,724.8" fill="#898989" />
<polygon points="559.5,718.5 566.3,705.6 566.5,716.2" fill="#8d8d8d" />
<polygon points="566.3,705.6 571.8,728.1 566.5,716.2" fill="#767676" />
<polygon points="571.8,728.1 558.6,729.8 566.5,716.2" fill="#5d5d5d" />
<polygon points="558.6,729.8 559.5,718.5 566.5,716.2" fill="#898989" />
<polygon points="566.3,705.6 576.1,701.5 573.2,713.6" fill="#8c8c8c" />
<polygon points="576.1,701.5 579.5,725.7 573.2,713.6" fill="#6d6d6d" />
<polygon points="579.5,725.7 571.8,728.1 573.2,713.6" fill="#4f4f4f" />
<polygon points="571.8,728.1 566.3,705.6 573.2,713.6" fill="#848484" />
<polygon points="576.1,701.5 589.0,705.1 584.7,711.4" fill="#919191" />
<polygon points="589.0,705.1 593.7,716.0 584.7,711.4" fill="#6b6b6b" />
<polygon points="593.7,716.0 579.5,725.7 584.7,711.4" fill="#505050" />
<polygon points="579.5,725.7 576.1,701.5 584.7,711.4" fill="#818181" />
<polygon points="589.0,705.1 598.2,699.7 596.7,713.3" fill="#a0a0a0" />
<polygon points="598.2,699.7 601.7,713.5 596.7,713.3" fill="#858585" />
<polygon points="601.7,713.5 593.7,716.0 596.7,713.3" fill="#636363" />
<polygon points="593.7,716.0 589.0,705.1 596.7,713.3" fill="#8f8f8f" />
<polygon points="598.2,699.7 609.2,694.1 604.2,700.8" fill="#909090" />
<polygon points="609.2,694.1 616.2,707.5 604.2,700.8" fill="#727272" />
<polygon points="616.2,707.5 601.7,713.5 604.2,700.8" fill="#535353" />
<polygon points="601.7,713.5 598.2,699.7 604.2,700.8" fill="#777777" />
<polygon points="609.2,694.1 621.7,683.1 617.1,693.5" fill="#9e9e9e" />
<polygon points="621.7,683.1 624.4,702.6 617.1,693.5" fill="#767676" />
<polygon points="624.4,702.6 616.2,707.5 617.1,693.5" fill="#555555" />
<polygon points="616.2,707.5 609.2,694.1 617.1,693.5" fill="#828282" />
<polygon points="621.7,683.1 628.1,685.0 626.3,696.2" fill="#999999" />
<polygon points="628.1,685.0 634.0,698.2 626.3,696.2" fill="#767676" />
<polygon points="634.0,698.2 624.4,702.6 626.3,696.2" fill="#5a5a5a" />
<polygon points="624.4,702.6 621.7,683.1 626.3,696.2" fill="#858585" />
<polygon points="628.1,685.0 641.7,676.6 639.3,689.2" fill="#acacac" />
<polygon points="641.7,676.6 648.0,698.3 639.3,689.2" fill="#8f8f8f" />
<polygon points="648.0,698.3 634.0,698.2 639.3,689.2" fill="#6c6c6c" />
<polygon points="634.0,698.2 628.1,685.0 639.3,689.2" fill="#9e9e9e" />
<polygon points="641.7,676.6 650.7,667.9 646.7,678.9" fill="#9d9d9d" />
<polygon points="650.7,667.9 653.7,688.4 646.7,678.9" fill="#7b7b7b" />
<polygon points="653.7,688.4 648.0,698.3 646.7,678.9" fill="#5f5f5f" />
<polygon points="648.0,698.3 641.7,676.6 646.7,678.9" fill="#858585" />
<polygon points="650.7,667.9 660.2,662.2 659.3,678.5" fill="#acacac" />
<polygon points="660.2,662.2 664.2,687.1 659.3,678.5" fill="#878787" />
<polygon points="664.2,687.1 653.7,688.4 659.3,678.5" fill="#707070" />
<polygon points="653.7,688.4 650.7,667.9 659.3,678.5" fill="#949494" />
<polygon points="660.2,662.2 673.1,658.4 670.7,674.1" fill="#8c8c8c" />
<polygon points="673.1,658.4 678.9,674.9 670.7,674.1" fill="#727272" />
<polygon points="678.9,674.9 664.2,687.1 670.7,674.1" fill="#5d5d5d" />
<polygon points="664.2,687.1 660.2,662.2 670.7,674.1" fill="#848484" />
<polygon points="673.1,658.4 681.2,657.4 678.1,669.5" fill="#a1a1a1" />
<polygon points="681.2,657.4 688.9,674.1 678.1,669.5" fill="#7c7c7c" />
<polygon points="688.9,674.1 678.9,674.9 678.1,669.5" fill="#6f6f6f" />
<polygon points="678.9,674.9 673.1,658.4 678.1,669.5" fill="#949494" />
<polygon points="681.2,657.4 692.5,646.1 688.5,659.9" fill="#a4a4a4" />
<polygon points="692.5,646.1 699.8,669.0 688.5,659.9" fill="#828282" />
<polygon points="699.8,669.0 688.9,674.1 688.5,659.9" fill="#686868" />
<polygon points="688.9,674.1 681.2,657.4 688.5,659.9" fill="#8a8a8a" />
<polygon points="692.5,646.1 702.1,647.8 698.8,661.0" fill="#939393" />
<polygon points="702.1,647.8 706.0,664.6 698.8,661.0" fill="#7f7f7f" />
<polygon points="706.0,664.6 699.8,669.0 698.8,661.0" fill="#595959" />
<polygon points="699.8,669.0 692.5,646.1 698.8,661.0" fill="#858585" />
</g>
<polygon points="668.0,284.0 676.0,280.0 680.0,279.0 679.5,285.0 678.4,291.5 676.5,306.0 672.0,311.0 669.0,304.0 672.0,296.0 670.0,290.0" fill="#4c4c4c" />
<circle cx="673.5" cy="290" r="2.6" fill="#6a6a6a"/>
<polygon points="629.7,339.0 636.0,336.0 636.0,560.0 633.0,556.0 629.7,556.0" fill="#414141" />
<polyline points="633.5,556.0 633.5,613.0" fill="none" stroke="#3c3c3c" stroke-width="1.4" />
<polygon points="556.0,374.0 560.0,372.0 629.7,337.8 629.7,352.0 614.0,367.5 562.5,394.0 556.0,397.0" fill="#6f6f6f" />
<polyline points="561.0,393.8 614.5,366.5" fill="none" stroke="#8c8c8c" stroke-width="2" />
<polyline points="561.0,372.2 629.7,338.4" fill="none" stroke="#858585" stroke-width="1.2" />
<polygon points="548.4,367.5 556.2,363.5 561.5,367.5 556.2,373.5" fill="#6a6a6a" />
<polygon points="614.0,367.5 629.7,345.0 629.7,531.0 614.0,518.0" fill="url(#gFr)" />
<polygon points="562.5,394.0 609.0,370.0 609.0,519.0 587.5,527.0 562.5,537.8" fill="#2f2f2f" />
<polygon points="609.0,370.0 614.0,367.5 614.0,518.0 609.0,519.0" fill="#4a4a4a" />
<polygon points="562.5,537.8 587.5,527.0 612.5,517.5 629.7,530.0 585.0,548.0" fill="#4f4f4f" />
<polygon points="557.5,544.0 613.0,518.5 633.0,530.0 633.0,537.5 562.0,567.5 557.5,566.0" fill="#5e5e5e" />
<polyline points="558.0,544.0 613.0,518.8 633.0,530.2" fill="none" stroke="#7a7a7a" stroke-width="1" />
<polygon points="559.0,590.8 633.0,554.3 633.0,614.0 578.0,642.0 559.0,647.6" fill="#6d6d6d" />
<polyline points="559.5,590.8 633.0,554.6" fill="none" stroke="#8a8a8a" stroke-width="1.3" />
<polygon points="559.0,600.0 566.0,597.0 575.0,606.0 578.0,620.0 576.0,634.0 568.0,644.0 559.0,647.6" fill="#8c8c8c" />
<polygon points="562.0,616.0 572.0,612.0 576.0,622.0 574.0,632.0 563.0,634.0" fill="#2e2e2e" />
<polygon points="559.0,628.0 566.0,630.0 570.0,640.0 566.0,646.0 559.0,647.6" fill="#7c7c7c" />
<polygon points="555.8,269.7 561.3,269.7 562.5,540.0 563.5,672.0 564.5,679.5 557.0,679.5 556.0,600.0" fill="#3e3e3e" />
<polygon points="556.0,397.0 562.5,394.0 562.5,540.0 557.5,544.0" fill="#4a4a4a" />
<polygon points="557.5,566.0 562.0,567.5 562.0,590.0 559.0,591.0" fill="#4a4a4a" />
<polygon points="556.2,647.0 561.5,646.0 563.5,672.0 564.5,679.5 557.0,679.5 556.4,660.0" fill="#383838" />
<circle cx="567" cy="676" r="3" fill="#444"/>
<polyline points="563.0,675.5 568.7,672.3 668.3,622.3" fill="none" stroke="#3a3a3a" stroke-width="3" />
<polygon points="561.2,333.5 561.2,270.5 572.0,269.7 576.0,266.0 581.5,262.0 591.0,258.0 602.0,255.6 617.5,257.0 631.5,263.4 648.7,273.6 660.0,274.3 666.0,271.3 667.5,265.0 672.0,262.7 676.5,264.0 678.6,268.0 678.6,273.0 681.0,276.5 680.6,278.0" fill="#444444" />
<path d="M565 300 C567 282 576 268 590 261 C602 256 618 257 632 265 C640 270 647 274 654 275.5 C662 277 668 275 672 271" fill="none" stroke="#5a5a5a" stroke-width="6.4" stroke-linecap="round"/>
<path d="M564 298 C566 280 575 266 589.5 259 C601.5 254 618 255 632 263" fill="none" stroke="#7e7e7e" stroke-width="1.6" />
<circle cx="672.5" cy="267.3" r="5.6" fill="#595959"/>
<circle cx="671.3" cy="265.8" r="2.8" fill="#7a7a7a"/>
<circle cx="566.5" cy="277.5" r="6" fill="#636363"/>
<circle cx="567.1" cy="278.1" r="3.4799999999999995" fill="none" stroke="#484848" stroke-width="1.2000000000000002"/>
<circle cx="566.0" cy="277.0" r="1.56" fill="#787878"/>
<circle cx="585" cy="291" r="9" fill="#636363"/>
<circle cx="585.6" cy="291.6" r="5.22" fill="none" stroke="#484848" stroke-width="1.8"/>
<circle cx="584.5" cy="290.5" r="2.34" fill="#787878"/>
<circle cx="564.5" cy="297.5" r="5" fill="#636363"/>
<circle cx="565.1" cy="298.1" r="2.9" fill="none" stroke="#484848" stroke-width="1.2"/>
<circle cx="564.0" cy="297.0" r="1.3" fill="#787878"/>
<circle cx="570" cy="316" r="8.5" fill="#636363"/>
<circle cx="570.6" cy="316.6" r="4.93" fill="none" stroke="#484848" stroke-width="1.7000000000000002"/>
<circle cx="569.5" cy="315.5" r="2.21" fill="#787878"/>
<circle cx="619" cy="269" r="3.6" fill="#636363"/>
<circle cx="619.6" cy="269.6" r="2.088" fill="none" stroke="#484848" stroke-width="1.2"/>
<circle cx="618.5" cy="268.5" r="0.936" fill="#787878"/>
<polygon points="596.0,290.0 594.5,280.0 597.0,272.0 600.0,278.0 603.0,284.0 606.0,287.0 601.0,291.0" fill="#6a6a6a" />
<polygon points="594.0,314.0 598.0,300.0 606.0,290.0 618.0,284.0 628.0,276.0 640.0,272.0 652.0,270.0 662.0,272.0 665.0,277.0 656.0,284.0 640.0,291.0 622.0,300.0 606.0,308.0" fill="#5f5f5f" />
<path d="M598.0 309.0 Q599.0 297.0 609.0 290.0" fill="none" stroke="#6e6e6e" stroke-width="4.6" stroke-linecap="round"/>
<path d="M597.0 308.0 Q598.0 297.0 607.0 290.0" fill="none" stroke="#848484" stroke-width="1.2" stroke-linecap="round"/>
<path d="M606.6 304.6 Q607.6 293.6 617.2 287.4" fill="none" stroke="#6e6e6e" stroke-width="4.6" stroke-linecap="round"/>
<path d="M605.6 303.6 Q606.6 293.6 615.2 287.4" fill="none" stroke="#848484" stroke-width="1.2" stroke-linecap="round"/>
<path d="M615.2 300.2 Q616.2 290.2 625.4 284.8" fill="none" stroke="#6e6e6e" stroke-width="4.6" stroke-linecap="round"/>
<path d="M614.2 299.2 Q615.2 290.2 623.4 284.8" fill="none" stroke="#848484" stroke-width="1.2" stroke-linecap="round"/>
<path d="M623.8 295.8 Q624.8 286.8 633.6 282.2" fill="none" stroke="#6e6e6e" stroke-width="4.6" stroke-linecap="round"/>
<path d="M622.8 294.8 Q623.8 286.8 631.6 282.2" fill="none" stroke="#848484" stroke-width="1.2" stroke-linecap="round"/>
<path d="M632.4 291.4 Q633.4 283.4 641.8 279.6" fill="none" stroke="#6e6e6e" stroke-width="4.6" stroke-linecap="round"/>
<path d="M631.4 290.4 Q632.4 283.4 639.8 279.6" fill="none" stroke="#848484" stroke-width="1.2" stroke-linecap="round"/>
<path d="M641.0 287.0 Q642.0 280.0 650.0 277.0" fill="none" stroke="#6e6e6e" stroke-width="4.6" stroke-linecap="round"/>
<path d="M640.0 286.0 Q641.0 280.0 648.0 277.0" fill="none" stroke="#848484" stroke-width="1.2" stroke-linecap="round"/>
<path d="M649.6 282.6 Q650.6 276.6 658.2 274.4" fill="none" stroke="#6e6e6e" stroke-width="4.6" stroke-linecap="round"/>
<path d="M648.6 281.6 Q649.6 276.6 656.2 274.4" fill="none" stroke="#848484" stroke-width="1.2" stroke-linecap="round"/>
<path d="M574 326 Q588 318 598 298" fill="none" stroke="#6a6a6a" stroke-width="2.2" />
<polyline points="554.8,336.0 681.0,276.2" fill="none" stroke="#8a8a8a" stroke-width="4.3" stroke-linecap="round"/>
<polyline points="554.8,335.0 681.0,275.2" fill="none" stroke="#a6a6a6" stroke-width="1.3" stroke-linecap="round"/>
<path d="M566 400 C577 397 581 406 580 422 C578 452 569 480 567 508" fill="none" stroke="#6a6a6a" stroke-width="6.5" stroke-linecap="round"/>
<path d="M566 400 C577 397 580 406 579 422 C577 452 568 480 566 508" fill="none" stroke="#858585" stroke-width="1.5" stroke-linecap="round"/>
<path d="M564 398 C558 404 559 414 567 413" fill="none" stroke="#757575" stroke-width="4" />
<path d="M575 445 C580 424 590 410 604 399" fill="none" stroke="#6e6e6e" stroke-width="5" stroke-linecap="round"/>
<path d="M575 444 C580 423 590 409 603 398" fill="none" stroke="#8a8a8a" stroke-width="1.3" stroke-linecap="round"/>
<path d="M569 492 C575 468 588 455 604 457 C612 460 612 474 603 477" fill="none" stroke="#6c6c6c" stroke-width="5" stroke-linecap="round"/>
<path d="M569 491 C575 467 588 454 604 456" fill="none" stroke="#8a8a8a" stroke-width="1.3" stroke-linecap="round"/>
<circle cx="602" cy="471" r="6.5" fill="#626262"/>
<circle cx="601" cy="470" r="2.5" fill="#7c7c7c"/>
<circle cx="602" cy="428" r="7" fill="#5e5e5e" stroke="#707070" stroke-width="3.4"/>
<circle cx="602" cy="428" r="2.2" fill="#858585"/>
<polygon points="597.0,394.0 606.0,389.0 612.0,395.0 604.0,403.0 598.0,401.0" fill="#757575" />
<circle cx="573" cy="516" r="9" fill="#5a5a5a" stroke="#707070" stroke-width="5"/>
<circle cx="573" cy="516" r="3" fill="#858585"/>
<ellipse cx="618" cy="352" rx="5.5" ry="2.6" fill="#5a5a5a" transform="rotate(-35 618 352)"/>
<ellipse cx="624.5" cy="349" rx="2.6" ry="5.5" fill="#585858" transform="rotate(10 624.5 349)"/>
<ellipse cx="622" cy="360" rx="2.4" ry="6" fill="#5a5a5a" transform="rotate(8 622 360)"/>
<ellipse cx="621.5" cy="372" rx="2.2" ry="5" fill="#606060" transform="rotate(-12 621.5 372)"/>
<ellipse cx="606" cy="364" rx="6" ry="2.2" fill="#5c5c5c" transform="rotate(-25 606 364)"/>
<ellipse cx="621" cy="490" rx="2.6" ry="8" fill="#5c5c5c" transform="rotate(12 621 490)"/>
<ellipse cx="623.5" cy="503" rx="2.4" ry="6" fill="#5a5a5a" transform="rotate(-8 623.5 503)"/>
<ellipse cx="616" cy="515" rx="6" ry="2.4" fill="#5e5e5e" transform="rotate(-30 616 515)"/>
<ellipse cx="602" cy="523" rx="7" ry="2.2" fill="#6a6a6a" transform="rotate(-22 602 523)"/>
<path d="M578 547 q10 -8 22 -9" fill="none" stroke="#747474" stroke-width="1.6" />
<path d="M593.8 598.0 L593.0 575.0" fill="none" stroke="#8c8c8c" stroke-width="4.2" stroke-linecap="round"/>
<path d="M595.1 598.1 L600.7 575.7" fill="none" stroke="#7a7a7a" stroke-width="4.2" stroke-linecap="round"/>
<path d="M596.3 598.6 L608.1 578.0" fill="none" stroke="#8c8c8c" stroke-width="4.2" stroke-linecap="round"/>
<path d="M597.4 599.3 L614.5 582.0" fill="none" stroke="#7a7a7a" stroke-width="4.2" stroke-linecap="round"/>
<path d="M598.2 600.4 L619.4 587.2" fill="none" stroke="#8c8c8c" stroke-width="4.2" stroke-linecap="round"/>
<path d="M598.8 601.5 L622.7 593.4" fill="none" stroke="#7a7a7a" stroke-width="4.2" stroke-linecap="round"/>
<path d="M599.0 602.8 L624.0 600.1" fill="none" stroke="#8c8c8c" stroke-width="4.2" stroke-linecap="round"/>
<circle cx="587" cy="597" r="6.5" fill="none" stroke="#8a8a8a" stroke-width="3.2"/>
<circle cx="587" cy="597" r="2.2" fill="#5a5a5a"/>
<path d="M588 618 q14 6 30 -10" fill="none" stroke="#505050" stroke-width="4.5" stroke-linecap="round"/>
<path d="M592 626 q12 2 20 -6" fill="none" stroke="#8a8a8a" stroke-width="3" stroke-linecap="round"/>
<line x1="135.8" y1="55.2" x2="206.5" y2="66.4" stroke="#f00000" stroke-width="1.05"/>
<polygon points="214.7,67.7 204.9,70.1 206.1,62.4" fill="#f00000" />
<line x1="530.0" y1="52.5" x2="396.2" y2="67.8" stroke="#f00000" stroke-width="1.05"/>
<polygon points="388.0,68.7 396.8,63.8 397.7,71.5" fill="#f00000" />
<line x1="540.0" y1="132.0" x2="406.9" y2="147.3" stroke="#f00000" stroke-width="1.05"/>
<polygon points="398.7,148.2 407.5,143.3 408.4,151.0" fill="#f00000" />
<line x1="152.0" y1="143.7" x2="281.4" y2="174.3" stroke="#f00000" stroke-width="1.05"/>
<polygon points="289.5,176.2 279.6,177.9 281.3,170.3" fill="#f00000" />
<line x1="507.5" y1="183.5" x2="430.7" y2="244.3" stroke="#f00000" stroke-width="1.05"/>
<polygon points="424.2,249.5 429.1,240.7 433.9,246.8" fill="#f00000" />
<line x1="157.0" y1="203.7" x2="304.5" y2="244.0" stroke="#f00000" stroke-width="1.05"/>
<polygon points="312.5,246.2 302.5,247.5 304.6,240.0" fill="#f00000" />
<line x1="495.0" y1="231.2" x2="436.7" y2="329.1" stroke="#f00000" stroke-width="1.05"/>
<polygon points="432.5,336.2 433.9,326.2 440.6,330.2" fill="#f00000" />
<line x1="135.5" y1="244.5" x2="212.9" y2="251.3" stroke="#f00000" stroke-width="1.05"/>
<polygon points="221.2,252.0 211.6,255.1 212.3,247.3" fill="#f00000" />
<line x1="545.7" y1="270.5" x2="512.9" y2="356.6" stroke="#f00000" stroke-width="1.05"/>
<polygon points="510.0,364.4 509.7,354.3 517.0,357.1" fill="#f00000" />
<line x1="167.5" y1="287.0" x2="297.9" y2="293.3" stroke="#f00000" stroke-width="1.05"/>
<polygon points="306.2,293.7 296.7,297.1 297.1,289.4" fill="#f00000" />
<line x1="737.0" y1="297.0" x2="649.4" y2="310.4" stroke="#f00000" stroke-width="1.05"/>
<polygon points="641.2,311.7 649.8,306.4 651.0,314.1" fill="#f00000" />
<line x1="176.7" y1="386.2" x2="250.5" y2="397.9" stroke="#f00000" stroke-width="1.05"/>
<polygon points="258.7,399.2 248.9,401.6 250.1,393.9" fill="#f00000" />
<line x1="723.7" y1="423.7" x2="590.8" y2="437.8" stroke="#f00000" stroke-width="1.05"/>
<polygon points="582.5,438.7 591.3,433.8 592.2,441.6" fill="#f00000" />
<line x1="732.5" y1="489.5" x2="621.4" y2="565.3" stroke="#f00000" stroke-width="1.05"/>
<polygon points="614.5,570.0 620.0,561.5 624.4,568.0" fill="#f00000" />
<line x1="188.0" y1="488.0" x2="259.8" y2="499.2" stroke="#f00000" stroke-width="1.05"/>
<polygon points="268.0,500.5 258.2,502.9 259.4,495.2" fill="#f00000" />
<line x1="743.5" y1="544.5" x2="579.5" y2="619.5" stroke="#f00000" stroke-width="1.05"/>
<polygon points="572.0,623.0 578.8,615.6 582.1,622.7" fill="#f00000" />
<line x1="184.5" y1="545.5" x2="358.8" y2="565.3" stroke="#f00000" stroke-width="1.05"/>
<polygon points="367.0,566.2 357.3,569.0 358.2,561.3" fill="#f00000" />
<ellipse cx="115.1" cy="50.9" rx="20.7" ry="18.8" fill="#fff" stroke="#c8242a" stroke-width="0.95"/>
<text x="114.6" y="57.2" font-family="Liberation Sans, sans-serif" font-size="19.6" text-anchor="middle" fill="#000">5</text>
<ellipse cx="563.6" cy="46.2" rx="34.4" ry="18.8" fill="#fff" stroke="#c8242a" stroke-width="0.95"/>
<text x="563.1" y="52.5" font-family="Liberation Sans, sans-serif" font-size="19.6" text-anchor="middle" fill="#000">12</text>
<ellipse cx="559.7" cy="126.2" rx="20.3" ry="18.8" fill="#fff" stroke="#c8242a" stroke-width="0.95"/>
<text x="559.2" y="132.5" font-family="Liberation Sans, sans-serif" font-size="19.6" text-anchor="middle" fill="#000">2</text>
<ellipse cx="115.0" cy="138.2" rx="37.0" ry="18.8" fill="#fff" stroke="#c8242a" stroke-width="0.95"/>
<text x="114.5" y="144.5" font-family="Liberation Sans, sans-serif" font-size="19.6" text-anchor="middle" fill="#000">13</text>
<ellipse cx="520.2" cy="165.7" rx="32.3" ry="18.8" fill="#fff" stroke="#c8242a" stroke-width="0.95"/>
<text x="519.7" y="172.0" font-family="Liberation Sans, sans-serif" font-size="19.6" text-anchor="middle" fill="#000">17</text>
<ellipse cx="136.6" cy="199.0" rx="20.4" ry="18.5" fill="#fff" stroke="#c8242a" stroke-width="0.95"/>
<text x="136.1" y="205.3" font-family="Liberation Sans, sans-serif" font-size="19.6" text-anchor="middle" fill="#000">6</text>
<ellipse cx="508.7" cy="216.5" rx="20.0" ry="19.0" fill="#fff" stroke="#c8242a" stroke-width="0.95"/>
<text x="508.2" y="222.8" font-family="Liberation Sans, sans-serif" font-size="19.6" text-anchor="middle" fill="#000">3</text>
<ellipse cx="115.0" cy="245.0" rx="20.5" ry="18.8" fill="#fff" stroke="#c8242a" stroke-width="0.95"/>
<text x="114.5" y="251.3" font-family="Liberation Sans, sans-serif" font-size="19.6" text-anchor="middle" fill="#000">4</text>
<ellipse cx="546.5" cy="252.1" rx="32.3" ry="18.4" fill="#fff" stroke="#c8242a" stroke-width="0.95"/>
<text x="546.0" y="258.4" font-family="Liberation Sans, sans-serif" font-size="19.6" text-anchor="middle" fill="#000">11</text>
<ellipse cx="146.9" cy="284.0" rx="20.6" ry="18.5" fill="#fff" stroke="#c8242a" stroke-width="0.95"/>
<text x="146.4" y="290.3" font-family="Liberation Sans, sans-serif" font-size="19.6" text-anchor="middle" fill="#000">1</text>
<ellipse cx="770.6" cy="294.2" rx="34.4" ry="18.8" fill="#fff" stroke="#c8242a" stroke-width="0.95"/>
<text x="770.1" y="300.5" font-family="Liberation Sans, sans-serif" font-size="19.6" text-anchor="middle" fill="#000">16</text>
<ellipse cx="145.6" cy="382.0" rx="31.1" ry="18.8" fill="#fff" stroke="#c8242a" stroke-width="0.95"/>
<text x="145.1" y="388.3" font-family="Liberation Sans, sans-serif" font-size="19.6" text-anchor="middle" fill="#000">14</text>
<ellipse cx="758.0" cy="418.1" rx="35.0" ry="18.6" fill="#fff" stroke="#c8242a" stroke-width="0.95"/>
<text x="757.5" y="424.4" font-family="Liberation Sans, sans-serif" font-size="19.6" text-anchor="middle" fill="#000">15</text>
<ellipse cx="747.5" cy="475.4" rx="20.5" ry="19.1" fill="#fff" stroke="#c8242a" stroke-width="0.95"/>
<text x="747.0" y="481.7" font-family="Liberation Sans, sans-serif" font-size="19.6" text-anchor="middle" fill="#000">9</text>
<ellipse cx="152.1" cy="483.0" rx="35.9" ry="18.8" fill="#fff" stroke="#c8242a" stroke-width="0.95"/>
<text x="151.6" y="489.3" font-family="Liberation Sans, sans-serif" font-size="19.6" text-anchor="middle" fill="#000">10</text>
<ellipse cx="757.5" cy="530.0" rx="20.5" ry="18.8" fill="#fff" stroke="#c8242a" stroke-width="0.95"/>
<text x="757.0" y="536.3" font-family="Liberation Sans, sans-serif" font-size="19.6" text-anchor="middle" fill="#000">8</text>
<ellipse cx="164.4" cy="542.2" rx="20.1" ry="18.5" fill="#fff" stroke="#c8242a" stroke-width="0.95"/>
<text x="163.9" y="548.5" font-family="Liberation Sans, sans-serif" font-size="19.6" text-anchor="middle" fill="#000">7</text></svg>
<div class="t" id="l0" style="top:60.15px;transform:scaleX(1.0457)">1. Закрытая каменка из нержавеющей стали</div>
<div class="t" id="l1" style="top:88.94px;transform:scaleX(1.0550)">2. Патрубок дымохода печи диаметр 150 мм</div>
<div class="t" id="l2" style="top:117.73px;transform:scaleX(1.0425)">3. Отверстие выхода пара из закрытой каменки</div>
<div class="t" id="l3" style="top:146.52px;transform:scaleX(1.0590)">4. Люк для закладки камней в закрытую каменку</div>
<div class="t" id="l4" style="top:175.31px;transform:scaleX(1.0318)">5. Воронка с трубкой  для подачи воды в закрытую</div>
<div class="t" id="l5" style="top:204.10px;transform:scaleX(1.0673)">каменку</div>
<div class="t" id="l6" style="top:232.89px;transform:scaleX(1.0448)">6. Желоб для распределения воды по всей длине</div>
<div class="t" id="l7" style="top:261.68px;transform:scaleX(1.0860)">каменки</div>
<div class="t" id="l8" style="top:290.47px;transform:scaleX(1.0537)">7. Зольный ящик</div>
<div class="t" id="l9" style="top:319.26px;transform:scaleX(1.0416)">8. Регулировка подачи воздуха</div>
<div class="t" id="l10" style="top:348.05px;transform:scaleX(1.0515)">9. Зольный совок с декоративной накладкой</div>
<div class="t" id="l11" style="top:376.84px;transform:scaleX(1.0618)">10. Чугунный колосник</div>
<div class="t" id="l12" style="top:405.63px;transform:scaleX(1.0553)">11. Выносной топливный канал</div>
<div class="t" id="l13" style="top:434.42px;transform:scaleX(1.0322)">12. Сетчатый кожух</div>
<div class="t" id="l14" style="top:463.21px;transform:scaleX(1.0361)">13. Открытая каменка</div>
<div class="t" id="l15" style="top:492.00px;transform:scaleX(1.0460)">14. Чугунная камера сгорания</div>
<div class="t" id="l16" style="top:520.79px;transform:scaleX(1.0383)">15. Панорамная дверца с жаропрочным стеклом  и</div>
<div class="t" id="l17" style="top:549.58px;transform:scaleX(1.0246)">системой чистое стекло</div>
<div class="t" id="l18" style="top:578.37px;transform:scaleX(1.0416)">16. Декоративный фасад печи из чугуна</div>
<div class="t" id="l19" style="top:607.16px;transform:scaleX(1.0510)">17. Чугунный корпус печи</div>

</body></html>
